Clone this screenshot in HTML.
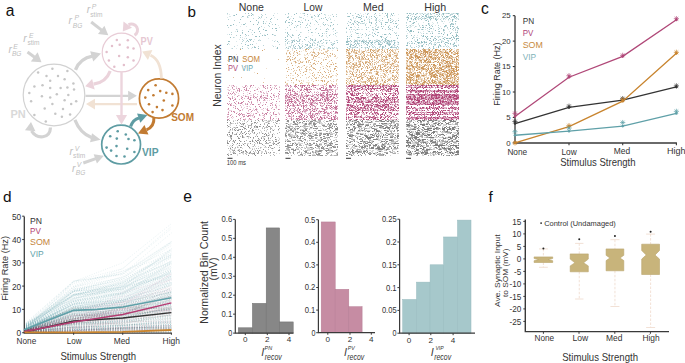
<!DOCTYPE html>
<html><head><meta charset="utf-8"><style>
html,body{margin:0;padding:0;background:#fff;}
svg{display:block;font-family:"Liberation Sans", sans-serif;}
</style></head><body>
<svg width="685" height="363" viewBox="0 0 685 363">
<rect width="685" height="363" fill="#fff"/>
<text x="5.8" y="15.9" font-size="15.6" fill="#111">a</text>
<text x="23.2" y="42.3" font-size="10.4" fill="#c0c0c0" font-style="italic">r</text>
<text x="28.9" y="37.8" font-size="6.8" fill="#c0c0c0" font-style="italic">E</text>
<text x="27.4" y="45.4" font-size="6.6" fill="#c0c0c0">stim</text>
<text x="8.4" y="52.9" font-size="10.4" fill="#c0c0c0" font-style="italic">r</text>
<text x="13.2" y="48.5" font-size="6.8" fill="#c0c0c0" font-style="italic">E</text>
<text x="11.9" y="56" font-size="6.6" fill="#c0c0c0" font-style="italic">BG</text>
<text x="86.7" y="13.4" font-size="10.4" fill="#c0c0c0" font-style="italic">r</text>
<text x="91.8" y="8.9" font-size="6.8" fill="#c0c0c0" font-style="italic">P</text>
<text x="90.3" y="16.7" font-size="6.6" fill="#c0c0c0">stim</text>
<text x="68.4" y="24.2" font-size="10.4" fill="#c0c0c0" font-style="italic">r</text>
<text x="74.4" y="19.8" font-size="6.8" fill="#c0c0c0" font-style="italic">P</text>
<text x="72.8" y="27.9" font-size="6.6" fill="#c0c0c0" font-style="italic">BG</text>
<text x="69.4" y="154.9" font-size="10.4" fill="#c0c0c0" font-style="italic">r</text>
<text x="74.7" y="150.5" font-size="6.8" fill="#c0c0c0" font-style="italic">V</text>
<text x="73.1" y="158.2" font-size="6.6" fill="#c0c0c0">stim</text>
<text x="72" y="172" font-size="10.4" fill="#c0c0c0" font-style="italic">r</text>
<text x="76.8" y="167" font-size="6.8" fill="#c0c0c0" font-style="italic">V</text>
<text x="75.8" y="174.7" font-size="6.6" fill="#c0c0c0" font-style="italic">BG</text>
<path d="M27.5 52L34.63 57.19" stroke="#d3d3d3" stroke-width="3" fill="none"/>
<path d="M41.5 62.2L30.84 61.55L37.61 52.25Z" fill="#d3d3d3"/>
<path d="M91.2 22L101.59 30.08" stroke="#d3d3d3" stroke-width="3" fill="none"/>
<path d="M108.3 35.3L97.97 33.92L104.42 25.63Z" fill="#d3d3d3"/>
<path d="M83.3 163L95.78 158.62" stroke="#d3d3d3" stroke-width="3" fill="none"/>
<path d="M103.8 155.8L96.93 163.41L93.68 154.16Z" fill="#d3d3d3"/>
<circle cx="54" cy="95" r="30.8" fill="none" stroke="#d2d2d2" stroke-width="1.2"/>
<g fill="#c6c6c6"><circle cx="52.4" cy="68.7" r="1.25"/><circle cx="38.1" cy="72.6" r="1.25"/><circle cx="67.4" cy="70.9" r="1.25"/><circle cx="46.5" cy="75.9" r="1.25"/><circle cx="58" cy="75.9" r="1.25"/><circle cx="50.2" cy="80.8" r="1.25"/><circle cx="64.6" cy="79.2" r="1.25"/><circle cx="73.4" cy="83.6" r="1.25"/><circle cx="34.4" cy="86.5" r="1.25"/><circle cx="42.5" cy="85.2" r="1.25"/><circle cx="50.2" cy="88" r="1.25"/><circle cx="60.6" cy="88" r="1.25"/><circle cx="67.4" cy="87.4" r="1.25"/><circle cx="74" cy="89.6" r="1.25"/><circle cx="29.3" cy="92.9" r="1.25"/><circle cx="41.9" cy="96.2" r="1.25"/><circle cx="50.2" cy="97.5" r="1.25"/><circle cx="56.8" cy="94.2" r="1.25"/><circle cx="68.3" cy="95.1" r="1.25"/><circle cx="31.1" cy="101.3" r="1.25"/><circle cx="64.6" cy="100.2" r="1.25"/><circle cx="76.2" cy="101.3" r="1.25"/><circle cx="52.4" cy="103.9" r="1.25"/><circle cx="71.2" cy="103.9" r="1.25"/><circle cx="44.7" cy="108.5" r="1.25"/><circle cx="63" cy="109" r="1.25"/><circle cx="55.3" cy="113.8" r="1.25"/><circle cx="34.4" cy="114.9" r="1.25"/><circle cx="61.9" cy="116.7" r="1.25"/><circle cx="70.1" cy="114.5" r="1.25"/><circle cx="45.8" cy="121.5" r="1.25"/></g>
<text x="10.5" y="117.9" font-size="11" fill="#d9d9d9" font-weight="bold">PN</text>
<path d="M50.5 127.5C50 139 37 139.5 31.5 131" stroke="#d3d3d3" stroke-width="3.2" fill="none"/>
<path d="M31 122L35.43 131.28L24.97 130.32Z" fill="#d3d3d3"/>
<circle cx="121.6" cy="52.5" r="19.4" fill="none" stroke="#e8ccd6" stroke-width="1.2"/>
<g fill="#e3bfcc"><circle cx="116.8" cy="39.9" r="1.25"/><circle cx="127.8" cy="40.3" r="1.25"/><circle cx="112" cy="46" r="1.25"/><circle cx="119.7" cy="44.7" r="1.25"/><circle cx="127.8" cy="47.6" r="1.25"/><circle cx="133.5" cy="48.5" r="1.25"/><circle cx="106.6" cy="52" r="1.25"/><circle cx="119.1" cy="55.9" r="1.25"/><circle cx="127.8" cy="57.2" r="1.25"/><circle cx="108.9" cy="60.5" r="1.25"/><circle cx="133.5" cy="60.5" r="1.25"/><circle cx="114.3" cy="66.8" r="1.25"/><circle cx="123.9" cy="64.9" r="1.25"/></g>
<text x="140.6" y="45" font-size="10.2" fill="#e6c7d2" font-weight="bold" textLength="12.2" lengthAdjust="spacingAndGlyphs">PV</text>
<path d="M134.5 35.3A5.6 5.6 0 1 0 128.5 24.8" stroke="#ead3db" stroke-width="3" fill="none"/>
<path d="M122.8 31.5L123.48 21.54L132.02 27.66Z" fill="#ead3db"/>
<circle cx="159" cy="98.5" r="19.6" fill="none" stroke="#c27b32" stroke-width="1.7"/>
<g fill="#c27b32"><circle cx="155.6" cy="85.2" r="1.3"/><circle cx="148.2" cy="90.1" r="1.3"/><circle cx="160.2" cy="91.1" r="1.3"/><circle cx="166.3" cy="92.8" r="1.3"/><circle cx="172.4" cy="93.9" r="1.3"/><circle cx="153.4" cy="95.2" r="1.3"/><circle cx="145.3" cy="97.6" r="1.3"/><circle cx="163.8" cy="100.5" r="1.3"/><circle cx="149" cy="104.3" r="1.3"/><circle cx="156.9" cy="107.1" r="1.3"/><circle cx="172.4" cy="105.5" r="1.3"/><circle cx="162.5" cy="110.1" r="1.3"/><circle cx="152.6" cy="112.1" r="1.3"/></g>
<text x="171.2" y="121.3" font-size="10.3" fill="#c27b32" font-weight="bold" textLength="22.8" lengthAdjust="spacingAndGlyphs">SOM</text>
<circle cx="121.1" cy="144.6" r="19.4" fill="none" stroke="#5e9ca3" stroke-width="1.7"/>
<g fill="#5e9ca3"><circle cx="117.7" cy="131.3" r="1.3"/><circle cx="110.2" cy="136.3" r="1.3"/><circle cx="125.8" cy="134.5" r="1.3"/><circle cx="116.8" cy="138.6" r="1.3"/><circle cx="128.5" cy="139" r="1.3"/><circle cx="134.4" cy="140.2" r="1.3"/><circle cx="106.6" cy="147.6" r="1.3"/><circle cx="116.5" cy="146.1" r="1.3"/><circle cx="127.2" cy="148.8" r="1.3"/><circle cx="111.1" cy="150.6" r="1.3"/><circle cx="134.4" cy="152" r="1.3"/><circle cx="116.5" cy="156" r="1.3"/><circle cx="124.5" cy="156.5" r="1.3"/></g>
<text x="142" y="156.1" font-size="10.3" fill="#5e9ca3" font-weight="bold" textLength="16.6" lengthAdjust="spacingAndGlyphs">VIP</text>
<path d="M75.5 69.8Q80 58.5 92.5 56.2" stroke="#d3d3d3" stroke-width="3.4" fill="none"/>
<path d="M101 53.5L93.28 61.51L90.12 51.19Z" fill="#d3d3d3"/>
<path d="M110.2 71Q106 82.5 93.5 84.2" stroke="#ebd3db" stroke-width="3.2" fill="none"/>
<path d="M85.2 86.3L92.11 79.11L94.69 89.39Z" fill="#ebd3db"/>
<path d="M85.5 95.8L128.6 95.8" stroke="#d3d3d3" stroke-width="2.2" fill="none"/>
<path d="M136.9 95.8L128.1 100.9L128.1 90.7Z" fill="#d3d3d3"/>
<path d="M137 104.1L94.5 104.1" stroke="#f1e2d4" stroke-width="2.3" fill="none"/>
<path d="M86 104.1L95 98.8L95 109.4Z" fill="#f1e2d4"/>
<path d="M121.5 72L121.5 115.6" stroke="#ecd5dd" stroke-width="2.4" fill="none"/>
<path d="M121.5 124.4L115.9 115.1L127.1 115.1Z" fill="#ecd5dd"/>
<path d="M161.4 78.6Q161.2 60 150.5 55.2" stroke="#f1e2d4" stroke-width="2.8" fill="none"/>
<path d="M142.2 51.4L152.39 49.93L147.91 59.97Z" fill="#f1e2d4"/>
<path d="M74.9 119.9Q80 133 91.5 137.6" stroke="#d3d3d3" stroke-width="3.2" fill="none"/>
<path d="M100.6 139.8L90.06 142.35L92.04 133.15Z" fill="#d3d3d3"/>
<path d="M130.6 126.6Q133 119.5 139 118" stroke="#5e9ca3" stroke-width="3" fill="none"/>
<path d="M147.4 115.1L140.34 122.82L137.06 113.48Z" fill="#5e9ca3"/>
<path d="M153.9 117.2Q154.5 127 146.5 129.8" stroke="#c27b32" stroke-width="3" fill="none"/>
<path d="M138 133.4L144.45 125.11L148.45 134.49Z" fill="#c27b32"/>
<text x="187.4" y="16.5" font-size="15.2" fill="#111">b</text>
<text x="238.7" y="11.2" font-size="10.3" fill="#333" textLength="25.2" lengthAdjust="spacingAndGlyphs">None</text>
<text x="303.5" y="11.2" font-size="10.3" fill="#333" textLength="18.8" lengthAdjust="spacingAndGlyphs">Low</text>
<text x="363" y="11.2" font-size="10.3" fill="#333" textLength="20.5" lengthAdjust="spacingAndGlyphs">Med</text>
<text x="424.3" y="11.2" font-size="10.3" fill="#333" textLength="21.9" lengthAdjust="spacingAndGlyphs">High</text>
<text x="221.2" y="75.5" font-size="10.6" fill="#333" text-anchor="middle" textLength="62.5" lengthAdjust="spacingAndGlyphs" transform="rotate(-90 221.2 75.5)">Neuron Index</text>
<path fill="#4a8f98" fill-opacity="0.19" d="M274 13h1v1h-1zM277 13h1v1h-1zM227 14h1v1h-1zM229 14h1v1h-1zM253 14h1v1h-1zM253 15h1v1h-1zM229 16h1v1h-1zM230 16h1v1h-1zM258 16h1v1h-1zM227 17h1v1h-1zM241 17h1v1h-1zM248 17h1v1h-1zM274 17h1v1h-1zM260 18h1v1h-1zM264 19h1v1h-1zM258 21h1v1h-1zM266 21h1v1h-1zM263 22h1v1h-1zM271 22h1v1h-1zM258 23h1v1h-1zM241 24h1v1h-1zM236 25h1v1h-1zM278 25h1v1h-1zM240 26h1v1h-1zM246 26h1v1h-1zM264 27h1v1h-1zM279 27h1v1h-1zM237 29h1v1h-1zM249 29h1v1h-1zM237 30h1v1h-1zM235 31h1v1h-1zM251 32h1v1h-1zM227 34h1v1h-1zM264 34h1v1h-1zM273 34h1v1h-1zM245 36h1v1h-1zM234 37h1v1h-1zM242 37h1v1h-1zM244 38h1v1h-1zM268 38h1v1h-1zM239 39h1v1h-1zM254 39h1v1h-1zM259 39h1v1h-1zM259 40h1v1h-1zM272 40h1v1h-1zM275 40h1v1h-1zM236 41h1v1h-1zM245 42h1v1h-1zM278 42h1v1h-1zM256 43h1v1h-1zM229 44h1v1h-1zM237 45h1v1h-1zM272 45h1v1h-1zM275 46h1v1h-1zM247 47h1v1h-1zM231 48h1v1h-1zM236 48h1v1h-1zM251 48h1v1h-1zM276 48h1v1h-1z"/>
<path fill="#4a8f98" fill-opacity="0.38" d="M227 13h1v1h-1zM245 13h1v1h-1zM261 14h1v1h-1zM265 14h1v1h-1zM233 15h1v1h-1zM248 15h1v1h-1zM249 15h1v1h-1zM262 15h1v1h-1zM273 15h1v1h-1zM243 16h1v1h-1zM247 16h1v1h-1zM261 16h1v1h-1zM247 17h1v1h-1zM261 17h1v1h-1zM266 17h1v1h-1zM253 18h1v1h-1zM258 18h1v1h-1zM228 19h1v1h-1zM277 19h1v1h-1zM234 20h1v1h-1zM270 21h1v1h-1zM239 22h1v1h-1zM245 23h1v1h-1zM265 23h1v1h-1zM272 24h1v1h-1zM231 25h1v1h-1zM268 25h1v1h-1zM261 26h1v1h-1zM269 26h1v1h-1zM228 27h1v1h-1zM236 29h1v1h-1zM250 29h1v1h-1zM258 29h1v1h-1zM242 30h1v1h-1zM252 30h1v1h-1zM231 32h1v1h-1zM242 33h1v1h-1zM260 33h1v1h-1zM229 34h1v1h-1zM231 34h1v1h-1zM252 34h1v1h-1zM236 35h1v1h-1zM246 35h1v1h-1zM248 35h1v1h-1zM264 35h1v1h-1zM274 35h1v1h-1zM275 35h1v1h-1zM233 37h1v1h-1zM240 37h1v1h-1zM246 38h1v1h-1zM242 39h1v1h-1zM250 39h1v1h-1zM243 40h1v1h-1zM258 40h1v1h-1zM260 40h1v1h-1zM242 41h1v1h-1zM246 41h1v1h-1zM253 41h1v1h-1zM274 41h1v1h-1zM228 43h1v1h-1zM241 43h1v1h-1zM279 44h1v1h-1zM247 45h1v1h-1zM263 45h1v1h-1zM234 46h1v1h-1zM242 46h1v1h-1zM254 46h1v1h-1zM258 46h1v1h-1zM273 46h1v1h-1zM252 47h1v1h-1zM232 48h1v1h-1zM240 48h1v1h-1zM248 48h1v1h-1z"/>
<path fill="#4a8f98" fill-opacity="0.57" d="M248 13h1v1h-1zM251 13h1v1h-1zM236 14h1v1h-1zM252 14h1v1h-1zM234 15h1v1h-1zM251 15h1v1h-1zM242 16h1v1h-1zM259 17h1v1h-1zM271 18h1v1h-1zM240 19h1v1h-1zM270 19h1v1h-1zM256 20h1v1h-1zM250 21h1v1h-1zM263 21h1v1h-1zM258 22h1v1h-1zM263 23h1v1h-1zM269 23h1v1h-1zM233 24h1v1h-1zM243 24h1v1h-1zM244 24h1v1h-1zM253 24h1v1h-1zM257 24h1v1h-1zM275 24h1v1h-1zM227 25h1v1h-1zM230 25h1v1h-1zM259 27h1v1h-1zM258 28h1v1h-1zM272 28h1v1h-1zM275 28h1v1h-1zM276 28h1v1h-1zM263 29h1v1h-1zM265 30h1v1h-1zM266 30h1v1h-1zM276 30h1v1h-1zM237 31h1v1h-1zM248 31h1v1h-1zM259 31h1v1h-1zM242 32h1v1h-1zM254 32h1v1h-1zM245 34h1v1h-1zM267 34h1v1h-1zM272 34h1v1h-1zM240 35h1v1h-1zM262 35h1v1h-1zM265 35h1v1h-1zM255 36h1v1h-1zM256 36h1v1h-1zM259 36h1v1h-1zM230 37h1v1h-1zM249 39h1v1h-1zM251 39h1v1h-1zM247 40h1v1h-1zM250 40h1v1h-1zM228 41h1v1h-1zM229 41h1v1h-1zM248 41h1v1h-1zM277 41h1v1h-1zM227 44h1v1h-1zM245 44h1v1h-1zM250 44h1v1h-1zM252 44h1v1h-1zM248 45h1v1h-1zM254 47h1v1h-1zM255 47h1v1h-1zM277 47h1v1h-1zM242 48h1v1h-1zM258 48h1v1h-1zM277 48h1v1h-1z"/>
<path fill="#c4843c" fill-opacity="0.25" d="M236 54h1v1h-1zM231 58h1v1h-1zM227 60h1v1h-1zM251 60h1v1h-1zM266 68h1v1h-1zM234 70h1v1h-1zM254 72h1v1h-1zM264 78h1v1h-1z"/>
<path fill="#c4843c" fill-opacity="0.5" d="M264 49h1v1h-1zM245 58h1v1h-1zM278 59h1v1h-1zM227 64h1v1h-1zM244 66h1v1h-1zM233 77h1v1h-1zM241 77h1v1h-1zM263 82h1v1h-1z"/>
<path fill="#c4843c" fill-opacity="0.75" d="M240 49h1v1h-1zM262 50h1v1h-1zM257 73h1v1h-1z"/>
<path fill="#b04476" fill-opacity="0.22" d="M231 85h1v1h-1zM232 85h1v1h-1zM260 85h1v1h-1zM271 85h1v1h-1zM275 85h1v1h-1zM231 86h1v1h-1zM233 86h1v1h-1zM236 86h1v1h-1zM242 86h1v1h-1zM247 86h1v1h-1zM279 86h1v1h-1zM227 87h1v1h-1zM236 87h1v1h-1zM246 87h1v1h-1zM250 87h1v1h-1zM252 87h1v1h-1zM255 87h1v1h-1zM258 87h1v1h-1zM272 87h1v1h-1zM274 87h1v1h-1zM257 88h1v1h-1zM259 88h1v1h-1zM271 88h1v1h-1zM227 89h1v1h-1zM228 89h1v1h-1zM230 89h1v1h-1zM237 89h1v1h-1zM256 89h1v1h-1zM277 89h1v1h-1zM279 89h1v1h-1zM228 90h1v1h-1zM238 90h1v1h-1zM247 90h1v1h-1zM255 90h1v1h-1zM262 90h1v1h-1zM231 91h1v1h-1zM233 91h1v1h-1zM235 91h1v1h-1zM237 91h1v1h-1zM243 91h1v1h-1zM258 91h1v1h-1zM261 91h1v1h-1zM266 91h1v1h-1zM247 92h1v1h-1zM260 92h1v1h-1zM266 92h1v1h-1zM238 93h1v1h-1zM250 93h1v1h-1zM254 93h1v1h-1zM263 93h1v1h-1zM266 93h1v1h-1zM274 93h1v1h-1zM229 94h1v1h-1zM234 94h1v1h-1zM247 94h1v1h-1zM261 94h1v1h-1zM267 94h1v1h-1zM234 95h1v1h-1zM239 95h1v1h-1zM245 95h1v1h-1zM250 95h1v1h-1zM251 95h1v1h-1zM265 95h1v1h-1zM266 95h1v1h-1zM247 96h1v1h-1zM274 96h1v1h-1zM229 97h1v1h-1zM234 97h1v1h-1zM241 97h1v1h-1zM251 97h1v1h-1zM261 97h1v1h-1zM262 97h1v1h-1zM263 97h1v1h-1zM266 97h1v1h-1zM278 97h1v1h-1zM254 98h1v1h-1zM256 98h1v1h-1zM269 98h1v1h-1zM278 98h1v1h-1zM279 98h1v1h-1zM251 99h1v1h-1zM259 99h1v1h-1zM277 99h1v1h-1zM265 100h1v1h-1zM267 100h1v1h-1zM269 100h1v1h-1zM257 101h1v1h-1zM257 102h1v1h-1zM263 102h1v1h-1zM239 103h1v1h-1zM260 103h1v1h-1zM276 103h1v1h-1zM231 104h1v1h-1zM236 104h1v1h-1zM242 104h1v1h-1zM246 104h1v1h-1zM263 104h1v1h-1zM234 105h1v1h-1zM243 105h1v1h-1zM276 105h1v1h-1zM279 105h1v1h-1zM241 106h1v1h-1zM246 106h1v1h-1zM249 106h1v1h-1zM267 106h1v1h-1zM235 107h1v1h-1zM244 107h1v1h-1zM250 107h1v1h-1zM255 107h1v1h-1zM275 107h1v1h-1zM243 108h1v1h-1zM246 108h1v1h-1zM253 108h1v1h-1zM265 108h1v1h-1zM276 108h1v1h-1zM227 109h1v1h-1zM253 109h1v1h-1zM257 109h1v1h-1zM261 109h1v1h-1zM262 109h1v1h-1zM266 109h1v1h-1zM273 109h1v1h-1zM229 110h1v1h-1zM230 110h1v1h-1zM231 110h1v1h-1zM242 110h1v1h-1zM263 110h1v1h-1zM269 110h1v1h-1zM228 111h1v1h-1zM239 111h1v1h-1zM248 111h1v1h-1zM274 111h1v1h-1zM237 112h1v1h-1zM246 112h1v1h-1zM250 112h1v1h-1zM257 112h1v1h-1zM258 112h1v1h-1zM262 112h1v1h-1zM278 112h1v1h-1zM228 113h1v1h-1zM251 113h1v1h-1zM253 113h1v1h-1zM263 113h1v1h-1zM269 113h1v1h-1zM278 113h1v1h-1zM279 113h1v1h-1zM239 114h1v1h-1zM250 114h1v1h-1zM270 114h1v1h-1zM274 114h1v1h-1zM244 115h1v1h-1zM251 115h1v1h-1zM253 115h1v1h-1zM260 115h1v1h-1zM262 115h1v1h-1zM264 115h1v1h-1zM250 116h1v1h-1zM252 116h1v1h-1zM275 116h1v1h-1zM276 116h1v1h-1zM233 117h1v1h-1zM241 117h1v1h-1zM243 117h1v1h-1zM253 117h1v1h-1zM229 118h1v1h-1zM232 118h1v1h-1zM245 118h1v1h-1zM276 118h1v1h-1zM240 119h1v1h-1zM248 119h1v1h-1zM249 119h1v1h-1zM260 119h1v1h-1zM261 119h1v1h-1zM263 119h1v1h-1z"/>
<path fill="#b04476" fill-opacity="0.44" d="M229 85h1v1h-1zM245 85h1v1h-1zM246 85h1v1h-1zM250 85h1v1h-1zM262 85h1v1h-1zM274 85h1v1h-1zM276 85h1v1h-1zM234 86h1v1h-1zM265 86h1v1h-1zM275 86h1v1h-1zM228 87h1v1h-1zM243 87h1v1h-1zM263 87h1v1h-1zM264 87h1v1h-1zM267 87h1v1h-1zM279 87h1v1h-1zM232 88h1v1h-1zM236 88h1v1h-1zM239 88h1v1h-1zM249 88h1v1h-1zM267 88h1v1h-1zM274 88h1v1h-1zM233 89h1v1h-1zM234 89h1v1h-1zM229 90h1v1h-1zM241 90h1v1h-1zM245 90h1v1h-1zM270 90h1v1h-1zM250 91h1v1h-1zM228 92h1v1h-1zM236 92h1v1h-1zM261 92h1v1h-1zM263 92h1v1h-1zM234 93h1v1h-1zM243 93h1v1h-1zM255 93h1v1h-1zM264 93h1v1h-1zM267 93h1v1h-1zM231 94h1v1h-1zM235 94h1v1h-1zM253 94h1v1h-1zM257 94h1v1h-1zM273 94h1v1h-1zM227 95h1v1h-1zM238 95h1v1h-1zM243 95h1v1h-1zM253 95h1v1h-1zM261 95h1v1h-1zM274 95h1v1h-1zM278 95h1v1h-1zM232 96h1v1h-1zM241 96h1v1h-1zM246 96h1v1h-1zM248 96h1v1h-1zM253 96h1v1h-1zM254 96h1v1h-1zM257 96h1v1h-1zM267 96h1v1h-1zM278 96h1v1h-1zM232 97h1v1h-1zM256 97h1v1h-1zM265 97h1v1h-1zM274 97h1v1h-1zM229 98h1v1h-1zM235 98h1v1h-1zM244 98h1v1h-1zM247 98h1v1h-1zM250 98h1v1h-1zM259 98h1v1h-1zM261 98h1v1h-1zM263 98h1v1h-1zM265 98h1v1h-1zM234 99h1v1h-1zM239 99h1v1h-1zM242 99h1v1h-1zM263 100h1v1h-1zM264 100h1v1h-1zM229 101h1v1h-1zM236 101h1v1h-1zM251 101h1v1h-1zM279 101h1v1h-1zM249 102h1v1h-1zM260 102h1v1h-1zM272 102h1v1h-1zM229 103h1v1h-1zM231 103h1v1h-1zM245 103h1v1h-1zM247 103h1v1h-1zM251 103h1v1h-1zM270 103h1v1h-1zM245 104h1v1h-1zM250 104h1v1h-1zM259 104h1v1h-1zM272 104h1v1h-1zM275 104h1v1h-1zM231 105h1v1h-1zM233 105h1v1h-1zM240 105h1v1h-1zM272 105h1v1h-1zM247 106h1v1h-1zM276 106h1v1h-1zM233 107h1v1h-1zM241 107h1v1h-1zM272 107h1v1h-1zM276 107h1v1h-1zM247 108h1v1h-1zM256 108h1v1h-1zM263 108h1v1h-1zM267 108h1v1h-1zM271 108h1v1h-1zM228 109h1v1h-1zM242 109h1v1h-1zM249 109h1v1h-1zM279 109h1v1h-1zM239 110h1v1h-1zM248 110h1v1h-1zM252 110h1v1h-1zM254 110h1v1h-1zM256 110h1v1h-1zM234 111h1v1h-1zM257 111h1v1h-1zM270 112h1v1h-1zM249 113h1v1h-1zM255 113h1v1h-1zM227 114h1v1h-1zM231 114h1v1h-1zM243 114h1v1h-1zM244 114h1v1h-1zM253 114h1v1h-1zM273 114h1v1h-1zM279 114h1v1h-1zM242 115h1v1h-1zM246 115h1v1h-1zM250 115h1v1h-1zM252 115h1v1h-1zM259 115h1v1h-1zM263 115h1v1h-1zM227 116h1v1h-1zM228 116h1v1h-1zM232 116h1v1h-1zM264 116h1v1h-1zM270 116h1v1h-1zM227 117h1v1h-1zM231 117h1v1h-1zM254 117h1v1h-1zM263 117h1v1h-1zM244 119h1v1h-1zM245 119h1v1h-1zM251 119h1v1h-1zM257 119h1v1h-1zM270 119h1v1h-1zM272 119h1v1h-1z"/>
<path fill="#b04476" fill-opacity="0.66" d="M233 85h1v1h-1zM251 85h1v1h-1zM253 85h1v1h-1zM263 85h1v1h-1zM267 85h1v1h-1zM270 85h1v1h-1zM245 86h1v1h-1zM250 86h1v1h-1zM263 86h1v1h-1zM232 87h1v1h-1zM244 87h1v1h-1zM270 87h1v1h-1zM238 88h1v1h-1zM246 88h1v1h-1zM265 88h1v1h-1zM276 88h1v1h-1zM239 89h1v1h-1zM244 89h1v1h-1zM246 89h1v1h-1zM257 89h1v1h-1zM271 89h1v1h-1zM237 90h1v1h-1zM239 90h1v1h-1zM246 90h1v1h-1zM248 90h1v1h-1zM254 90h1v1h-1zM239 91h1v1h-1zM260 91h1v1h-1zM268 91h1v1h-1zM279 91h1v1h-1zM233 92h1v1h-1zM228 93h1v1h-1zM230 93h1v1h-1zM232 93h1v1h-1zM249 93h1v1h-1zM271 93h1v1h-1zM278 93h1v1h-1zM279 94h1v1h-1zM263 95h1v1h-1zM267 95h1v1h-1zM273 95h1v1h-1zM237 96h1v1h-1zM245 96h1v1h-1zM260 96h1v1h-1zM261 96h1v1h-1zM270 96h1v1h-1zM276 96h1v1h-1zM228 97h1v1h-1zM242 97h1v1h-1zM248 97h1v1h-1zM250 97h1v1h-1zM253 97h1v1h-1zM255 97h1v1h-1zM260 97h1v1h-1zM264 97h1v1h-1zM271 97h1v1h-1zM230 98h1v1h-1zM232 98h1v1h-1zM241 98h1v1h-1zM248 98h1v1h-1zM266 98h1v1h-1zM267 98h1v1h-1zM230 99h1v1h-1zM235 99h1v1h-1zM249 99h1v1h-1zM250 99h1v1h-1zM257 99h1v1h-1zM264 99h1v1h-1zM271 99h1v1h-1zM273 99h1v1h-1zM233 100h1v1h-1zM257 100h1v1h-1zM259 100h1v1h-1zM243 101h1v1h-1zM248 101h1v1h-1zM276 101h1v1h-1zM234 102h1v1h-1zM238 102h1v1h-1zM241 102h1v1h-1zM242 102h1v1h-1zM251 102h1v1h-1zM266 102h1v1h-1zM227 103h1v1h-1zM235 103h1v1h-1zM238 103h1v1h-1zM240 103h1v1h-1zM241 103h1v1h-1zM271 103h1v1h-1zM228 104h1v1h-1zM230 104h1v1h-1zM247 104h1v1h-1zM252 104h1v1h-1zM253 104h1v1h-1zM258 104h1v1h-1zM265 104h1v1h-1zM230 105h1v1h-1zM262 105h1v1h-1zM270 105h1v1h-1zM275 105h1v1h-1zM235 106h1v1h-1zM255 106h1v1h-1zM259 106h1v1h-1zM260 107h1v1h-1zM228 108h1v1h-1zM235 108h1v1h-1zM237 108h1v1h-1zM238 109h1v1h-1zM250 109h1v1h-1zM255 109h1v1h-1zM256 109h1v1h-1zM267 109h1v1h-1zM274 109h1v1h-1zM278 109h1v1h-1zM240 110h1v1h-1zM267 110h1v1h-1zM268 110h1v1h-1zM231 111h1v1h-1zM233 111h1v1h-1zM251 111h1v1h-1zM228 112h1v1h-1zM234 112h1v1h-1zM267 112h1v1h-1zM273 112h1v1h-1zM236 113h1v1h-1zM239 113h1v1h-1zM241 113h1v1h-1zM247 113h1v1h-1zM248 113h1v1h-1zM256 113h1v1h-1zM262 113h1v1h-1zM265 113h1v1h-1zM266 113h1v1h-1zM273 113h1v1h-1zM228 114h1v1h-1zM238 114h1v1h-1zM240 114h1v1h-1zM242 114h1v1h-1zM259 114h1v1h-1zM264 114h1v1h-1zM266 114h1v1h-1zM275 114h1v1h-1zM276 114h1v1h-1zM230 115h1v1h-1zM239 115h1v1h-1zM248 115h1v1h-1zM249 115h1v1h-1zM271 115h1v1h-1zM236 116h1v1h-1zM243 116h1v1h-1zM244 116h1v1h-1zM247 116h1v1h-1zM248 116h1v1h-1zM254 116h1v1h-1zM270 117h1v1h-1zM240 118h1v1h-1zM249 118h1v1h-1zM258 118h1v1h-1zM264 118h1v1h-1zM270 118h1v1h-1zM273 118h1v1h-1zM278 118h1v1h-1zM227 119h1v1h-1zM228 119h1v1h-1zM238 119h1v1h-1zM243 119h1v1h-1zM250 119h1v1h-1zM262 119h1v1h-1zM278 119h1v1h-1z"/>
<path fill="#1a1a1a" fill-opacity="0.17" d="M233 120h1v1h-1zM235 120h1v1h-1zM248 120h1v1h-1zM251 120h1v1h-1zM264 120h1v1h-1zM265 120h1v1h-1zM268 120h1v1h-1zM269 120h1v1h-1zM272 120h1v1h-1zM273 120h1v1h-1zM242 121h1v1h-1zM244 121h1v1h-1zM259 121h1v1h-1zM262 121h1v1h-1zM267 121h1v1h-1zM271 121h1v1h-1zM237 122h1v1h-1zM246 122h1v1h-1zM265 122h1v1h-1zM267 122h1v1h-1zM268 122h1v1h-1zM232 123h1v1h-1zM233 123h1v1h-1zM254 123h1v1h-1zM277 123h1v1h-1zM279 123h1v1h-1zM229 124h1v1h-1zM230 124h1v1h-1zM242 124h1v1h-1zM247 124h1v1h-1zM274 124h1v1h-1zM230 125h1v1h-1zM239 125h1v1h-1zM243 125h1v1h-1zM245 125h1v1h-1zM229 126h1v1h-1zM251 126h1v1h-1zM255 126h1v1h-1zM271 126h1v1h-1zM227 127h1v1h-1zM233 127h1v1h-1zM235 127h1v1h-1zM244 127h1v1h-1zM255 127h1v1h-1zM262 127h1v1h-1zM264 127h1v1h-1zM265 127h1v1h-1zM253 128h1v1h-1zM236 129h1v1h-1zM244 129h1v1h-1zM255 129h1v1h-1zM256 129h1v1h-1zM272 129h1v1h-1zM274 129h1v1h-1zM229 130h1v1h-1zM230 130h1v1h-1zM232 130h1v1h-1zM234 130h1v1h-1zM260 130h1v1h-1zM266 130h1v1h-1zM272 130h1v1h-1zM278 130h1v1h-1zM229 131h1v1h-1zM249 131h1v1h-1zM251 131h1v1h-1zM261 131h1v1h-1zM266 131h1v1h-1zM237 132h1v1h-1zM240 132h1v1h-1zM261 132h1v1h-1zM268 132h1v1h-1zM243 133h1v1h-1zM253 133h1v1h-1zM259 133h1v1h-1zM263 133h1v1h-1zM273 133h1v1h-1zM232 134h1v1h-1zM241 134h1v1h-1zM269 134h1v1h-1zM274 134h1v1h-1zM256 135h1v1h-1zM267 135h1v1h-1zM269 135h1v1h-1zM228 136h1v1h-1zM229 136h1v1h-1zM243 136h1v1h-1zM246 136h1v1h-1zM249 136h1v1h-1zM263 136h1v1h-1zM265 136h1v1h-1zM267 136h1v1h-1zM231 137h1v1h-1zM244 137h1v1h-1zM248 137h1v1h-1zM263 137h1v1h-1zM271 137h1v1h-1zM278 137h1v1h-1zM230 138h1v1h-1zM248 138h1v1h-1zM263 138h1v1h-1zM279 138h1v1h-1zM252 139h1v1h-1zM258 139h1v1h-1zM268 139h1v1h-1zM279 139h1v1h-1zM270 140h1v1h-1zM276 140h1v1h-1zM232 141h1v1h-1zM241 141h1v1h-1zM253 141h1v1h-1zM278 142h1v1h-1zM242 143h1v1h-1zM247 143h1v1h-1zM248 143h1v1h-1zM255 143h1v1h-1zM272 143h1v1h-1zM236 144h1v1h-1zM252 144h1v1h-1zM275 144h1v1h-1zM227 145h1v1h-1zM230 145h1v1h-1zM238 145h1v1h-1zM244 145h1v1h-1zM263 145h1v1h-1zM264 145h1v1h-1zM277 145h1v1h-1zM279 145h1v1h-1zM229 146h1v1h-1zM231 146h1v1h-1zM237 146h1v1h-1zM252 146h1v1h-1zM255 146h1v1h-1zM258 146h1v1h-1zM269 146h1v1h-1zM230 147h1v1h-1zM238 147h1v1h-1zM261 147h1v1h-1zM264 147h1v1h-1zM265 147h1v1h-1zM266 147h1v1h-1zM234 148h1v1h-1zM235 148h1v1h-1zM242 148h1v1h-1zM249 148h1v1h-1zM250 148h1v1h-1zM252 148h1v1h-1zM254 148h1v1h-1zM260 148h1v1h-1zM273 148h1v1h-1zM230 149h1v1h-1zM231 149h1v1h-1zM232 149h1v1h-1zM234 149h1v1h-1zM238 149h1v1h-1zM254 149h1v1h-1zM229 150h1v1h-1zM237 150h1v1h-1zM239 150h1v1h-1zM240 150h1v1h-1zM251 150h1v1h-1zM260 150h1v1h-1zM272 150h1v1h-1zM230 151h1v1h-1zM235 151h1v1h-1zM242 151h1v1h-1zM255 151h1v1h-1zM261 151h1v1h-1zM262 151h1v1h-1zM266 151h1v1h-1zM230 152h1v1h-1zM232 152h1v1h-1zM256 152h1v1h-1zM261 152h1v1h-1zM262 152h1v1h-1zM228 153h1v1h-1zM240 153h1v1h-1zM242 153h1v1h-1zM243 153h1v1h-1zM246 153h1v1h-1zM248 153h1v1h-1zM250 153h1v1h-1zM269 153h1v1h-1zM270 153h1v1h-1zM276 153h1v1h-1zM279 153h1v1h-1zM228 154h1v1h-1zM237 154h1v1h-1zM243 154h1v1h-1zM252 154h1v1h-1zM237 155h1v1h-1z"/>
<path fill="#1a1a1a" fill-opacity="0.33" d="M229 120h1v1h-1zM240 120h1v1h-1zM244 120h1v1h-1zM255 120h1v1h-1zM266 120h1v1h-1zM270 120h1v1h-1zM275 120h1v1h-1zM277 120h1v1h-1zM233 121h1v1h-1zM247 121h1v1h-1zM263 121h1v1h-1zM268 121h1v1h-1zM269 121h1v1h-1zM276 121h1v1h-1zM239 122h1v1h-1zM257 122h1v1h-1zM266 122h1v1h-1zM273 122h1v1h-1zM275 122h1v1h-1zM230 123h1v1h-1zM231 123h1v1h-1zM235 123h1v1h-1zM237 123h1v1h-1zM242 123h1v1h-1zM243 123h1v1h-1zM251 123h1v1h-1zM252 123h1v1h-1zM256 123h1v1h-1zM264 123h1v1h-1zM269 123h1v1h-1zM241 124h1v1h-1zM264 124h1v1h-1zM267 124h1v1h-1zM236 125h1v1h-1zM248 125h1v1h-1zM249 125h1v1h-1zM250 125h1v1h-1zM251 125h1v1h-1zM255 125h1v1h-1zM275 125h1v1h-1zM240 126h1v1h-1zM245 126h1v1h-1zM248 126h1v1h-1zM260 126h1v1h-1zM266 126h1v1h-1zM272 126h1v1h-1zM275 126h1v1h-1zM230 127h1v1h-1zM234 127h1v1h-1zM236 127h1v1h-1zM251 127h1v1h-1zM254 127h1v1h-1zM256 127h1v1h-1zM266 127h1v1h-1zM267 127h1v1h-1zM270 127h1v1h-1zM232 128h1v1h-1zM235 128h1v1h-1zM262 128h1v1h-1zM264 128h1v1h-1zM270 128h1v1h-1zM271 128h1v1h-1zM279 128h1v1h-1zM232 129h1v1h-1zM238 129h1v1h-1zM239 129h1v1h-1zM246 129h1v1h-1zM258 129h1v1h-1zM267 129h1v1h-1zM270 129h1v1h-1zM249 130h1v1h-1zM264 130h1v1h-1zM245 131h1v1h-1zM252 131h1v1h-1zM270 131h1v1h-1zM228 132h1v1h-1zM241 132h1v1h-1zM252 132h1v1h-1zM259 132h1v1h-1zM270 132h1v1h-1zM279 132h1v1h-1zM236 133h1v1h-1zM240 133h1v1h-1zM248 133h1v1h-1zM250 133h1v1h-1zM254 133h1v1h-1zM257 133h1v1h-1zM268 133h1v1h-1zM277 133h1v1h-1zM234 134h1v1h-1zM235 134h1v1h-1zM249 134h1v1h-1zM256 134h1v1h-1zM227 135h1v1h-1zM272 135h1v1h-1zM240 136h1v1h-1zM248 136h1v1h-1zM255 136h1v1h-1zM262 136h1v1h-1zM230 137h1v1h-1zM238 137h1v1h-1zM243 137h1v1h-1zM261 137h1v1h-1zM268 137h1v1h-1zM253 138h1v1h-1zM264 138h1v1h-1zM270 138h1v1h-1zM231 139h1v1h-1zM259 139h1v1h-1zM276 139h1v1h-1zM227 140h1v1h-1zM230 140h1v1h-1zM246 140h1v1h-1zM263 140h1v1h-1zM268 140h1v1h-1zM269 140h1v1h-1zM272 140h1v1h-1zM278 140h1v1h-1zM227 141h1v1h-1zM233 141h1v1h-1zM234 141h1v1h-1zM249 141h1v1h-1zM259 141h1v1h-1zM273 141h1v1h-1zM254 142h1v1h-1zM269 142h1v1h-1zM270 142h1v1h-1zM273 142h1v1h-1zM232 143h1v1h-1zM244 143h1v1h-1zM245 143h1v1h-1zM257 143h1v1h-1zM260 143h1v1h-1zM261 143h1v1h-1zM265 143h1v1h-1zM266 143h1v1h-1zM267 143h1v1h-1zM268 143h1v1h-1zM273 143h1v1h-1zM277 143h1v1h-1zM233 144h1v1h-1zM247 144h1v1h-1zM254 144h1v1h-1zM254 145h1v1h-1zM270 145h1v1h-1zM253 146h1v1h-1zM265 146h1v1h-1zM235 147h1v1h-1zM237 147h1v1h-1zM241 147h1v1h-1zM260 147h1v1h-1zM270 147h1v1h-1zM274 147h1v1h-1zM279 147h1v1h-1zM228 148h1v1h-1zM256 148h1v1h-1zM258 148h1v1h-1zM271 148h1v1h-1zM239 149h1v1h-1zM252 149h1v1h-1zM268 149h1v1h-1zM279 149h1v1h-1zM232 150h1v1h-1zM233 150h1v1h-1zM255 150h1v1h-1zM265 150h1v1h-1zM233 151h1v1h-1zM245 151h1v1h-1zM250 151h1v1h-1zM253 151h1v1h-1zM265 151h1v1h-1zM233 152h1v1h-1zM234 152h1v1h-1zM242 152h1v1h-1zM243 152h1v1h-1zM246 152h1v1h-1zM247 152h1v1h-1zM249 152h1v1h-1zM254 152h1v1h-1zM266 152h1v1h-1zM268 152h1v1h-1zM273 152h1v1h-1zM274 152h1v1h-1zM234 153h1v1h-1zM239 153h1v1h-1zM245 153h1v1h-1zM251 153h1v1h-1zM252 153h1v1h-1zM258 153h1v1h-1zM261 153h1v1h-1zM230 154h1v1h-1zM246 154h1v1h-1zM273 154h1v1h-1zM261 155h1v1h-1zM270 155h1v1h-1zM274 155h1v1h-1z"/>
<path fill="#1a1a1a" fill-opacity="0.49" d="M227 120h1v1h-1zM237 120h1v1h-1zM258 120h1v1h-1zM262 120h1v1h-1zM278 120h1v1h-1zM279 120h1v1h-1zM251 121h1v1h-1zM277 121h1v1h-1zM227 122h1v1h-1zM230 122h1v1h-1zM254 122h1v1h-1zM255 122h1v1h-1zM240 123h1v1h-1zM244 123h1v1h-1zM268 123h1v1h-1zM276 123h1v1h-1zM243 124h1v1h-1zM251 124h1v1h-1zM260 124h1v1h-1zM227 125h1v1h-1zM267 125h1v1h-1zM228 126h1v1h-1zM241 126h1v1h-1zM242 126h1v1h-1zM254 126h1v1h-1zM256 126h1v1h-1zM257 126h1v1h-1zM259 126h1v1h-1zM263 126h1v1h-1zM268 126h1v1h-1zM269 126h1v1h-1zM278 126h1v1h-1zM237 127h1v1h-1zM243 127h1v1h-1zM248 127h1v1h-1zM257 127h1v1h-1zM244 128h1v1h-1zM245 128h1v1h-1zM250 128h1v1h-1zM230 129h1v1h-1zM234 129h1v1h-1zM240 129h1v1h-1zM242 129h1v1h-1zM252 129h1v1h-1zM278 129h1v1h-1zM235 130h1v1h-1zM237 130h1v1h-1zM238 130h1v1h-1zM252 130h1v1h-1zM253 130h1v1h-1zM273 130h1v1h-1zM241 131h1v1h-1zM248 131h1v1h-1zM229 132h1v1h-1zM232 132h1v1h-1zM244 132h1v1h-1zM254 132h1v1h-1zM232 133h1v1h-1zM242 133h1v1h-1zM246 133h1v1h-1zM262 133h1v1h-1zM265 133h1v1h-1zM227 134h1v1h-1zM229 134h1v1h-1zM236 134h1v1h-1zM239 134h1v1h-1zM245 134h1v1h-1zM264 134h1v1h-1zM266 134h1v1h-1zM272 134h1v1h-1zM230 135h1v1h-1zM231 135h1v1h-1zM242 135h1v1h-1zM266 135h1v1h-1zM268 135h1v1h-1zM230 136h1v1h-1zM231 136h1v1h-1zM237 136h1v1h-1zM242 136h1v1h-1zM247 136h1v1h-1zM257 136h1v1h-1zM264 136h1v1h-1zM272 136h1v1h-1zM242 137h1v1h-1zM250 137h1v1h-1zM253 137h1v1h-1zM275 137h1v1h-1zM231 138h1v1h-1zM238 138h1v1h-1zM239 138h1v1h-1zM258 138h1v1h-1zM261 138h1v1h-1zM268 138h1v1h-1zM264 139h1v1h-1zM275 139h1v1h-1zM233 140h1v1h-1zM235 140h1v1h-1zM239 140h1v1h-1zM252 140h1v1h-1zM255 140h1v1h-1zM257 140h1v1h-1zM258 140h1v1h-1zM260 140h1v1h-1zM266 140h1v1h-1zM229 141h1v1h-1zM240 141h1v1h-1zM244 141h1v1h-1zM250 141h1v1h-1zM252 141h1v1h-1zM256 141h1v1h-1zM265 141h1v1h-1zM275 141h1v1h-1zM276 141h1v1h-1zM227 142h1v1h-1zM234 142h1v1h-1zM257 142h1v1h-1zM259 142h1v1h-1zM266 142h1v1h-1zM279 142h1v1h-1zM227 143h1v1h-1zM228 143h1v1h-1zM237 143h1v1h-1zM239 143h1v1h-1zM250 143h1v1h-1zM259 143h1v1h-1zM274 143h1v1h-1zM278 143h1v1h-1zM243 144h1v1h-1zM262 144h1v1h-1zM273 144h1v1h-1zM276 144h1v1h-1zM232 145h1v1h-1zM239 145h1v1h-1zM241 145h1v1h-1zM247 145h1v1h-1zM269 145h1v1h-1zM271 145h1v1h-1zM248 146h1v1h-1zM232 147h1v1h-1zM240 147h1v1h-1zM249 147h1v1h-1zM268 147h1v1h-1zM230 148h1v1h-1zM272 148h1v1h-1zM263 149h1v1h-1zM234 150h1v1h-1zM238 150h1v1h-1zM241 150h1v1h-1zM245 150h1v1h-1zM257 150h1v1h-1zM259 150h1v1h-1zM278 150h1v1h-1zM279 150h1v1h-1zM239 151h1v1h-1zM243 151h1v1h-1zM246 151h1v1h-1zM258 151h1v1h-1zM241 152h1v1h-1zM250 152h1v1h-1zM258 152h1v1h-1zM270 152h1v1h-1zM233 153h1v1h-1zM235 153h1v1h-1zM249 153h1v1h-1zM253 153h1v1h-1zM254 153h1v1h-1zM257 153h1v1h-1zM264 153h1v1h-1zM266 153h1v1h-1zM227 154h1v1h-1zM231 154h1v1h-1zM254 154h1v1h-1zM228 155h1v1h-1zM248 155h1v1h-1zM255 155h1v1h-1z"/>
<path fill="#4a8f98" fill-opacity="0.18" d="M300 13h1v1h-1zM302 13h1v1h-1zM288 14h1v1h-1zM310 14h1v1h-1zM317 14h1v1h-1zM325 14h1v1h-1zM325 15h1v1h-1zM328 15h1v1h-1zM330 15h1v1h-1zM291 16h1v1h-1zM299 16h1v1h-1zM307 16h1v1h-1zM312 16h1v1h-1zM317 16h1v1h-1zM299 17h1v1h-1zM329 17h1v1h-1zM290 18h1v1h-1zM314 18h1v1h-1zM328 18h1v1h-1zM330 18h1v1h-1zM312 19h1v1h-1zM301 20h1v1h-1zM334 20h1v1h-1zM310 22h1v1h-1zM330 22h1v1h-1zM307 23h1v1h-1zM322 23h1v1h-1zM314 24h1v1h-1zM327 24h1v1h-1zM295 25h1v1h-1zM298 25h1v1h-1zM332 25h1v1h-1zM300 26h1v1h-1zM310 26h1v1h-1zM320 26h1v1h-1zM296 27h1v1h-1zM300 27h1v1h-1zM285 29h1v1h-1zM332 29h1v1h-1zM333 29h1v1h-1zM296 30h1v1h-1zM325 31h1v1h-1zM327 31h1v1h-1zM333 31h1v1h-1zM301 32h1v1h-1zM308 32h1v1h-1zM315 32h1v1h-1zM336 32h1v1h-1zM337 32h1v1h-1zM324 33h1v1h-1zM330 34h1v1h-1zM289 35h1v1h-1zM312 35h1v1h-1zM326 35h1v1h-1zM335 35h1v1h-1zM308 36h1v1h-1zM322 36h1v1h-1zM326 36h1v1h-1zM336 36h1v1h-1zM327 37h1v1h-1zM298 38h1v1h-1zM315 38h1v1h-1zM294 39h1v1h-1zM310 39h1v1h-1zM305 40h1v1h-1zM320 40h1v1h-1zM327 40h1v1h-1zM289 41h1v1h-1zM313 41h1v1h-1zM313 42h1v1h-1zM327 42h1v1h-1zM330 42h1v1h-1zM285 43h1v1h-1zM289 43h1v1h-1zM291 43h1v1h-1zM302 43h1v1h-1zM314 43h1v1h-1zM319 43h1v1h-1zM321 43h1v1h-1zM332 43h1v1h-1zM285 44h1v1h-1zM291 44h1v1h-1zM301 44h1v1h-1zM306 44h1v1h-1zM332 44h1v1h-1zM285 45h1v1h-1zM309 45h1v1h-1zM319 45h1v1h-1zM321 45h1v1h-1zM322 45h1v1h-1zM323 45h1v1h-1zM288 46h1v1h-1zM324 46h1v1h-1zM288 47h1v1h-1zM293 47h1v1h-1zM304 47h1v1h-1zM309 47h1v1h-1zM316 47h1v1h-1zM317 47h1v1h-1zM336 47h1v1h-1zM285 48h1v1h-1zM287 48h1v1h-1zM302 48h1v1h-1zM314 48h1v1h-1zM315 48h1v1h-1zM324 48h1v1h-1zM327 48h1v1h-1zM329 48h1v1h-1zM336 48h1v1h-1z"/>
<path fill="#4a8f98" fill-opacity="0.36" d="M303 13h1v1h-1zM285 14h1v1h-1zM324 14h1v1h-1zM332 14h1v1h-1zM336 14h1v1h-1zM304 15h1v1h-1zM288 16h1v1h-1zM311 16h1v1h-1zM315 16h1v1h-1zM336 16h1v1h-1zM288 17h1v1h-1zM300 17h1v1h-1zM301 17h1v1h-1zM312 17h1v1h-1zM303 18h1v1h-1zM323 18h1v1h-1zM305 19h1v1h-1zM319 19h1v1h-1zM330 19h1v1h-1zM292 20h1v1h-1zM305 20h1v1h-1zM315 20h1v1h-1zM299 21h1v1h-1zM291 22h1v1h-1zM300 22h1v1h-1zM317 22h1v1h-1zM323 22h1v1h-1zM291 24h1v1h-1zM307 24h1v1h-1zM318 24h1v1h-1zM337 24h1v1h-1zM289 25h1v1h-1zM309 25h1v1h-1zM324 25h1v1h-1zM328 25h1v1h-1zM296 26h1v1h-1zM330 26h1v1h-1zM287 27h1v1h-1zM305 27h1v1h-1zM307 27h1v1h-1zM327 28h1v1h-1zM290 29h1v1h-1zM310 29h1v1h-1zM315 29h1v1h-1zM320 29h1v1h-1zM328 29h1v1h-1zM335 30h1v1h-1zM285 32h1v1h-1zM300 32h1v1h-1zM312 32h1v1h-1zM326 33h1v1h-1zM292 34h1v1h-1zM333 34h1v1h-1zM287 35h1v1h-1zM293 35h1v1h-1zM290 36h1v1h-1zM300 36h1v1h-1zM321 36h1v1h-1zM298 37h1v1h-1zM305 37h1v1h-1zM299 39h1v1h-1zM300 39h1v1h-1zM311 39h1v1h-1zM315 39h1v1h-1zM286 40h1v1h-1zM291 40h1v1h-1zM292 40h1v1h-1zM294 40h1v1h-1zM310 40h1v1h-1zM314 40h1v1h-1zM325 40h1v1h-1zM326 40h1v1h-1zM336 40h1v1h-1zM337 40h1v1h-1zM288 41h1v1h-1zM298 41h1v1h-1zM299 41h1v1h-1zM302 41h1v1h-1zM308 41h1v1h-1zM318 41h1v1h-1zM334 41h1v1h-1zM287 42h1v1h-1zM291 42h1v1h-1zM309 42h1v1h-1zM314 42h1v1h-1zM317 42h1v1h-1zM318 42h1v1h-1zM323 42h1v1h-1zM326 42h1v1h-1zM331 42h1v1h-1zM296 43h1v1h-1zM312 43h1v1h-1zM315 43h1v1h-1zM322 43h1v1h-1zM333 43h1v1h-1zM294 44h1v1h-1zM333 44h1v1h-1zM291 45h1v1h-1zM302 45h1v1h-1zM306 45h1v1h-1zM314 45h1v1h-1zM317 45h1v1h-1zM289 46h1v1h-1zM290 46h1v1h-1zM293 46h1v1h-1zM305 46h1v1h-1zM309 46h1v1h-1zM310 46h1v1h-1zM290 47h1v1h-1zM294 47h1v1h-1zM299 47h1v1h-1zM300 47h1v1h-1zM301 47h1v1h-1zM310 47h1v1h-1zM320 47h1v1h-1zM329 47h1v1h-1zM332 47h1v1h-1zM334 47h1v1h-1zM292 48h1v1h-1zM294 48h1v1h-1zM297 48h1v1h-1zM299 48h1v1h-1zM309 48h1v1h-1zM319 48h1v1h-1zM323 48h1v1h-1zM328 48h1v1h-1zM332 48h1v1h-1zM333 48h1v1h-1zM337 48h1v1h-1z"/>
<path fill="#4a8f98" fill-opacity="0.54" d="M288 13h1v1h-1zM296 13h1v1h-1zM304 13h1v1h-1zM321 13h1v1h-1zM294 14h1v1h-1zM307 14h1v1h-1zM319 14h1v1h-1zM314 15h1v1h-1zM318 15h1v1h-1zM318 16h1v1h-1zM333 16h1v1h-1zM287 17h1v1h-1zM311 17h1v1h-1zM325 17h1v1h-1zM293 18h1v1h-1zM321 18h1v1h-1zM289 19h1v1h-1zM326 19h1v1h-1zM286 20h1v1h-1zM308 20h1v1h-1zM327 20h1v1h-1zM285 21h1v1h-1zM295 21h1v1h-1zM298 21h1v1h-1zM316 21h1v1h-1zM285 22h1v1h-1zM288 22h1v1h-1zM289 22h1v1h-1zM302 22h1v1h-1zM331 22h1v1h-1zM292 23h1v1h-1zM310 23h1v1h-1zM300 24h1v1h-1zM323 24h1v1h-1zM325 24h1v1h-1zM333 24h1v1h-1zM297 25h1v1h-1zM306 25h1v1h-1zM330 25h1v1h-1zM294 27h1v1h-1zM316 28h1v1h-1zM333 28h1v1h-1zM326 29h1v1h-1zM308 30h1v1h-1zM326 31h1v1h-1zM287 32h1v1h-1zM311 32h1v1h-1zM287 33h1v1h-1zM318 33h1v1h-1zM322 33h1v1h-1zM335 33h1v1h-1zM288 34h1v1h-1zM299 34h1v1h-1zM292 35h1v1h-1zM298 35h1v1h-1zM319 35h1v1h-1zM322 35h1v1h-1zM329 35h1v1h-1zM287 36h1v1h-1zM285 37h1v1h-1zM291 37h1v1h-1zM306 37h1v1h-1zM310 38h1v1h-1zM285 39h1v1h-1zM287 39h1v1h-1zM304 39h1v1h-1zM312 39h1v1h-1zM323 39h1v1h-1zM293 40h1v1h-1zM296 40h1v1h-1zM299 40h1v1h-1zM312 40h1v1h-1zM315 40h1v1h-1zM321 40h1v1h-1zM329 40h1v1h-1zM285 41h1v1h-1zM292 41h1v1h-1zM294 41h1v1h-1zM297 41h1v1h-1zM320 41h1v1h-1zM292 42h1v1h-1zM337 42h1v1h-1zM287 43h1v1h-1zM299 43h1v1h-1zM310 43h1v1h-1zM326 43h1v1h-1zM334 43h1v1h-1zM305 44h1v1h-1zM307 44h1v1h-1zM312 44h1v1h-1zM317 44h1v1h-1zM331 44h1v1h-1zM293 45h1v1h-1zM298 45h1v1h-1zM307 45h1v1h-1zM310 45h1v1h-1zM312 45h1v1h-1zM332 45h1v1h-1zM295 46h1v1h-1zM299 46h1v1h-1zM302 46h1v1h-1zM319 46h1v1h-1zM320 46h1v1h-1zM286 47h1v1h-1zM308 47h1v1h-1zM311 47h1v1h-1zM328 47h1v1h-1zM288 48h1v1h-1zM295 48h1v1h-1zM300 48h1v1h-1zM306 48h1v1h-1zM307 48h1v1h-1zM330 48h1v1h-1z"/>
<path fill="#c4843c" fill-opacity="0.22" d="M292 49h1v1h-1zM316 49h1v1h-1zM327 49h1v1h-1zM337 49h1v1h-1zM292 50h1v1h-1zM303 50h1v1h-1zM313 50h1v1h-1zM319 50h1v1h-1zM332 50h1v1h-1zM287 51h1v1h-1zM290 51h1v1h-1zM301 51h1v1h-1zM305 51h1v1h-1zM311 51h1v1h-1zM286 52h1v1h-1zM293 52h1v1h-1zM294 52h1v1h-1zM317 52h1v1h-1zM320 52h1v1h-1zM325 52h1v1h-1zM290 53h1v1h-1zM299 53h1v1h-1zM309 53h1v1h-1zM315 53h1v1h-1zM286 54h1v1h-1zM294 54h1v1h-1zM298 54h1v1h-1zM300 54h1v1h-1zM304 54h1v1h-1zM306 54h1v1h-1zM307 54h1v1h-1zM315 54h1v1h-1zM316 54h1v1h-1zM325 54h1v1h-1zM304 55h1v1h-1zM305 55h1v1h-1zM308 55h1v1h-1zM313 56h1v1h-1zM327 56h1v1h-1zM328 56h1v1h-1zM287 57h1v1h-1zM289 57h1v1h-1zM305 57h1v1h-1zM318 57h1v1h-1zM319 57h1v1h-1zM324 57h1v1h-1zM337 57h1v1h-1zM295 58h1v1h-1zM300 58h1v1h-1zM315 58h1v1h-1zM321 58h1v1h-1zM336 58h1v1h-1zM293 59h1v1h-1zM294 59h1v1h-1zM307 59h1v1h-1zM311 59h1v1h-1zM298 60h1v1h-1zM299 60h1v1h-1zM315 60h1v1h-1zM293 61h1v1h-1zM298 61h1v1h-1zM302 61h1v1h-1zM303 61h1v1h-1zM291 62h1v1h-1zM314 62h1v1h-1zM328 62h1v1h-1zM295 63h1v1h-1zM333 63h1v1h-1zM336 63h1v1h-1zM287 64h1v1h-1zM309 64h1v1h-1zM310 64h1v1h-1zM312 64h1v1h-1zM313 64h1v1h-1zM295 65h1v1h-1zM303 65h1v1h-1zM299 66h1v1h-1zM302 66h1v1h-1zM306 66h1v1h-1zM307 66h1v1h-1zM310 66h1v1h-1zM322 66h1v1h-1zM323 66h1v1h-1zM330 66h1v1h-1zM299 67h1v1h-1zM313 67h1v1h-1zM325 67h1v1h-1zM329 67h1v1h-1zM337 67h1v1h-1zM326 68h1v1h-1zM330 68h1v1h-1zM289 69h1v1h-1zM301 69h1v1h-1zM307 69h1v1h-1zM320 69h1v1h-1zM309 70h1v1h-1zM304 71h1v1h-1zM309 72h1v1h-1zM317 72h1v1h-1zM291 73h1v1h-1zM310 73h1v1h-1zM321 73h1v1h-1zM331 73h1v1h-1zM317 74h1v1h-1zM286 75h1v1h-1zM290 75h1v1h-1zM292 75h1v1h-1zM293 75h1v1h-1zM333 75h1v1h-1zM335 75h1v1h-1zM336 75h1v1h-1zM321 76h1v1h-1zM336 76h1v1h-1zM290 77h1v1h-1zM295 77h1v1h-1zM306 77h1v1h-1zM324 77h1v1h-1zM331 77h1v1h-1zM290 78h1v1h-1zM306 78h1v1h-1zM312 79h1v1h-1zM333 79h1v1h-1zM336 79h1v1h-1zM287 80h1v1h-1zM288 80h1v1h-1zM298 80h1v1h-1zM299 80h1v1h-1zM303 80h1v1h-1zM308 80h1v1h-1zM311 80h1v1h-1zM315 80h1v1h-1zM320 80h1v1h-1zM285 81h1v1h-1zM303 81h1v1h-1zM327 81h1v1h-1zM331 81h1v1h-1zM336 81h1v1h-1zM291 82h1v1h-1zM306 82h1v1h-1zM307 82h1v1h-1zM308 82h1v1h-1zM309 82h1v1h-1zM286 83h1v1h-1zM293 83h1v1h-1zM301 83h1v1h-1zM311 84h1v1h-1zM325 84h1v1h-1z"/>
<path fill="#c4843c" fill-opacity="0.44" d="M313 49h1v1h-1zM319 49h1v1h-1zM323 49h1v1h-1zM324 49h1v1h-1zM287 50h1v1h-1zM288 50h1v1h-1zM305 50h1v1h-1zM321 50h1v1h-1zM327 50h1v1h-1zM328 50h1v1h-1zM306 51h1v1h-1zM313 51h1v1h-1zM325 51h1v1h-1zM326 51h1v1h-1zM327 51h1v1h-1zM296 52h1v1h-1zM297 52h1v1h-1zM310 52h1v1h-1zM312 52h1v1h-1zM323 52h1v1h-1zM326 52h1v1h-1zM293 53h1v1h-1zM314 53h1v1h-1zM318 53h1v1h-1zM319 53h1v1h-1zM322 53h1v1h-1zM323 53h1v1h-1zM327 53h1v1h-1zM332 53h1v1h-1zM290 54h1v1h-1zM299 54h1v1h-1zM311 54h1v1h-1zM312 54h1v1h-1zM334 54h1v1h-1zM311 55h1v1h-1zM329 55h1v1h-1zM330 55h1v1h-1zM335 55h1v1h-1zM287 56h1v1h-1zM314 56h1v1h-1zM330 56h1v1h-1zM334 56h1v1h-1zM335 56h1v1h-1zM292 57h1v1h-1zM304 57h1v1h-1zM326 57h1v1h-1zM328 57h1v1h-1zM306 58h1v1h-1zM313 58h1v1h-1zM286 59h1v1h-1zM299 59h1v1h-1zM312 59h1v1h-1zM323 59h1v1h-1zM326 59h1v1h-1zM287 60h1v1h-1zM297 60h1v1h-1zM308 60h1v1h-1zM323 60h1v1h-1zM294 61h1v1h-1zM308 61h1v1h-1zM316 61h1v1h-1zM329 61h1v1h-1zM296 62h1v1h-1zM300 62h1v1h-1zM301 62h1v1h-1zM308 62h1v1h-1zM332 62h1v1h-1zM298 63h1v1h-1zM317 63h1v1h-1zM321 64h1v1h-1zM330 64h1v1h-1zM301 67h1v1h-1zM306 67h1v1h-1zM309 67h1v1h-1zM312 67h1v1h-1zM320 67h1v1h-1zM288 69h1v1h-1zM291 69h1v1h-1zM309 69h1v1h-1zM310 69h1v1h-1zM327 69h1v1h-1zM294 70h1v1h-1zM296 70h1v1h-1zM299 70h1v1h-1zM306 70h1v1h-1zM311 70h1v1h-1zM319 70h1v1h-1zM328 70h1v1h-1zM330 70h1v1h-1zM293 71h1v1h-1zM300 71h1v1h-1zM305 71h1v1h-1zM333 71h1v1h-1zM295 72h1v1h-1zM313 72h1v1h-1zM290 73h1v1h-1zM300 73h1v1h-1zM336 73h1v1h-1zM314 74h1v1h-1zM302 75h1v1h-1zM314 75h1v1h-1zM332 75h1v1h-1zM297 76h1v1h-1zM309 76h1v1h-1zM313 76h1v1h-1zM330 76h1v1h-1zM286 77h1v1h-1zM300 77h1v1h-1zM308 77h1v1h-1zM314 77h1v1h-1zM316 77h1v1h-1zM318 77h1v1h-1zM322 77h1v1h-1zM325 77h1v1h-1zM328 77h1v1h-1zM330 77h1v1h-1zM292 78h1v1h-1zM311 78h1v1h-1zM316 78h1v1h-1zM321 78h1v1h-1zM326 78h1v1h-1zM337 79h1v1h-1zM296 80h1v1h-1zM301 80h1v1h-1zM318 80h1v1h-1zM330 80h1v1h-1zM336 80h1v1h-1zM313 81h1v1h-1zM333 81h1v1h-1zM293 82h1v1h-1zM301 82h1v1h-1zM287 83h1v1h-1zM302 83h1v1h-1zM308 83h1v1h-1zM331 83h1v1h-1zM336 83h1v1h-1zM286 84h1v1h-1zM287 84h1v1h-1zM308 84h1v1h-1zM312 84h1v1h-1zM313 84h1v1h-1zM318 84h1v1h-1zM326 84h1v1h-1zM336 84h1v1h-1z"/>
<path fill="#c4843c" fill-opacity="0.66" d="M305 49h1v1h-1zM306 49h1v1h-1zM308 49h1v1h-1zM296 50h1v1h-1zM337 50h1v1h-1zM294 51h1v1h-1zM299 51h1v1h-1zM289 52h1v1h-1zM313 52h1v1h-1zM314 52h1v1h-1zM318 52h1v1h-1zM286 53h1v1h-1zM289 53h1v1h-1zM297 53h1v1h-1zM307 53h1v1h-1zM321 53h1v1h-1zM330 53h1v1h-1zM318 54h1v1h-1zM324 54h1v1h-1zM332 54h1v1h-1zM293 55h1v1h-1zM297 55h1v1h-1zM312 55h1v1h-1zM314 55h1v1h-1zM317 55h1v1h-1zM327 55h1v1h-1zM288 56h1v1h-1zM290 56h1v1h-1zM315 56h1v1h-1zM316 56h1v1h-1zM295 57h1v1h-1zM307 57h1v1h-1zM313 57h1v1h-1zM289 58h1v1h-1zM294 58h1v1h-1zM305 58h1v1h-1zM287 59h1v1h-1zM288 59h1v1h-1zM290 59h1v1h-1zM292 59h1v1h-1zM305 59h1v1h-1zM325 59h1v1h-1zM290 60h1v1h-1zM309 60h1v1h-1zM314 60h1v1h-1zM331 60h1v1h-1zM286 61h1v1h-1zM295 61h1v1h-1zM300 61h1v1h-1zM306 61h1v1h-1zM318 61h1v1h-1zM295 62h1v1h-1zM302 62h1v1h-1zM306 62h1v1h-1zM310 62h1v1h-1zM321 62h1v1h-1zM291 63h1v1h-1zM299 63h1v1h-1zM313 63h1v1h-1zM314 63h1v1h-1zM320 63h1v1h-1zM327 63h1v1h-1zM335 63h1v1h-1zM315 64h1v1h-1zM331 64h1v1h-1zM333 64h1v1h-1zM292 65h1v1h-1zM304 65h1v1h-1zM311 65h1v1h-1zM326 65h1v1h-1zM298 66h1v1h-1zM311 66h1v1h-1zM327 66h1v1h-1zM329 66h1v1h-1zM335 66h1v1h-1zM336 66h1v1h-1zM288 67h1v1h-1zM297 67h1v1h-1zM286 68h1v1h-1zM293 68h1v1h-1zM305 68h1v1h-1zM313 68h1v1h-1zM314 68h1v1h-1zM323 68h1v1h-1zM334 68h1v1h-1zM335 68h1v1h-1zM299 69h1v1h-1zM306 69h1v1h-1zM315 69h1v1h-1zM334 69h1v1h-1zM336 70h1v1h-1zM287 71h1v1h-1zM306 71h1v1h-1zM324 71h1v1h-1zM330 71h1v1h-1zM303 72h1v1h-1zM318 72h1v1h-1zM320 72h1v1h-1zM325 72h1v1h-1zM328 72h1v1h-1zM295 73h1v1h-1zM312 73h1v1h-1zM297 74h1v1h-1zM305 74h1v1h-1zM322 74h1v1h-1zM329 74h1v1h-1zM337 74h1v1h-1zM288 75h1v1h-1zM298 75h1v1h-1zM312 75h1v1h-1zM319 75h1v1h-1zM326 75h1v1h-1zM323 76h1v1h-1zM328 76h1v1h-1zM331 76h1v1h-1zM293 78h1v1h-1zM315 78h1v1h-1zM296 79h1v1h-1zM291 80h1v1h-1zM316 80h1v1h-1zM321 80h1v1h-1zM322 80h1v1h-1zM324 80h1v1h-1zM299 81h1v1h-1zM322 81h1v1h-1zM324 81h1v1h-1zM328 81h1v1h-1zM285 82h1v1h-1zM327 82h1v1h-1zM300 83h1v1h-1zM312 83h1v1h-1zM326 83h1v1h-1zM295 84h1v1h-1zM296 84h1v1h-1zM324 84h1v1h-1zM332 84h1v1h-1z"/>
<path fill="#b04476" fill-opacity="0.26" d="M286 85h1v1h-1zM288 85h1v1h-1zM294 85h1v1h-1zM308 85h1v1h-1zM316 85h1v1h-1zM317 85h1v1h-1zM318 85h1v1h-1zM320 85h1v1h-1zM321 85h1v1h-1zM323 85h1v1h-1zM334 85h1v1h-1zM337 85h1v1h-1zM285 86h1v1h-1zM286 86h1v1h-1zM290 86h1v1h-1zM301 86h1v1h-1zM307 86h1v1h-1zM309 86h1v1h-1zM325 86h1v1h-1zM333 86h1v1h-1zM305 87h1v1h-1zM313 87h1v1h-1zM314 87h1v1h-1zM335 87h1v1h-1zM292 88h1v1h-1zM301 88h1v1h-1zM310 88h1v1h-1zM316 88h1v1h-1zM317 88h1v1h-1zM330 88h1v1h-1zM337 88h1v1h-1zM288 89h1v1h-1zM289 89h1v1h-1zM292 89h1v1h-1zM299 89h1v1h-1zM300 89h1v1h-1zM313 89h1v1h-1zM314 89h1v1h-1zM318 89h1v1h-1zM319 89h1v1h-1zM328 89h1v1h-1zM333 89h1v1h-1zM335 89h1v1h-1zM336 89h1v1h-1zM337 89h1v1h-1zM286 90h1v1h-1zM309 90h1v1h-1zM328 90h1v1h-1zM329 90h1v1h-1zM330 90h1v1h-1zM290 91h1v1h-1zM299 91h1v1h-1zM308 91h1v1h-1zM314 91h1v1h-1zM317 91h1v1h-1zM294 92h1v1h-1zM299 92h1v1h-1zM301 92h1v1h-1zM306 92h1v1h-1zM307 92h1v1h-1zM311 92h1v1h-1zM320 92h1v1h-1zM322 92h1v1h-1zM328 92h1v1h-1zM329 92h1v1h-1zM333 92h1v1h-1zM335 92h1v1h-1zM288 93h1v1h-1zM312 93h1v1h-1zM317 93h1v1h-1zM287 94h1v1h-1zM294 94h1v1h-1zM295 94h1v1h-1zM299 94h1v1h-1zM302 94h1v1h-1zM303 94h1v1h-1zM308 94h1v1h-1zM312 94h1v1h-1zM315 94h1v1h-1zM319 94h1v1h-1zM323 94h1v1h-1zM328 94h1v1h-1zM331 94h1v1h-1zM333 94h1v1h-1zM287 95h1v1h-1zM291 95h1v1h-1zM299 95h1v1h-1zM300 95h1v1h-1zM304 95h1v1h-1zM309 95h1v1h-1zM316 95h1v1h-1zM318 95h1v1h-1zM324 95h1v1h-1zM328 95h1v1h-1zM329 95h1v1h-1zM286 96h1v1h-1zM288 96h1v1h-1zM291 96h1v1h-1zM297 96h1v1h-1zM301 96h1v1h-1zM303 96h1v1h-1zM305 96h1v1h-1zM313 96h1v1h-1zM314 96h1v1h-1zM315 96h1v1h-1zM317 96h1v1h-1zM318 96h1v1h-1zM320 96h1v1h-1zM323 96h1v1h-1zM325 96h1v1h-1zM326 96h1v1h-1zM329 96h1v1h-1zM333 96h1v1h-1zM287 97h1v1h-1zM292 97h1v1h-1zM295 97h1v1h-1zM296 97h1v1h-1zM298 97h1v1h-1zM301 97h1v1h-1zM302 97h1v1h-1zM306 97h1v1h-1zM309 97h1v1h-1zM316 97h1v1h-1zM325 97h1v1h-1zM329 97h1v1h-1zM288 98h1v1h-1zM290 98h1v1h-1zM293 98h1v1h-1zM299 98h1v1h-1zM310 98h1v1h-1zM313 98h1v1h-1zM314 98h1v1h-1zM318 98h1v1h-1zM320 98h1v1h-1zM322 98h1v1h-1zM325 98h1v1h-1zM336 98h1v1h-1zM285 99h1v1h-1zM295 99h1v1h-1zM298 99h1v1h-1zM300 99h1v1h-1zM301 99h1v1h-1zM305 99h1v1h-1zM315 99h1v1h-1zM317 99h1v1h-1zM326 99h1v1h-1zM286 100h1v1h-1zM288 100h1v1h-1zM296 100h1v1h-1zM301 100h1v1h-1zM306 100h1v1h-1zM308 100h1v1h-1zM322 100h1v1h-1zM324 100h1v1h-1zM326 100h1v1h-1zM333 100h1v1h-1zM285 101h1v1h-1zM288 101h1v1h-1zM293 101h1v1h-1zM294 101h1v1h-1zM301 101h1v1h-1zM308 101h1v1h-1zM312 101h1v1h-1zM314 101h1v1h-1zM316 101h1v1h-1zM323 101h1v1h-1zM327 101h1v1h-1zM330 101h1v1h-1zM335 101h1v1h-1zM289 102h1v1h-1zM299 102h1v1h-1zM302 102h1v1h-1zM306 102h1v1h-1zM309 102h1v1h-1zM313 102h1v1h-1zM314 102h1v1h-1zM317 102h1v1h-1zM323 102h1v1h-1zM326 102h1v1h-1zM331 102h1v1h-1zM335 102h1v1h-1zM293 103h1v1h-1zM296 103h1v1h-1zM308 103h1v1h-1zM309 103h1v1h-1zM312 103h1v1h-1zM313 103h1v1h-1zM315 103h1v1h-1zM321 103h1v1h-1zM326 103h1v1h-1zM328 103h1v1h-1zM292 104h1v1h-1zM299 104h1v1h-1zM303 104h1v1h-1zM320 104h1v1h-1zM327 104h1v1h-1zM285 105h1v1h-1zM291 105h1v1h-1zM295 105h1v1h-1zM296 105h1v1h-1zM299 105h1v1h-1zM300 105h1v1h-1zM302 105h1v1h-1zM304 105h1v1h-1zM307 105h1v1h-1zM314 105h1v1h-1zM316 105h1v1h-1zM321 105h1v1h-1zM322 105h1v1h-1zM327 105h1v1h-1zM330 105h1v1h-1zM337 105h1v1h-1zM285 106h1v1h-1zM286 106h1v1h-1zM287 106h1v1h-1zM292 106h1v1h-1zM312 106h1v1h-1zM331 106h1v1h-1zM305 107h1v1h-1zM306 107h1v1h-1zM312 107h1v1h-1zM287 108h1v1h-1zM290 108h1v1h-1zM291 108h1v1h-1zM292 108h1v1h-1zM294 108h1v1h-1zM295 108h1v1h-1zM297 108h1v1h-1zM311 108h1v1h-1zM314 108h1v1h-1zM316 108h1v1h-1zM318 108h1v1h-1zM323 108h1v1h-1zM329 108h1v1h-1zM332 108h1v1h-1zM334 108h1v1h-1zM303 109h1v1h-1zM305 109h1v1h-1zM307 109h1v1h-1zM312 109h1v1h-1zM315 109h1v1h-1zM316 109h1v1h-1zM317 109h1v1h-1zM327 109h1v1h-1zM332 109h1v1h-1zM334 109h1v1h-1zM287 110h1v1h-1zM290 110h1v1h-1zM294 110h1v1h-1zM295 110h1v1h-1zM304 110h1v1h-1zM309 110h1v1h-1zM310 110h1v1h-1zM314 110h1v1h-1zM325 110h1v1h-1zM291 111h1v1h-1zM303 111h1v1h-1zM306 111h1v1h-1zM315 111h1v1h-1zM322 111h1v1h-1zM331 111h1v1h-1zM297 112h1v1h-1zM300 112h1v1h-1zM302 112h1v1h-1zM304 112h1v1h-1zM305 112h1v1h-1zM327 112h1v1h-1zM328 112h1v1h-1zM331 112h1v1h-1zM299 113h1v1h-1zM305 113h1v1h-1zM306 113h1v1h-1zM308 113h1v1h-1zM313 113h1v1h-1zM318 113h1v1h-1zM321 113h1v1h-1zM325 113h1v1h-1zM334 113h1v1h-1zM336 113h1v1h-1zM313 114h1v1h-1zM314 114h1v1h-1zM319 114h1v1h-1zM327 114h1v1h-1zM328 114h1v1h-1zM329 114h1v1h-1zM333 114h1v1h-1zM288 115h1v1h-1zM291 115h1v1h-1zM299 115h1v1h-1zM313 115h1v1h-1zM318 115h1v1h-1zM322 115h1v1h-1zM327 115h1v1h-1zM291 116h1v1h-1zM292 116h1v1h-1zM300 116h1v1h-1zM324 116h1v1h-1zM326 116h1v1h-1zM327 116h1v1h-1zM330 116h1v1h-1zM336 116h1v1h-1zM307 117h1v1h-1zM316 117h1v1h-1zM322 117h1v1h-1zM323 117h1v1h-1zM333 117h1v1h-1zM287 118h1v1h-1zM289 118h1v1h-1zM290 118h1v1h-1zM299 118h1v1h-1zM305 118h1v1h-1zM308 118h1v1h-1zM314 118h1v1h-1zM317 118h1v1h-1zM330 118h1v1h-1zM335 118h1v1h-1zM285 119h1v1h-1zM292 119h1v1h-1zM293 119h1v1h-1zM295 119h1v1h-1zM296 119h1v1h-1zM309 119h1v1h-1zM311 119h1v1h-1zM322 119h1v1h-1z"/>
<path fill="#b04476" fill-opacity="0.52" d="M285 85h1v1h-1zM287 85h1v1h-1zM301 85h1v1h-1zM305 85h1v1h-1zM322 85h1v1h-1zM326 85h1v1h-1zM330 85h1v1h-1zM335 85h1v1h-1zM291 86h1v1h-1zM295 86h1v1h-1zM300 86h1v1h-1zM313 86h1v1h-1zM323 86h1v1h-1zM331 86h1v1h-1zM335 86h1v1h-1zM290 87h1v1h-1zM295 87h1v1h-1zM297 87h1v1h-1zM301 87h1v1h-1zM308 87h1v1h-1zM322 87h1v1h-1zM323 87h1v1h-1zM326 87h1v1h-1zM329 87h1v1h-1zM330 87h1v1h-1zM334 87h1v1h-1zM337 87h1v1h-1zM286 88h1v1h-1zM289 88h1v1h-1zM304 88h1v1h-1zM307 88h1v1h-1zM325 88h1v1h-1zM290 89h1v1h-1zM293 89h1v1h-1zM308 89h1v1h-1zM310 89h1v1h-1zM317 89h1v1h-1zM326 89h1v1h-1zM327 89h1v1h-1zM330 89h1v1h-1zM331 89h1v1h-1zM332 89h1v1h-1zM301 90h1v1h-1zM303 90h1v1h-1zM306 90h1v1h-1zM325 90h1v1h-1zM326 90h1v1h-1zM331 90h1v1h-1zM335 90h1v1h-1zM286 91h1v1h-1zM292 91h1v1h-1zM293 91h1v1h-1zM297 91h1v1h-1zM304 91h1v1h-1zM307 91h1v1h-1zM327 91h1v1h-1zM328 91h1v1h-1zM335 91h1v1h-1zM295 92h1v1h-1zM314 92h1v1h-1zM316 92h1v1h-1zM318 92h1v1h-1zM324 92h1v1h-1zM327 92h1v1h-1zM285 93h1v1h-1zM287 93h1v1h-1zM290 93h1v1h-1zM294 93h1v1h-1zM296 93h1v1h-1zM297 93h1v1h-1zM301 93h1v1h-1zM320 93h1v1h-1zM322 93h1v1h-1zM323 93h1v1h-1zM324 93h1v1h-1zM335 93h1v1h-1zM337 93h1v1h-1zM286 94h1v1h-1zM288 94h1v1h-1zM291 94h1v1h-1zM292 94h1v1h-1zM296 94h1v1h-1zM306 94h1v1h-1zM314 94h1v1h-1zM320 94h1v1h-1zM322 94h1v1h-1zM337 94h1v1h-1zM285 95h1v1h-1zM289 95h1v1h-1zM290 95h1v1h-1zM298 95h1v1h-1zM301 95h1v1h-1zM302 95h1v1h-1zM305 95h1v1h-1zM306 95h1v1h-1zM310 95h1v1h-1zM312 95h1v1h-1zM313 95h1v1h-1zM322 95h1v1h-1zM326 95h1v1h-1zM331 95h1v1h-1zM334 95h1v1h-1zM336 95h1v1h-1zM289 96h1v1h-1zM292 96h1v1h-1zM296 96h1v1h-1zM298 96h1v1h-1zM300 96h1v1h-1zM302 96h1v1h-1zM304 96h1v1h-1zM321 96h1v1h-1zM322 96h1v1h-1zM336 96h1v1h-1zM285 97h1v1h-1zM286 97h1v1h-1zM290 97h1v1h-1zM314 97h1v1h-1zM318 97h1v1h-1zM327 97h1v1h-1zM328 97h1v1h-1zM330 97h1v1h-1zM337 97h1v1h-1zM285 98h1v1h-1zM286 98h1v1h-1zM303 98h1v1h-1zM306 98h1v1h-1zM308 98h1v1h-1zM309 98h1v1h-1zM316 98h1v1h-1zM321 98h1v1h-1zM324 98h1v1h-1zM328 98h1v1h-1zM332 98h1v1h-1zM333 98h1v1h-1zM335 98h1v1h-1zM287 99h1v1h-1zM288 99h1v1h-1zM290 99h1v1h-1zM292 99h1v1h-1zM296 99h1v1h-1zM325 99h1v1h-1zM328 99h1v1h-1zM329 99h1v1h-1zM289 100h1v1h-1zM291 100h1v1h-1zM294 100h1v1h-1zM298 100h1v1h-1zM314 100h1v1h-1zM315 100h1v1h-1zM316 100h1v1h-1zM317 100h1v1h-1zM334 100h1v1h-1zM336 100h1v1h-1zM286 101h1v1h-1zM298 101h1v1h-1zM299 101h1v1h-1zM302 101h1v1h-1zM303 101h1v1h-1zM304 101h1v1h-1zM306 101h1v1h-1zM310 101h1v1h-1zM324 101h1v1h-1zM329 101h1v1h-1zM332 101h1v1h-1zM287 102h1v1h-1zM288 102h1v1h-1zM295 102h1v1h-1zM296 102h1v1h-1zM303 102h1v1h-1zM310 102h1v1h-1zM311 102h1v1h-1zM315 102h1v1h-1zM320 102h1v1h-1zM321 102h1v1h-1zM334 102h1v1h-1zM336 102h1v1h-1zM288 103h1v1h-1zM290 103h1v1h-1zM292 103h1v1h-1zM295 103h1v1h-1zM310 103h1v1h-1zM314 103h1v1h-1zM317 103h1v1h-1zM320 103h1v1h-1zM327 103h1v1h-1zM334 103h1v1h-1zM300 104h1v1h-1zM306 104h1v1h-1zM312 104h1v1h-1zM317 104h1v1h-1zM324 104h1v1h-1zM292 105h1v1h-1zM294 105h1v1h-1zM301 105h1v1h-1zM306 105h1v1h-1zM309 105h1v1h-1zM311 105h1v1h-1zM312 105h1v1h-1zM323 105h1v1h-1zM329 105h1v1h-1zM335 105h1v1h-1zM293 106h1v1h-1zM294 106h1v1h-1zM304 106h1v1h-1zM306 106h1v1h-1zM314 106h1v1h-1zM315 106h1v1h-1zM321 106h1v1h-1zM322 106h1v1h-1zM326 106h1v1h-1zM335 106h1v1h-1zM337 106h1v1h-1zM298 107h1v1h-1zM310 107h1v1h-1zM315 107h1v1h-1zM327 107h1v1h-1zM329 107h1v1h-1zM332 107h1v1h-1zM285 108h1v1h-1zM289 108h1v1h-1zM293 108h1v1h-1zM307 108h1v1h-1zM315 108h1v1h-1zM321 108h1v1h-1zM326 108h1v1h-1zM327 108h1v1h-1zM333 108h1v1h-1zM336 108h1v1h-1zM337 108h1v1h-1zM286 109h1v1h-1zM297 109h1v1h-1zM304 109h1v1h-1zM313 109h1v1h-1zM322 109h1v1h-1zM323 109h1v1h-1zM325 109h1v1h-1zM326 109h1v1h-1zM331 109h1v1h-1zM335 109h1v1h-1zM293 110h1v1h-1zM296 110h1v1h-1zM297 110h1v1h-1zM303 110h1v1h-1zM305 110h1v1h-1zM306 110h1v1h-1zM307 110h1v1h-1zM319 110h1v1h-1zM288 111h1v1h-1zM289 111h1v1h-1zM297 111h1v1h-1zM298 111h1v1h-1zM300 111h1v1h-1zM304 111h1v1h-1zM305 111h1v1h-1zM310 111h1v1h-1zM311 111h1v1h-1zM318 111h1v1h-1zM319 111h1v1h-1zM324 111h1v1h-1zM326 111h1v1h-1zM335 111h1v1h-1zM336 111h1v1h-1zM291 112h1v1h-1zM298 112h1v1h-1zM318 112h1v1h-1zM320 112h1v1h-1zM326 112h1v1h-1zM286 113h1v1h-1zM288 113h1v1h-1zM289 113h1v1h-1zM292 113h1v1h-1zM297 113h1v1h-1zM300 113h1v1h-1zM309 113h1v1h-1zM312 113h1v1h-1zM315 113h1v1h-1zM319 113h1v1h-1zM323 113h1v1h-1zM329 113h1v1h-1zM331 113h1v1h-1zM335 113h1v1h-1zM337 113h1v1h-1zM288 114h1v1h-1zM291 114h1v1h-1zM308 114h1v1h-1zM310 114h1v1h-1zM315 114h1v1h-1zM317 114h1v1h-1zM285 115h1v1h-1zM289 115h1v1h-1zM302 115h1v1h-1zM304 115h1v1h-1zM306 115h1v1h-1zM309 115h1v1h-1zM310 115h1v1h-1zM312 115h1v1h-1zM314 115h1v1h-1zM316 115h1v1h-1zM323 115h1v1h-1zM324 115h1v1h-1zM325 115h1v1h-1zM288 116h1v1h-1zM290 116h1v1h-1zM293 116h1v1h-1zM298 116h1v1h-1zM311 116h1v1h-1zM312 116h1v1h-1zM329 116h1v1h-1zM334 116h1v1h-1zM335 116h1v1h-1zM286 117h1v1h-1zM291 117h1v1h-1zM299 117h1v1h-1zM300 117h1v1h-1zM301 117h1v1h-1zM311 117h1v1h-1zM313 117h1v1h-1zM326 117h1v1h-1zM327 117h1v1h-1zM335 117h1v1h-1zM337 117h1v1h-1zM291 118h1v1h-1zM293 118h1v1h-1zM297 118h1v1h-1zM301 118h1v1h-1zM302 118h1v1h-1zM304 118h1v1h-1zM315 118h1v1h-1zM322 118h1v1h-1zM325 118h1v1h-1zM336 118h1v1h-1zM337 118h1v1h-1zM301 119h1v1h-1zM302 119h1v1h-1zM305 119h1v1h-1zM314 119h1v1h-1zM315 119h1v1h-1zM319 119h1v1h-1zM320 119h1v1h-1zM321 119h1v1h-1zM333 119h1v1h-1zM337 119h1v1h-1z"/>
<path fill="#b04476" fill-opacity="0.78" d="M290 85h1v1h-1zM295 85h1v1h-1zM298 85h1v1h-1zM300 85h1v1h-1zM302 85h1v1h-1zM303 85h1v1h-1zM304 85h1v1h-1zM307 85h1v1h-1zM309 85h1v1h-1zM312 85h1v1h-1zM313 85h1v1h-1zM314 85h1v1h-1zM315 85h1v1h-1zM329 85h1v1h-1zM332 85h1v1h-1zM333 85h1v1h-1zM288 86h1v1h-1zM294 86h1v1h-1zM296 86h1v1h-1zM302 86h1v1h-1zM304 86h1v1h-1zM311 86h1v1h-1zM329 86h1v1h-1zM330 86h1v1h-1zM302 87h1v1h-1zM306 87h1v1h-1zM309 87h1v1h-1zM315 87h1v1h-1zM321 87h1v1h-1zM331 87h1v1h-1zM298 88h1v1h-1zM306 88h1v1h-1zM319 88h1v1h-1zM320 88h1v1h-1zM323 88h1v1h-1zM326 88h1v1h-1zM285 89h1v1h-1zM286 89h1v1h-1zM301 89h1v1h-1zM304 89h1v1h-1zM305 89h1v1h-1zM306 89h1v1h-1zM307 89h1v1h-1zM309 89h1v1h-1zM311 89h1v1h-1zM320 89h1v1h-1zM325 89h1v1h-1zM329 89h1v1h-1zM288 90h1v1h-1zM289 90h1v1h-1zM290 90h1v1h-1zM292 90h1v1h-1zM300 90h1v1h-1zM307 90h1v1h-1zM321 90h1v1h-1zM322 90h1v1h-1zM323 90h1v1h-1zM324 90h1v1h-1zM327 90h1v1h-1zM294 91h1v1h-1zM310 91h1v1h-1zM332 91h1v1h-1zM288 92h1v1h-1zM290 92h1v1h-1zM302 92h1v1h-1zM308 92h1v1h-1zM309 92h1v1h-1zM323 92h1v1h-1zM326 92h1v1h-1zM330 92h1v1h-1zM295 93h1v1h-1zM305 93h1v1h-1zM327 93h1v1h-1zM332 93h1v1h-1zM290 94h1v1h-1zM297 94h1v1h-1zM301 94h1v1h-1zM316 94h1v1h-1zM318 94h1v1h-1zM321 94h1v1h-1zM326 94h1v1h-1zM327 94h1v1h-1zM329 94h1v1h-1zM330 94h1v1h-1zM332 94h1v1h-1zM334 94h1v1h-1zM335 94h1v1h-1zM336 94h1v1h-1zM286 95h1v1h-1zM293 95h1v1h-1zM294 95h1v1h-1zM295 95h1v1h-1zM307 95h1v1h-1zM308 95h1v1h-1zM317 95h1v1h-1zM320 95h1v1h-1zM321 95h1v1h-1zM323 95h1v1h-1zM327 95h1v1h-1zM285 96h1v1h-1zM287 96h1v1h-1zM306 96h1v1h-1zM307 96h1v1h-1zM311 96h1v1h-1zM312 96h1v1h-1zM324 96h1v1h-1zM327 96h1v1h-1zM330 96h1v1h-1zM331 96h1v1h-1zM288 97h1v1h-1zM289 97h1v1h-1zM293 97h1v1h-1zM294 97h1v1h-1zM300 97h1v1h-1zM303 97h1v1h-1zM315 97h1v1h-1zM322 97h1v1h-1zM323 97h1v1h-1zM326 97h1v1h-1zM333 97h1v1h-1zM334 97h1v1h-1zM291 98h1v1h-1zM294 98h1v1h-1zM296 98h1v1h-1zM300 98h1v1h-1zM304 98h1v1h-1zM311 98h1v1h-1zM317 98h1v1h-1zM326 98h1v1h-1zM327 98h1v1h-1zM289 99h1v1h-1zM291 99h1v1h-1zM297 99h1v1h-1zM302 99h1v1h-1zM308 99h1v1h-1zM309 99h1v1h-1zM311 99h1v1h-1zM312 99h1v1h-1zM316 99h1v1h-1zM320 99h1v1h-1zM322 99h1v1h-1zM324 99h1v1h-1zM327 99h1v1h-1zM331 99h1v1h-1zM332 99h1v1h-1zM285 100h1v1h-1zM287 100h1v1h-1zM297 100h1v1h-1zM302 100h1v1h-1zM303 100h1v1h-1zM304 100h1v1h-1zM310 100h1v1h-1zM312 100h1v1h-1zM313 100h1v1h-1zM318 100h1v1h-1zM319 100h1v1h-1zM320 100h1v1h-1zM325 100h1v1h-1zM327 100h1v1h-1zM328 100h1v1h-1zM330 100h1v1h-1zM331 100h1v1h-1zM337 100h1v1h-1zM289 101h1v1h-1zM290 101h1v1h-1zM291 101h1v1h-1zM292 101h1v1h-1zM295 101h1v1h-1zM313 101h1v1h-1zM325 101h1v1h-1zM334 101h1v1h-1zM285 102h1v1h-1zM291 102h1v1h-1zM294 102h1v1h-1zM300 102h1v1h-1zM305 102h1v1h-1zM307 102h1v1h-1zM312 102h1v1h-1zM319 102h1v1h-1zM328 102h1v1h-1zM285 103h1v1h-1zM287 103h1v1h-1zM299 103h1v1h-1zM302 103h1v1h-1zM303 103h1v1h-1zM311 103h1v1h-1zM316 103h1v1h-1zM322 103h1v1h-1zM324 103h1v1h-1zM329 103h1v1h-1zM330 103h1v1h-1zM331 103h1v1h-1zM336 103h1v1h-1zM288 104h1v1h-1zM293 104h1v1h-1zM297 104h1v1h-1zM310 104h1v1h-1zM311 104h1v1h-1zM287 105h1v1h-1zM288 105h1v1h-1zM290 105h1v1h-1zM293 105h1v1h-1zM297 105h1v1h-1zM298 105h1v1h-1zM303 105h1v1h-1zM305 105h1v1h-1zM313 105h1v1h-1zM320 105h1v1h-1zM326 105h1v1h-1zM328 105h1v1h-1zM331 105h1v1h-1zM289 106h1v1h-1zM301 106h1v1h-1zM303 106h1v1h-1zM310 106h1v1h-1zM330 106h1v1h-1zM333 106h1v1h-1zM336 106h1v1h-1zM287 107h1v1h-1zM295 107h1v1h-1zM303 107h1v1h-1zM325 107h1v1h-1zM326 107h1v1h-1zM331 107h1v1h-1zM334 107h1v1h-1zM335 107h1v1h-1zM336 107h1v1h-1zM298 108h1v1h-1zM303 108h1v1h-1zM308 108h1v1h-1zM312 108h1v1h-1zM317 108h1v1h-1zM322 108h1v1h-1zM330 108h1v1h-1zM335 108h1v1h-1zM290 109h1v1h-1zM294 109h1v1h-1zM299 109h1v1h-1zM300 109h1v1h-1zM306 109h1v1h-1zM309 109h1v1h-1zM310 109h1v1h-1zM314 109h1v1h-1zM324 109h1v1h-1zM336 109h1v1h-1zM285 110h1v1h-1zM286 110h1v1h-1zM289 110h1v1h-1zM299 110h1v1h-1zM312 110h1v1h-1zM316 110h1v1h-1zM324 110h1v1h-1zM294 111h1v1h-1zM302 111h1v1h-1zM313 111h1v1h-1zM314 111h1v1h-1zM320 111h1v1h-1zM321 111h1v1h-1zM323 111h1v1h-1zM333 111h1v1h-1zM288 112h1v1h-1zM292 112h1v1h-1zM293 112h1v1h-1zM299 112h1v1h-1zM310 112h1v1h-1zM324 112h1v1h-1zM325 112h1v1h-1zM330 112h1v1h-1zM335 112h1v1h-1zM336 112h1v1h-1zM337 112h1v1h-1zM287 113h1v1h-1zM290 113h1v1h-1zM295 113h1v1h-1zM301 113h1v1h-1zM310 113h1v1h-1zM316 113h1v1h-1zM317 113h1v1h-1zM324 113h1v1h-1zM327 113h1v1h-1zM328 113h1v1h-1zM301 114h1v1h-1zM302 114h1v1h-1zM312 114h1v1h-1zM293 115h1v1h-1zM300 115h1v1h-1zM311 115h1v1h-1zM328 115h1v1h-1zM331 115h1v1h-1zM335 115h1v1h-1zM289 116h1v1h-1zM296 116h1v1h-1zM299 116h1v1h-1zM301 116h1v1h-1zM304 116h1v1h-1zM307 116h1v1h-1zM310 116h1v1h-1zM314 116h1v1h-1zM320 116h1v1h-1zM333 116h1v1h-1zM303 117h1v1h-1zM306 117h1v1h-1zM310 117h1v1h-1zM312 117h1v1h-1zM317 117h1v1h-1zM320 117h1v1h-1zM321 117h1v1h-1zM324 117h1v1h-1zM331 117h1v1h-1zM334 117h1v1h-1zM296 118h1v1h-1zM298 118h1v1h-1zM311 118h1v1h-1zM319 118h1v1h-1zM321 118h1v1h-1zM324 118h1v1h-1zM328 118h1v1h-1zM329 118h1v1h-1zM331 118h1v1h-1zM334 118h1v1h-1zM286 119h1v1h-1zM291 119h1v1h-1zM297 119h1v1h-1zM299 119h1v1h-1zM300 119h1v1h-1zM304 119h1v1h-1zM306 119h1v1h-1zM312 119h1v1h-1zM318 119h1v1h-1zM331 119h1v1h-1zM332 119h1v1h-1zM334 119h1v1h-1zM335 119h1v1h-1z"/>
<path fill="#1a1a1a" fill-opacity="0.17" d="M302 120h1v1h-1zM307 120h3v1h-3zM311 120h2v1h-2zM324 120h1v1h-1zM286 121h1v1h-1zM298 121h1v1h-1zM314 121h1v1h-1zM317 121h2v1h-2zM323 121h1v1h-1zM328 121h3v1h-3zM334 121h2v1h-2zM288 122h1v1h-1zM320 122h2v1h-2zM324 122h1v1h-1zM332 122h1v1h-1zM285 123h1v1h-1zM290 123h2v1h-2zM296 123h2v1h-2zM298 123h2v1h-2zM302 123h3v1h-3zM308 123h1v1h-1zM320 123h3v1h-3zM325 123h1v1h-1zM336 123h1v1h-1zM289 124h2v1h-2zM292 124h1v1h-1zM310 124h2v1h-2zM321 124h1v1h-1zM322 124h1v1h-1zM323 124h2v1h-2zM289 125h1v1h-1zM290 125h1v1h-1zM297 125h1v1h-1zM305 125h1v1h-1zM309 125h1v1h-1zM311 125h1v1h-1zM312 125h2v1h-2zM327 125h1v1h-1zM335 125h1v1h-1zM301 126h1v1h-1zM303 126h1v1h-1zM308 126h2v1h-2zM312 126h1v1h-1zM318 126h3v1h-3zM330 126h2v1h-2zM285 127h3v1h-3zM292 127h2v1h-2zM295 127h1v1h-1zM303 127h3v1h-3zM312 127h1v1h-1zM317 127h1v1h-1zM334 127h1v1h-1zM295 128h2v1h-2zM309 128h3v1h-3zM320 128h1v1h-1zM322 128h1v1h-1zM331 128h1v1h-1zM287 129h2v1h-2zM293 129h2v1h-2zM300 129h2v1h-2zM302 129h1v1h-1zM303 129h1v1h-1zM316 129h1v1h-1zM294 130h2v1h-2zM301 130h1v1h-1zM323 130h1v1h-1zM324 130h2v1h-2zM335 130h3v1h-3zM295 131h1v1h-1zM296 131h2v1h-2zM308 131h2v1h-2zM316 131h1v1h-1zM329 131h1v1h-1zM330 131h1v1h-1zM335 131h1v1h-1zM285 132h3v1h-3zM290 132h2v1h-2zM293 132h1v1h-1zM299 132h3v1h-3zM303 132h1v1h-1zM310 132h2v1h-2zM319 132h1v1h-1zM320 132h1v1h-1zM321 132h1v1h-1zM329 132h2v1h-2zM288 133h3v1h-3zM305 133h1v1h-1zM307 133h1v1h-1zM311 133h2v1h-2zM330 133h3v1h-3zM333 133h2v1h-2zM290 134h3v1h-3zM296 134h1v1h-1zM308 134h3v1h-3zM312 134h3v1h-3zM291 135h2v1h-2zM293 135h2v1h-2zM295 135h2v1h-2zM302 135h1v1h-1zM326 135h1v1h-1zM330 135h1v1h-1zM337 135h1v1h-1zM292 136h2v1h-2zM319 136h1v1h-1zM337 136h1v1h-1zM286 137h1v1h-1zM292 137h1v1h-1zM308 137h2v1h-2zM312 137h1v1h-1zM317 137h1v1h-1zM324 137h2v1h-2zM334 137h2v1h-2zM289 138h1v1h-1zM290 138h1v1h-1zM291 138h1v1h-1zM297 138h2v1h-2zM313 138h1v1h-1zM320 138h2v1h-2zM329 138h1v1h-1zM285 139h1v1h-1zM292 139h1v1h-1zM295 139h1v1h-1zM299 139h2v1h-2zM310 139h1v1h-1zM317 139h3v1h-3zM320 139h1v1h-1zM327 139h2v1h-2zM335 139h2v1h-2zM285 140h3v1h-3zM289 140h1v1h-1zM296 140h1v1h-1zM297 140h1v1h-1zM303 140h1v1h-1zM307 140h1v1h-1zM314 140h1v1h-1zM320 140h1v1h-1zM336 140h1v1h-1zM307 141h1v1h-1zM294 142h2v1h-2zM298 142h2v1h-2zM306 142h1v1h-1zM313 142h2v1h-2zM322 142h2v1h-2zM326 142h2v1h-2zM328 142h1v1h-1zM334 142h2v1h-2zM296 143h1v1h-1zM297 143h1v1h-1zM298 143h1v1h-1zM299 143h2v1h-2zM301 143h2v1h-2zM304 143h1v1h-1zM319 143h3v1h-3zM294 144h1v1h-1zM308 144h2v1h-2zM326 144h2v1h-2zM329 144h1v1h-1zM331 144h2v1h-2zM295 145h1v1h-1zM303 145h1v1h-1zM306 145h1v1h-1zM308 145h1v1h-1zM319 145h3v1h-3zM326 145h1v1h-1zM334 145h1v1h-1zM289 146h1v1h-1zM298 147h1v1h-1zM304 147h1v1h-1zM307 147h3v1h-3zM319 147h1v1h-1zM329 147h1v1h-1zM291 148h2v1h-2zM293 148h1v1h-1zM296 148h3v1h-3zM300 148h1v1h-1zM304 148h1v1h-1zM307 148h3v1h-3zM311 148h2v1h-2zM316 148h3v1h-3zM324 148h2v1h-2zM328 148h1v1h-1zM329 148h3v1h-3zM286 149h1v1h-1zM296 149h1v1h-1zM307 149h3v1h-3zM319 149h1v1h-1zM329 149h2v1h-2zM337 149h1v1h-1zM286 150h2v1h-2zM299 150h1v1h-1zM308 150h2v1h-2zM317 150h2v1h-2zM336 150h1v1h-1zM313 151h1v1h-1zM329 151h3v1h-3zM334 151h1v1h-1zM292 152h1v1h-1zM307 152h2v1h-2zM314 152h1v1h-1zM316 152h2v1h-2zM318 152h1v1h-1zM321 152h1v1h-1zM330 152h1v1h-1zM331 152h2v1h-2zM335 152h1v1h-1zM290 153h1v1h-1zM303 153h2v1h-2zM305 153h1v1h-1zM313 153h1v1h-1zM315 153h1v1h-1zM294 154h1v1h-1zM305 154h1v1h-1zM312 154h3v1h-3zM336 154h1v1h-1zM288 155h1v1h-1zM300 155h2v1h-2zM308 155h1v1h-1zM332 155h2v1h-2z"/>
<path fill="#1a1a1a" fill-opacity="0.33" d="M291 120h1v1h-1zM296 120h2v1h-2zM298 120h2v1h-2zM318 120h3v1h-3zM331 120h1v1h-1zM333 120h1v1h-1zM308 121h1v1h-1zM315 121h2v1h-2zM319 121h2v1h-2zM309 122h3v1h-3zM313 122h2v1h-2zM317 122h3v1h-3zM287 123h1v1h-1zM294 123h1v1h-1zM311 123h1v1h-1zM315 123h1v1h-1zM316 123h1v1h-1zM319 123h1v1h-1zM294 124h1v1h-1zM304 124h1v1h-1zM308 124h2v1h-2zM327 124h3v1h-3zM330 124h2v1h-2zM333 124h1v1h-1zM303 125h1v1h-1zM304 125h1v1h-1zM332 125h1v1h-1zM286 126h1v1h-1zM287 126h2v1h-2zM289 126h1v1h-1zM290 126h3v1h-3zM295 126h3v1h-3zM302 126h1v1h-1zM304 126h1v1h-1zM305 126h1v1h-1zM306 126h2v1h-2zM323 126h2v1h-2zM328 126h1v1h-1zM329 126h1v1h-1zM299 127h1v1h-1zM289 128h1v1h-1zM290 128h3v1h-3zM304 128h2v1h-2zM306 128h2v1h-2zM314 128h1v1h-1zM297 129h1v1h-1zM309 129h1v1h-1zM323 129h1v1h-1zM325 129h1v1h-1zM326 129h1v1h-1zM329 129h1v1h-1zM288 130h2v1h-2zM290 130h3v1h-3zM293 130h1v1h-1zM304 130h1v1h-1zM314 130h2v1h-2zM321 130h1v1h-1zM286 131h1v1h-1zM287 131h2v1h-2zM307 131h1v1h-1zM326 131h2v1h-2zM295 132h2v1h-2zM305 132h1v1h-1zM308 132h1v1h-1zM315 132h2v1h-2zM331 132h1v1h-1zM285 133h2v1h-2zM300 133h2v1h-2zM316 133h2v1h-2zM319 133h1v1h-1zM323 133h3v1h-3zM328 133h1v1h-1zM336 133h1v1h-1zM295 134h1v1h-1zM301 134h1v1h-1zM303 134h2v1h-2zM305 134h1v1h-1zM316 134h1v1h-1zM319 134h3v1h-3zM330 134h3v1h-3zM335 134h2v1h-2zM288 135h2v1h-2zM290 135h1v1h-1zM304 135h2v1h-2zM311 135h1v1h-1zM314 135h1v1h-1zM285 136h2v1h-2zM289 136h3v1h-3zM294 136h1v1h-1zM296 136h3v1h-3zM307 136h1v1h-1zM309 136h2v1h-2zM331 136h2v1h-2zM304 137h1v1h-1zM315 137h2v1h-2zM326 137h2v1h-2zM336 137h1v1h-1zM302 138h1v1h-1zM303 138h1v1h-1zM311 138h2v1h-2zM315 138h2v1h-2zM327 138h1v1h-1zM330 139h1v1h-1zM288 140h1v1h-1zM292 140h3v1h-3zM298 140h2v1h-2zM305 140h1v1h-1zM309 140h1v1h-1zM311 140h3v1h-3zM318 140h2v1h-2zM323 140h3v1h-3zM328 140h1v1h-1zM333 140h2v1h-2zM301 141h1v1h-1zM330 142h2v1h-2zM285 143h1v1h-1zM290 143h1v1h-1zM326 143h1v1h-1zM287 144h2v1h-2zM299 144h2v1h-2zM305 144h2v1h-2zM307 144h1v1h-1zM310 144h1v1h-1zM311 144h2v1h-2zM316 144h2v1h-2zM320 144h2v1h-2zM324 144h1v1h-1zM328 144h1v1h-1zM299 145h3v1h-3zM311 145h1v1h-1zM318 145h1v1h-1zM325 145h1v1h-1zM288 146h1v1h-1zM306 146h1v1h-1zM324 146h1v1h-1zM334 146h2v1h-2zM287 147h1v1h-1zM299 147h1v1h-1zM301 147h2v1h-2zM306 147h1v1h-1zM312 147h1v1h-1zM318 147h1v1h-1zM322 147h1v1h-1zM330 147h1v1h-1zM286 148h3v1h-3zM305 148h1v1h-1zM319 148h1v1h-1zM287 149h1v1h-1zM288 149h2v1h-2zM297 149h2v1h-2zM301 149h1v1h-1zM310 149h1v1h-1zM311 149h2v1h-2zM323 149h2v1h-2zM336 149h1v1h-1zM285 150h1v1h-1zM288 150h2v1h-2zM303 150h1v1h-1zM305 150h3v1h-3zM315 150h2v1h-2zM322 150h1v1h-1zM329 150h1v1h-1zM330 150h1v1h-1zM334 150h2v1h-2zM289 151h1v1h-1zM293 151h1v1h-1zM299 151h1v1h-1zM315 151h3v1h-3zM321 151h1v1h-1zM289 152h2v1h-2zM297 152h3v1h-3zM301 152h1v1h-1zM310 152h1v1h-1zM312 152h2v1h-2zM327 152h3v1h-3zM337 152h1v1h-1zM285 153h2v1h-2zM297 153h1v1h-1zM301 153h1v1h-1zM307 153h2v1h-2zM309 153h1v1h-1zM316 153h1v1h-1zM320 153h1v1h-1zM327 153h2v1h-2zM336 153h2v1h-2zM302 154h1v1h-1zM327 154h1v1h-1zM331 154h1v1h-1zM291 155h1v1h-1zM298 155h2v1h-2zM304 155h1v1h-1zM312 155h2v1h-2zM314 155h2v1h-2zM317 155h3v1h-3zM325 155h2v1h-2zM330 155h1v1h-1zM331 155h1v1h-1zM334 155h1v1h-1zM335 155h1v1h-1zM336 155h2v1h-2z"/>
<path fill="#1a1a1a" fill-opacity="0.49" d="M287 120h1v1h-1zM288 120h1v1h-1zM313 120h3v1h-3zM329 120h2v1h-2zM287 121h2v1h-2zM293 121h2v1h-2zM296 121h1v1h-1zM303 121h2v1h-2zM306 121h1v1h-1zM310 121h3v1h-3zM326 121h1v1h-1zM327 121h1v1h-1zM333 121h1v1h-1zM293 122h2v1h-2zM297 122h1v1h-1zM299 122h2v1h-2zM302 122h1v1h-1zM286 123h1v1h-1zM295 123h1v1h-1zM305 123h2v1h-2zM309 123h1v1h-1zM310 123h1v1h-1zM313 123h2v1h-2zM328 123h1v1h-1zM330 123h2v1h-2zM333 123h1v1h-1zM288 124h1v1h-1zM293 124h1v1h-1zM295 124h3v1h-3zM305 124h2v1h-2zM313 124h2v1h-2zM315 124h1v1h-1zM334 124h3v1h-3zM286 125h1v1h-1zM314 125h1v1h-1zM322 125h1v1h-1zM323 125h2v1h-2zM329 125h2v1h-2zM298 126h1v1h-1zM300 126h1v1h-1zM314 126h3v1h-3zM325 126h2v1h-2zM332 126h1v1h-1zM334 126h1v1h-1zM336 126h1v1h-1zM288 127h2v1h-2zM310 127h2v1h-2zM329 127h3v1h-3zM337 127h1v1h-1zM285 128h2v1h-2zM294 128h1v1h-1zM297 128h2v1h-2zM313 128h1v1h-1zM315 128h3v1h-3zM327 128h3v1h-3zM332 128h1v1h-1zM335 128h3v1h-3zM290 129h2v1h-2zM295 129h1v1h-1zM305 129h2v1h-2zM335 129h3v1h-3zM286 130h1v1h-1zM300 130h1v1h-1zM302 130h2v1h-2zM305 130h2v1h-2zM318 130h3v1h-3zM330 130h1v1h-1zM334 130h1v1h-1zM292 131h1v1h-1zM293 131h1v1h-1zM303 131h2v1h-2zM333 131h1v1h-1zM297 132h1v1h-1zM298 132h1v1h-1zM302 132h1v1h-1zM313 132h1v1h-1zM335 132h2v1h-2zM337 132h1v1h-1zM295 133h1v1h-1zM302 133h3v1h-3zM306 133h1v1h-1zM309 133h2v1h-2zM320 133h2v1h-2zM326 133h2v1h-2zM329 133h1v1h-1zM285 134h1v1h-1zM288 134h2v1h-2zM315 134h1v1h-1zM323 134h2v1h-2zM325 134h1v1h-1zM327 134h2v1h-2zM285 135h2v1h-2zM297 135h1v1h-1zM308 135h3v1h-3zM315 135h3v1h-3zM319 135h2v1h-2zM327 135h1v1h-1zM328 135h1v1h-1zM335 135h1v1h-1zM300 136h3v1h-3zM311 136h2v1h-2zM313 136h1v1h-1zM323 136h2v1h-2zM330 136h1v1h-1zM291 137h1v1h-1zM293 137h3v1h-3zM297 137h1v1h-1zM300 137h1v1h-1zM311 137h1v1h-1zM320 137h2v1h-2zM328 137h1v1h-1zM329 137h1v1h-1zM299 138h2v1h-2zM309 138h2v1h-2zM323 138h2v1h-2zM325 138h1v1h-1zM287 139h1v1h-1zM304 139h2v1h-2zM321 139h2v1h-2zM300 140h2v1h-2zM321 140h1v1h-1zM326 140h1v1h-1zM285 141h1v1h-1zM287 141h3v1h-3zM290 141h1v1h-1zM302 141h1v1h-1zM316 141h2v1h-2zM320 141h1v1h-1zM324 141h3v1h-3zM331 141h1v1h-1zM336 141h2v1h-2zM304 142h1v1h-1zM292 143h2v1h-2zM295 143h1v1h-1zM307 143h1v1h-1zM309 143h2v1h-2zM313 143h2v1h-2zM316 143h1v1h-1zM324 143h2v1h-2zM329 143h1v1h-1zM330 143h1v1h-1zM331 143h2v1h-2zM292 144h1v1h-1zM296 144h2v1h-2zM319 144h1v1h-1zM330 144h1v1h-1zM335 144h3v1h-3zM287 145h2v1h-2zM289 145h1v1h-1zM290 145h2v1h-2zM292 145h1v1h-1zM296 145h1v1h-1zM309 145h2v1h-2zM315 145h3v1h-3zM327 145h1v1h-1zM328 145h3v1h-3zM331 145h1v1h-1zM285 146h3v1h-3zM297 146h1v1h-1zM317 146h3v1h-3zM322 146h1v1h-1zM327 146h1v1h-1zM332 146h2v1h-2zM337 146h1v1h-1zM288 147h3v1h-3zM296 147h1v1h-1zM310 147h2v1h-2zM315 147h1v1h-1zM321 147h1v1h-1zM323 147h1v1h-1zM331 147h1v1h-1zM333 147h3v1h-3zM337 147h1v1h-1zM313 148h1v1h-1zM321 148h3v1h-3zM326 148h1v1h-1zM327 148h1v1h-1zM291 149h2v1h-2zM293 149h1v1h-1zM295 149h1v1h-1zM328 149h1v1h-1zM293 150h3v1h-3zM319 150h3v1h-3zM325 150h2v1h-2zM327 150h2v1h-2zM331 150h2v1h-2zM304 151h3v1h-3zM312 151h1v1h-1zM318 151h3v1h-3zM326 151h1v1h-1zM332 151h2v1h-2zM285 152h3v1h-3zM293 152h1v1h-1zM305 152h2v1h-2zM315 152h1v1h-1zM287 153h2v1h-2zM293 153h1v1h-1zM310 153h1v1h-1zM318 153h2v1h-2zM326 153h1v1h-1zM300 154h2v1h-2zM316 154h2v1h-2zM318 154h2v1h-2zM337 154h1v1h-1zM302 155h1v1h-1zM309 155h2v1h-2zM320 155h3v1h-3z"/>
<path fill="#4a8f98" fill-opacity="0.19" d="M360 13h1v1h-1zM365 13h1v1h-1zM367 13h1v1h-1zM379 13h1v1h-1zM357 14h1v1h-1zM363 14h1v1h-1zM398 14h1v1h-1zM353 15h1v1h-1zM376 15h1v1h-1zM380 15h1v1h-1zM390 15h1v1h-1zM394 15h1v1h-1zM369 16h1v1h-1zM384 16h1v1h-1zM390 16h1v1h-1zM356 17h1v1h-1zM369 17h1v1h-1zM377 17h1v1h-1zM353 18h1v1h-1zM355 18h1v1h-1zM368 18h1v1h-1zM398 18h1v1h-1zM351 19h1v1h-1zM364 19h1v1h-1zM367 19h1v1h-1zM375 19h1v1h-1zM379 19h1v1h-1zM391 19h1v1h-1zM392 19h1v1h-1zM354 20h1v1h-1zM355 20h1v1h-1zM369 20h1v1h-1zM378 20h1v1h-1zM380 20h1v1h-1zM396 20h1v1h-1zM356 21h1v1h-1zM376 21h1v1h-1zM388 21h1v1h-1zM349 22h1v1h-1zM354 22h1v1h-1zM364 22h1v1h-1zM370 22h1v1h-1zM380 22h1v1h-1zM356 23h1v1h-1zM358 23h1v1h-1zM361 23h1v1h-1zM364 23h1v1h-1zM366 23h1v1h-1zM375 24h1v1h-1zM376 24h1v1h-1zM398 24h1v1h-1zM354 26h1v1h-1zM378 26h1v1h-1zM346 27h1v1h-1zM355 27h1v1h-1zM373 27h1v1h-1zM390 27h1v1h-1zM353 29h1v1h-1zM354 29h1v1h-1zM356 29h1v1h-1zM358 29h1v1h-1zM359 29h1v1h-1zM361 29h1v1h-1zM362 29h1v1h-1zM375 29h1v1h-1zM389 29h1v1h-1zM346 31h1v1h-1zM350 31h1v1h-1zM352 31h1v1h-1zM369 31h1v1h-1zM375 31h1v1h-1zM350 32h1v1h-1zM396 32h1v1h-1zM360 33h1v1h-1zM372 33h1v1h-1zM396 33h1v1h-1zM370 34h1v1h-1zM382 34h1v1h-1zM386 34h1v1h-1zM388 34h1v1h-1zM350 35h1v1h-1zM358 35h1v1h-1zM361 35h1v1h-1zM349 36h1v1h-1zM365 36h1v1h-1zM382 36h1v1h-1zM387 36h1v1h-1zM368 37h1v1h-1zM383 37h1v1h-1zM390 37h1v1h-1zM397 37h1v1h-1zM384 38h1v1h-1zM354 39h1v1h-1zM357 39h1v1h-1zM363 39h1v1h-1zM376 39h1v1h-1zM377 39h1v1h-1zM354 40h1v1h-1zM357 40h1v1h-1zM358 40h1v1h-1zM360 40h1v1h-1zM363 40h1v1h-1zM368 40h1v1h-1zM372 40h1v1h-1zM375 40h1v1h-1zM376 40h1v1h-1zM377 40h1v1h-1zM382 40h1v1h-1zM384 40h1v1h-1zM389 40h1v1h-1zM395 40h1v1h-1zM364 41h1v1h-1zM375 41h1v1h-1zM384 41h1v1h-1zM387 41h1v1h-1zM392 41h1v1h-1zM394 41h1v1h-1zM397 41h1v1h-1zM350 42h1v1h-1zM353 42h1v1h-1zM361 42h1v1h-1zM381 42h1v1h-1zM382 42h1v1h-1zM386 42h1v1h-1zM388 42h1v1h-1zM391 42h1v1h-1zM395 42h1v1h-1zM397 42h1v1h-1zM350 43h1v1h-1zM361 43h1v1h-1zM363 43h1v1h-1zM374 43h1v1h-1zM398 43h1v1h-1zM364 44h1v1h-1zM370 44h1v1h-1zM375 44h1v1h-1zM387 44h1v1h-1zM394 44h1v1h-1zM397 44h1v1h-1zM373 45h1v1h-1zM388 45h1v1h-1zM392 45h1v1h-1zM395 45h1v1h-1zM354 46h1v1h-1zM359 46h1v1h-1zM379 46h1v1h-1zM392 46h1v1h-1zM394 46h1v1h-1zM351 47h1v1h-1zM355 47h1v1h-1zM356 47h1v1h-1zM362 47h1v1h-1zM364 47h1v1h-1zM366 47h1v1h-1zM369 47h1v1h-1zM372 47h1v1h-1zM384 47h1v1h-1zM348 48h1v1h-1zM359 48h1v1h-1zM375 48h1v1h-1zM385 48h1v1h-1zM398 48h1v1h-1z"/>
<path fill="#4a8f98" fill-opacity="0.38" d="M347 13h1v1h-1zM355 13h1v1h-1zM368 13h1v1h-1zM382 13h1v1h-1zM391 13h1v1h-1zM374 14h1v1h-1zM352 15h1v1h-1zM359 15h1v1h-1zM361 15h1v1h-1zM379 15h1v1h-1zM387 15h1v1h-1zM347 16h1v1h-1zM357 16h1v1h-1zM361 16h1v1h-1zM363 16h1v1h-1zM366 16h1v1h-1zM353 17h1v1h-1zM371 18h1v1h-1zM360 19h1v1h-1zM369 19h1v1h-1zM376 19h1v1h-1zM351 20h1v1h-1zM375 20h1v1h-1zM376 20h1v1h-1zM382 20h1v1h-1zM388 20h1v1h-1zM393 20h1v1h-1zM348 21h1v1h-1zM369 21h1v1h-1zM379 21h1v1h-1zM395 21h1v1h-1zM355 22h1v1h-1zM359 22h1v1h-1zM381 22h1v1h-1zM391 22h1v1h-1zM347 23h1v1h-1zM352 23h1v1h-1zM353 23h1v1h-1zM360 23h1v1h-1zM362 23h1v1h-1zM363 23h1v1h-1zM375 23h1v1h-1zM381 23h1v1h-1zM393 23h1v1h-1zM351 24h1v1h-1zM365 24h1v1h-1zM358 25h1v1h-1zM365 25h1v1h-1zM370 25h1v1h-1zM376 25h1v1h-1zM389 25h1v1h-1zM397 25h1v1h-1zM375 26h1v1h-1zM383 26h1v1h-1zM388 26h1v1h-1zM394 26h1v1h-1zM358 27h1v1h-1zM366 27h1v1h-1zM368 27h1v1h-1zM372 27h1v1h-1zM377 27h1v1h-1zM378 27h1v1h-1zM375 28h1v1h-1zM389 28h1v1h-1zM392 28h1v1h-1zM398 28h1v1h-1zM349 29h1v1h-1zM351 29h1v1h-1zM372 29h1v1h-1zM373 29h1v1h-1zM385 29h1v1h-1zM388 29h1v1h-1zM355 30h1v1h-1zM373 30h1v1h-1zM392 30h1v1h-1zM346 32h1v1h-1zM355 32h1v1h-1zM372 32h1v1h-1zM377 32h1v1h-1zM394 32h1v1h-1zM356 33h1v1h-1zM358 33h1v1h-1zM365 33h1v1h-1zM395 33h1v1h-1zM351 34h1v1h-1zM366 34h1v1h-1zM369 34h1v1h-1zM366 35h1v1h-1zM372 35h1v1h-1zM357 37h1v1h-1zM359 37h1v1h-1zM361 37h1v1h-1zM347 39h1v1h-1zM386 39h1v1h-1zM347 40h1v1h-1zM356 40h1v1h-1zM364 40h1v1h-1zM366 40h1v1h-1zM369 40h1v1h-1zM374 40h1v1h-1zM379 40h1v1h-1zM381 40h1v1h-1zM349 41h1v1h-1zM355 41h1v1h-1zM356 41h1v1h-1zM357 41h1v1h-1zM359 41h1v1h-1zM366 41h1v1h-1zM372 41h1v1h-1zM379 41h1v1h-1zM380 41h1v1h-1zM383 41h1v1h-1zM385 41h1v1h-1zM386 41h1v1h-1zM388 41h1v1h-1zM390 41h1v1h-1zM391 41h1v1h-1zM354 42h1v1h-1zM357 42h1v1h-1zM364 42h1v1h-1zM366 42h1v1h-1zM367 42h1v1h-1zM370 42h1v1h-1zM374 42h1v1h-1zM375 42h1v1h-1zM380 42h1v1h-1zM389 42h1v1h-1zM348 43h1v1h-1zM358 43h1v1h-1zM359 43h1v1h-1zM378 43h1v1h-1zM379 43h1v1h-1zM382 43h1v1h-1zM386 43h1v1h-1zM388 43h1v1h-1zM389 43h1v1h-1zM390 43h1v1h-1zM350 44h1v1h-1zM356 44h1v1h-1zM358 44h1v1h-1zM366 44h1v1h-1zM367 44h1v1h-1zM398 44h1v1h-1zM352 45h1v1h-1zM356 45h1v1h-1zM359 45h1v1h-1zM371 45h1v1h-1zM380 45h1v1h-1zM394 45h1v1h-1zM349 46h1v1h-1zM372 46h1v1h-1zM374 46h1v1h-1zM380 46h1v1h-1zM383 46h1v1h-1zM350 47h1v1h-1zM352 47h1v1h-1zM353 47h1v1h-1zM354 47h1v1h-1zM365 47h1v1h-1zM373 47h1v1h-1zM375 47h1v1h-1zM379 47h1v1h-1zM383 47h1v1h-1zM392 47h1v1h-1zM393 47h1v1h-1zM394 47h1v1h-1zM395 47h1v1h-1zM396 47h1v1h-1zM398 47h1v1h-1zM352 48h1v1h-1zM365 48h1v1h-1zM396 48h1v1h-1z"/>
<path fill="#4a8f98" fill-opacity="0.57" d="M350 13h1v1h-1zM375 13h1v1h-1zM385 13h1v1h-1zM387 13h1v1h-1zM393 13h1v1h-1zM358 14h1v1h-1zM367 14h1v1h-1zM387 14h1v1h-1zM391 14h1v1h-1zM386 15h1v1h-1zM392 15h1v1h-1zM348 16h1v1h-1zM349 16h1v1h-1zM356 16h1v1h-1zM371 16h1v1h-1zM374 16h1v1h-1zM387 16h1v1h-1zM358 17h1v1h-1zM359 17h1v1h-1zM360 17h1v1h-1zM366 17h1v1h-1zM375 17h1v1h-1zM387 17h1v1h-1zM361 18h1v1h-1zM376 18h1v1h-1zM382 18h1v1h-1zM390 18h1v1h-1zM350 19h1v1h-1zM388 19h1v1h-1zM364 20h1v1h-1zM390 20h1v1h-1zM398 20h1v1h-1zM354 21h1v1h-1zM357 21h1v1h-1zM361 21h1v1h-1zM362 21h1v1h-1zM392 21h1v1h-1zM350 22h1v1h-1zM358 22h1v1h-1zM369 22h1v1h-1zM371 22h1v1h-1zM376 22h1v1h-1zM385 22h1v1h-1zM386 22h1v1h-1zM387 22h1v1h-1zM390 22h1v1h-1zM371 23h1v1h-1zM395 23h1v1h-1zM396 23h1v1h-1zM353 24h1v1h-1zM357 24h1v1h-1zM381 24h1v1h-1zM385 24h1v1h-1zM348 25h1v1h-1zM381 26h1v1h-1zM396 26h1v1h-1zM350 27h1v1h-1zM351 27h1v1h-1zM388 27h1v1h-1zM396 27h1v1h-1zM346 28h1v1h-1zM382 28h1v1h-1zM357 29h1v1h-1zM366 29h1v1h-1zM376 29h1v1h-1zM377 29h1v1h-1zM390 29h1v1h-1zM378 32h1v1h-1zM357 33h1v1h-1zM374 33h1v1h-1zM389 33h1v1h-1zM362 34h1v1h-1zM375 34h1v1h-1zM384 34h1v1h-1zM385 34h1v1h-1zM390 34h1v1h-1zM368 35h1v1h-1zM377 35h1v1h-1zM396 35h1v1h-1zM398 35h1v1h-1zM347 36h1v1h-1zM351 36h1v1h-1zM373 36h1v1h-1zM380 36h1v1h-1zM381 36h1v1h-1zM358 37h1v1h-1zM381 37h1v1h-1zM386 37h1v1h-1zM347 38h1v1h-1zM349 38h1v1h-1zM368 38h1v1h-1zM385 38h1v1h-1zM397 38h1v1h-1zM382 39h1v1h-1zM385 39h1v1h-1zM350 40h1v1h-1zM355 40h1v1h-1zM359 40h1v1h-1zM362 40h1v1h-1zM370 40h1v1h-1zM378 40h1v1h-1zM385 40h1v1h-1zM387 40h1v1h-1zM388 40h1v1h-1zM391 40h1v1h-1zM393 40h1v1h-1zM394 40h1v1h-1zM346 41h1v1h-1zM347 41h1v1h-1zM348 41h1v1h-1zM351 41h1v1h-1zM354 41h1v1h-1zM361 41h1v1h-1zM362 41h1v1h-1zM363 41h1v1h-1zM365 41h1v1h-1zM369 41h1v1h-1zM376 41h1v1h-1zM377 41h1v1h-1zM389 41h1v1h-1zM346 42h1v1h-1zM347 42h1v1h-1zM363 42h1v1h-1zM368 42h1v1h-1zM371 42h1v1h-1zM372 42h1v1h-1zM378 42h1v1h-1zM384 42h1v1h-1zM387 42h1v1h-1zM394 42h1v1h-1zM398 42h1v1h-1zM355 43h1v1h-1zM357 43h1v1h-1zM365 43h1v1h-1zM368 43h1v1h-1zM371 43h1v1h-1zM387 43h1v1h-1zM394 43h1v1h-1zM346 44h1v1h-1zM347 44h1v1h-1zM348 44h1v1h-1zM351 44h1v1h-1zM354 44h1v1h-1zM372 44h1v1h-1zM378 44h1v1h-1zM379 44h1v1h-1zM380 44h1v1h-1zM381 44h1v1h-1zM388 44h1v1h-1zM389 44h1v1h-1zM390 44h1v1h-1zM393 44h1v1h-1zM350 45h1v1h-1zM353 45h1v1h-1zM361 45h1v1h-1zM367 45h1v1h-1zM385 45h1v1h-1zM389 45h1v1h-1zM350 46h1v1h-1zM355 46h1v1h-1zM369 46h1v1h-1zM382 46h1v1h-1zM385 46h1v1h-1zM391 46h1v1h-1zM397 46h1v1h-1zM347 47h1v1h-1zM357 47h1v1h-1zM361 47h1v1h-1zM367 47h1v1h-1zM382 47h1v1h-1zM390 47h1v1h-1zM391 47h1v1h-1zM349 48h1v1h-1zM368 48h1v1h-1zM377 48h1v1h-1zM382 48h1v1h-1zM388 48h1v1h-1z"/>
<path fill="#c4843c" fill-opacity="0.24" d="M351 49h1v1h-1zM365 49h1v1h-1zM373 49h1v1h-1zM376 49h1v1h-1zM384 49h1v1h-1zM386 49h1v1h-1zM394 49h1v1h-1zM395 49h1v1h-1zM396 49h1v1h-1zM398 49h1v1h-1zM346 50h1v1h-1zM349 50h1v1h-1zM361 50h1v1h-1zM375 50h1v1h-1zM376 50h1v1h-1zM379 50h1v1h-1zM393 50h1v1h-1zM348 51h1v1h-1zM352 51h1v1h-1zM356 51h1v1h-1zM361 51h1v1h-1zM366 51h1v1h-1zM375 51h1v1h-1zM376 51h1v1h-1zM393 51h1v1h-1zM395 51h1v1h-1zM346 52h1v1h-1zM347 52h1v1h-1zM358 52h1v1h-1zM361 52h1v1h-1zM366 52h1v1h-1zM367 52h1v1h-1zM377 52h1v1h-1zM379 52h1v1h-1zM381 52h1v1h-1zM383 52h1v1h-1zM389 52h1v1h-1zM395 52h1v1h-1zM396 52h1v1h-1zM398 52h1v1h-1zM346 53h1v1h-1zM354 53h1v1h-1zM360 53h1v1h-1zM364 53h1v1h-1zM371 53h1v1h-1zM373 53h1v1h-1zM375 53h1v1h-1zM377 53h1v1h-1zM386 53h1v1h-1zM388 53h1v1h-1zM390 53h1v1h-1zM396 53h1v1h-1zM348 54h1v1h-1zM355 54h1v1h-1zM359 54h1v1h-1zM362 54h1v1h-1zM385 54h1v1h-1zM388 54h1v1h-1zM393 54h1v1h-1zM396 54h1v1h-1zM348 55h1v1h-1zM350 55h1v1h-1zM351 55h1v1h-1zM361 55h1v1h-1zM369 55h1v1h-1zM375 55h1v1h-1zM379 55h1v1h-1zM385 55h1v1h-1zM386 55h1v1h-1zM356 56h1v1h-1zM363 56h1v1h-1zM364 56h1v1h-1zM385 56h1v1h-1zM388 56h1v1h-1zM393 56h1v1h-1zM394 56h1v1h-1zM395 56h1v1h-1zM346 57h1v1h-1zM358 57h1v1h-1zM361 57h1v1h-1zM367 57h1v1h-1zM370 57h1v1h-1zM372 57h1v1h-1zM375 57h1v1h-1zM381 57h1v1h-1zM387 57h1v1h-1zM391 57h1v1h-1zM393 57h1v1h-1zM395 57h1v1h-1zM350 58h1v1h-1zM381 58h1v1h-1zM382 58h1v1h-1zM383 58h1v1h-1zM385 58h1v1h-1zM386 58h1v1h-1zM349 59h1v1h-1zM360 59h1v1h-1zM364 59h1v1h-1zM374 59h1v1h-1zM376 59h1v1h-1zM377 59h1v1h-1zM378 59h1v1h-1zM380 59h1v1h-1zM381 59h1v1h-1zM350 60h1v1h-1zM356 60h1v1h-1zM360 60h1v1h-1zM361 60h1v1h-1zM372 60h1v1h-1zM389 60h1v1h-1zM396 60h1v1h-1zM347 61h1v1h-1zM349 61h1v1h-1zM352 61h1v1h-1zM361 61h1v1h-1zM362 61h1v1h-1zM380 61h1v1h-1zM381 61h1v1h-1zM383 61h1v1h-1zM387 61h1v1h-1zM389 61h1v1h-1zM390 61h1v1h-1zM393 61h1v1h-1zM395 61h1v1h-1zM347 62h1v1h-1zM351 62h1v1h-1zM354 62h1v1h-1zM355 62h1v1h-1zM358 62h1v1h-1zM360 62h1v1h-1zM363 62h1v1h-1zM367 62h1v1h-1zM383 62h1v1h-1zM384 62h1v1h-1zM386 62h1v1h-1zM392 62h1v1h-1zM397 62h1v1h-1zM347 63h1v1h-1zM355 63h1v1h-1zM366 63h1v1h-1zM374 63h1v1h-1zM382 63h1v1h-1zM384 63h1v1h-1zM388 63h1v1h-1zM389 63h1v1h-1zM391 63h1v1h-1zM394 63h1v1h-1zM346 64h1v1h-1zM349 64h1v1h-1zM350 64h1v1h-1zM364 64h1v1h-1zM369 64h1v1h-1zM376 64h1v1h-1zM380 64h1v1h-1zM381 64h1v1h-1zM386 64h1v1h-1zM389 64h1v1h-1zM393 64h1v1h-1zM395 64h1v1h-1zM396 64h1v1h-1zM370 65h1v1h-1zM371 65h1v1h-1zM372 65h1v1h-1zM386 65h1v1h-1zM394 65h1v1h-1zM347 66h1v1h-1zM350 66h1v1h-1zM352 66h1v1h-1zM358 66h1v1h-1zM364 66h1v1h-1zM369 66h1v1h-1zM374 66h1v1h-1zM383 66h1v1h-1zM387 66h1v1h-1zM391 66h1v1h-1zM392 66h1v1h-1zM393 66h1v1h-1zM346 67h1v1h-1zM347 67h1v1h-1zM348 67h1v1h-1zM351 67h1v1h-1zM354 67h1v1h-1zM359 67h1v1h-1zM371 67h1v1h-1zM372 67h1v1h-1zM374 67h1v1h-1zM381 67h1v1h-1zM386 67h1v1h-1zM396 67h1v1h-1zM398 67h1v1h-1zM351 68h1v1h-1zM354 68h1v1h-1zM365 68h1v1h-1zM368 68h1v1h-1zM377 68h1v1h-1zM386 68h1v1h-1zM388 68h1v1h-1zM389 68h1v1h-1zM396 68h1v1h-1zM397 68h1v1h-1zM352 69h1v1h-1zM358 69h1v1h-1zM373 69h1v1h-1zM387 69h1v1h-1zM394 69h1v1h-1zM349 70h1v1h-1zM350 70h1v1h-1zM353 70h1v1h-1zM355 70h1v1h-1zM376 70h1v1h-1zM381 70h1v1h-1zM382 70h1v1h-1zM389 70h1v1h-1zM392 70h1v1h-1zM398 70h1v1h-1zM347 71h1v1h-1zM356 71h1v1h-1zM357 71h1v1h-1zM366 71h1v1h-1zM370 71h1v1h-1zM375 71h1v1h-1zM378 71h1v1h-1zM380 71h1v1h-1zM381 71h1v1h-1zM384 71h1v1h-1zM393 71h1v1h-1zM396 71h1v1h-1zM397 71h1v1h-1zM346 72h1v1h-1zM349 72h1v1h-1zM354 72h1v1h-1zM355 72h1v1h-1zM368 72h1v1h-1zM376 72h1v1h-1zM385 72h1v1h-1zM386 72h1v1h-1zM389 72h1v1h-1zM390 72h1v1h-1zM398 72h1v1h-1zM346 73h1v1h-1zM355 73h1v1h-1zM360 73h1v1h-1zM367 73h1v1h-1zM370 73h1v1h-1zM375 73h1v1h-1zM380 73h1v1h-1zM382 73h1v1h-1zM386 73h1v1h-1zM390 73h1v1h-1zM391 73h1v1h-1zM347 74h1v1h-1zM349 74h1v1h-1zM357 74h1v1h-1zM365 74h1v1h-1zM375 74h1v1h-1zM378 74h1v1h-1zM392 74h1v1h-1zM396 74h1v1h-1zM360 75h1v1h-1zM362 75h1v1h-1zM363 75h1v1h-1zM364 75h1v1h-1zM371 75h1v1h-1zM373 75h1v1h-1zM380 75h1v1h-1zM382 75h1v1h-1zM384 75h1v1h-1zM386 75h1v1h-1zM396 75h1v1h-1zM398 75h1v1h-1zM348 76h1v1h-1zM349 76h1v1h-1zM350 76h1v1h-1zM354 76h1v1h-1zM364 76h1v1h-1zM369 76h1v1h-1zM371 76h1v1h-1zM380 76h1v1h-1zM387 76h1v1h-1zM398 76h1v1h-1zM366 77h1v1h-1zM371 77h1v1h-1zM373 77h1v1h-1zM378 77h1v1h-1zM380 77h1v1h-1zM387 77h1v1h-1zM390 77h1v1h-1zM391 77h1v1h-1zM348 78h1v1h-1zM351 78h1v1h-1zM381 78h1v1h-1zM385 78h1v1h-1zM388 78h1v1h-1zM389 78h1v1h-1zM398 78h1v1h-1zM347 79h1v1h-1zM348 79h1v1h-1zM350 79h1v1h-1zM366 79h1v1h-1zM369 79h1v1h-1zM376 79h1v1h-1zM377 79h1v1h-1zM379 79h1v1h-1zM381 79h1v1h-1zM384 79h1v1h-1zM390 79h1v1h-1zM392 79h1v1h-1zM394 79h1v1h-1zM395 79h1v1h-1zM348 80h1v1h-1zM351 80h1v1h-1zM355 80h1v1h-1zM360 80h1v1h-1zM368 80h1v1h-1zM381 80h1v1h-1zM393 80h1v1h-1zM398 80h1v1h-1zM349 81h1v1h-1zM352 81h1v1h-1zM360 81h1v1h-1zM362 81h1v1h-1zM366 81h1v1h-1zM371 81h1v1h-1zM378 81h1v1h-1zM380 81h1v1h-1zM382 81h1v1h-1zM385 81h1v1h-1zM395 81h1v1h-1zM396 81h1v1h-1zM348 82h1v1h-1zM349 82h1v1h-1zM358 82h1v1h-1zM361 82h1v1h-1zM383 82h1v1h-1zM394 82h1v1h-1zM396 82h1v1h-1zM398 82h1v1h-1zM351 83h1v1h-1zM381 83h1v1h-1zM387 83h1v1h-1zM388 83h1v1h-1zM348 84h1v1h-1zM355 84h1v1h-1zM362 84h1v1h-1zM364 84h1v1h-1zM371 84h1v1h-1zM374 84h1v1h-1zM378 84h1v1h-1zM379 84h1v1h-1zM384 84h1v1h-1zM386 84h1v1h-1z"/>
<path fill="#c4843c" fill-opacity="0.48" d="M352 49h1v1h-1zM359 49h1v1h-1zM368 49h1v1h-1zM375 49h1v1h-1zM378 49h1v1h-1zM381 49h1v1h-1zM382 49h1v1h-1zM392 49h1v1h-1zM397 49h1v1h-1zM355 50h1v1h-1zM356 50h1v1h-1zM357 50h1v1h-1zM359 50h1v1h-1zM365 50h1v1h-1zM367 50h1v1h-1zM368 50h1v1h-1zM373 50h1v1h-1zM377 50h1v1h-1zM384 50h1v1h-1zM387 50h1v1h-1zM392 50h1v1h-1zM395 50h1v1h-1zM353 51h1v1h-1zM354 51h1v1h-1zM358 51h1v1h-1zM359 51h1v1h-1zM362 51h1v1h-1zM378 51h1v1h-1zM381 51h1v1h-1zM390 51h1v1h-1zM349 52h1v1h-1zM351 52h1v1h-1zM353 52h1v1h-1zM354 52h1v1h-1zM355 52h1v1h-1zM359 52h1v1h-1zM363 52h1v1h-1zM369 52h1v1h-1zM372 52h1v1h-1zM382 52h1v1h-1zM387 52h1v1h-1zM393 52h1v1h-1zM394 52h1v1h-1zM350 53h1v1h-1zM355 53h1v1h-1zM357 53h1v1h-1zM361 53h1v1h-1zM370 53h1v1h-1zM376 53h1v1h-1zM381 53h1v1h-1zM389 53h1v1h-1zM395 53h1v1h-1zM397 53h1v1h-1zM358 54h1v1h-1zM367 54h1v1h-1zM376 54h1v1h-1zM378 54h1v1h-1zM379 54h1v1h-1zM380 54h1v1h-1zM389 54h1v1h-1zM390 54h1v1h-1zM392 54h1v1h-1zM397 54h1v1h-1zM346 55h1v1h-1zM349 55h1v1h-1zM352 55h1v1h-1zM363 55h1v1h-1zM367 55h1v1h-1zM368 55h1v1h-1zM378 55h1v1h-1zM388 55h1v1h-1zM394 55h1v1h-1zM397 55h1v1h-1zM348 56h1v1h-1zM349 56h1v1h-1zM358 56h1v1h-1zM359 56h1v1h-1zM361 56h1v1h-1zM362 56h1v1h-1zM370 56h1v1h-1zM377 56h1v1h-1zM379 56h1v1h-1zM381 56h1v1h-1zM350 57h1v1h-1zM356 57h1v1h-1zM357 57h1v1h-1zM371 57h1v1h-1zM376 57h1v1h-1zM382 57h1v1h-1zM396 57h1v1h-1zM397 57h1v1h-1zM352 58h1v1h-1zM353 58h1v1h-1zM355 58h1v1h-1zM357 58h1v1h-1zM358 58h1v1h-1zM361 58h1v1h-1zM362 58h1v1h-1zM372 58h1v1h-1zM376 58h1v1h-1zM377 58h1v1h-1zM389 58h1v1h-1zM391 58h1v1h-1zM396 58h1v1h-1zM398 58h1v1h-1zM348 59h1v1h-1zM361 59h1v1h-1zM362 59h1v1h-1zM363 59h1v1h-1zM365 59h1v1h-1zM366 59h1v1h-1zM367 59h1v1h-1zM372 59h1v1h-1zM384 59h1v1h-1zM385 59h1v1h-1zM393 59h1v1h-1zM349 60h1v1h-1zM353 60h1v1h-1zM358 60h1v1h-1zM374 60h1v1h-1zM383 60h1v1h-1zM394 60h1v1h-1zM395 60h1v1h-1zM358 61h1v1h-1zM359 61h1v1h-1zM365 61h1v1h-1zM366 61h1v1h-1zM367 61h1v1h-1zM369 61h1v1h-1zM370 61h1v1h-1zM376 61h1v1h-1zM378 61h1v1h-1zM384 61h1v1h-1zM398 61h1v1h-1zM356 62h1v1h-1zM359 62h1v1h-1zM369 62h1v1h-1zM371 62h1v1h-1zM374 62h1v1h-1zM375 62h1v1h-1zM377 62h1v1h-1zM378 62h1v1h-1zM385 62h1v1h-1zM389 62h1v1h-1zM394 62h1v1h-1zM395 62h1v1h-1zM348 63h1v1h-1zM352 63h1v1h-1zM359 63h1v1h-1zM360 63h1v1h-1zM369 63h1v1h-1zM372 63h1v1h-1zM376 63h1v1h-1zM387 63h1v1h-1zM347 64h1v1h-1zM352 64h1v1h-1zM354 64h1v1h-1zM355 64h1v1h-1zM356 64h1v1h-1zM358 64h1v1h-1zM363 64h1v1h-1zM372 64h1v1h-1zM382 64h1v1h-1zM391 64h1v1h-1zM392 64h1v1h-1zM397 64h1v1h-1zM351 65h1v1h-1zM355 65h1v1h-1zM357 65h1v1h-1zM364 65h1v1h-1zM379 65h1v1h-1zM384 65h1v1h-1zM385 65h1v1h-1zM393 65h1v1h-1zM397 65h1v1h-1zM398 65h1v1h-1zM351 66h1v1h-1zM354 66h1v1h-1zM357 66h1v1h-1zM360 66h1v1h-1zM367 66h1v1h-1zM372 66h1v1h-1zM378 66h1v1h-1zM385 66h1v1h-1zM388 66h1v1h-1zM390 66h1v1h-1zM394 66h1v1h-1zM397 66h1v1h-1zM398 66h1v1h-1zM355 67h1v1h-1zM356 67h1v1h-1zM363 67h1v1h-1zM365 67h1v1h-1zM373 67h1v1h-1zM389 67h1v1h-1zM394 67h1v1h-1zM346 68h1v1h-1zM350 68h1v1h-1zM352 68h1v1h-1zM353 68h1v1h-1zM362 68h1v1h-1zM390 68h1v1h-1zM391 68h1v1h-1zM348 69h1v1h-1zM356 69h1v1h-1zM370 69h1v1h-1zM376 69h1v1h-1zM377 69h1v1h-1zM379 69h1v1h-1zM383 69h1v1h-1zM384 69h1v1h-1zM388 69h1v1h-1zM346 70h1v1h-1zM359 70h1v1h-1zM364 70h1v1h-1zM383 70h1v1h-1zM394 70h1v1h-1zM395 70h1v1h-1zM397 70h1v1h-1zM349 71h1v1h-1zM350 71h1v1h-1zM351 71h1v1h-1zM353 71h1v1h-1zM359 71h1v1h-1zM374 71h1v1h-1zM377 71h1v1h-1zM389 71h1v1h-1zM347 72h1v1h-1zM367 72h1v1h-1zM370 72h1v1h-1zM371 72h1v1h-1zM378 72h1v1h-1zM397 72h1v1h-1zM369 73h1v1h-1zM371 73h1v1h-1zM383 73h1v1h-1zM384 73h1v1h-1zM351 74h1v1h-1zM363 74h1v1h-1zM364 74h1v1h-1zM385 74h1v1h-1zM388 74h1v1h-1zM398 74h1v1h-1zM356 75h1v1h-1zM358 75h1v1h-1zM361 75h1v1h-1zM366 75h1v1h-1zM368 75h1v1h-1zM372 75h1v1h-1zM381 75h1v1h-1zM385 75h1v1h-1zM393 75h1v1h-1zM395 75h1v1h-1zM351 76h1v1h-1zM353 76h1v1h-1zM356 76h1v1h-1zM359 76h1v1h-1zM361 76h1v1h-1zM374 76h1v1h-1zM385 76h1v1h-1zM393 76h1v1h-1zM394 76h1v1h-1zM361 77h1v1h-1zM363 77h1v1h-1zM375 77h1v1h-1zM377 77h1v1h-1zM381 77h1v1h-1zM383 77h1v1h-1zM394 77h1v1h-1zM346 78h1v1h-1zM347 78h1v1h-1zM354 78h1v1h-1zM362 78h1v1h-1zM367 78h1v1h-1zM368 78h1v1h-1zM372 78h1v1h-1zM373 78h1v1h-1zM390 78h1v1h-1zM394 78h1v1h-1zM397 78h1v1h-1zM354 79h1v1h-1zM360 79h1v1h-1zM372 79h1v1h-1zM382 79h1v1h-1zM387 79h1v1h-1zM388 79h1v1h-1zM356 80h1v1h-1zM359 80h1v1h-1zM373 80h1v1h-1zM374 80h1v1h-1zM389 80h1v1h-1zM390 80h1v1h-1zM397 80h1v1h-1zM347 81h1v1h-1zM361 81h1v1h-1zM363 81h1v1h-1zM364 81h1v1h-1zM368 81h1v1h-1zM369 81h1v1h-1zM374 81h1v1h-1zM376 81h1v1h-1zM351 82h1v1h-1zM359 82h1v1h-1zM362 82h1v1h-1zM363 82h1v1h-1zM364 82h1v1h-1zM367 82h1v1h-1zM372 82h1v1h-1zM375 82h1v1h-1zM378 82h1v1h-1zM393 82h1v1h-1zM395 82h1v1h-1zM397 82h1v1h-1zM356 83h1v1h-1zM357 83h1v1h-1zM375 83h1v1h-1zM377 83h1v1h-1zM383 83h1v1h-1zM394 83h1v1h-1zM347 84h1v1h-1zM353 84h1v1h-1zM354 84h1v1h-1zM360 84h1v1h-1zM363 84h1v1h-1zM373 84h1v1h-1zM387 84h1v1h-1z"/>
<path fill="#c4843c" fill-opacity="0.72" d="M346 49h1v1h-1zM347 49h1v1h-1zM349 49h1v1h-1zM354 49h1v1h-1zM370 49h1v1h-1zM371 49h1v1h-1zM379 49h1v1h-1zM387 49h1v1h-1zM390 49h1v1h-1zM347 50h1v1h-1zM348 50h1v1h-1zM352 50h1v1h-1zM354 50h1v1h-1zM370 50h1v1h-1zM372 50h1v1h-1zM374 50h1v1h-1zM378 50h1v1h-1zM382 50h1v1h-1zM389 50h1v1h-1zM391 50h1v1h-1zM346 51h1v1h-1zM351 51h1v1h-1zM363 51h1v1h-1zM364 51h1v1h-1zM370 51h1v1h-1zM373 51h1v1h-1zM377 51h1v1h-1zM384 51h1v1h-1zM387 51h1v1h-1zM392 51h1v1h-1zM398 51h1v1h-1zM348 52h1v1h-1zM356 52h1v1h-1zM362 52h1v1h-1zM368 52h1v1h-1zM371 52h1v1h-1zM374 52h1v1h-1zM375 52h1v1h-1zM385 52h1v1h-1zM390 52h1v1h-1zM348 53h1v1h-1zM349 53h1v1h-1zM356 53h1v1h-1zM363 53h1v1h-1zM394 53h1v1h-1zM349 54h1v1h-1zM360 54h1v1h-1zM364 54h1v1h-1zM370 54h1v1h-1zM372 54h1v1h-1zM382 54h1v1h-1zM387 54h1v1h-1zM347 55h1v1h-1zM355 55h1v1h-1zM356 55h1v1h-1zM364 55h1v1h-1zM370 55h1v1h-1zM372 55h1v1h-1zM373 55h1v1h-1zM376 55h1v1h-1zM377 55h1v1h-1zM381 55h1v1h-1zM389 55h1v1h-1zM390 55h1v1h-1zM395 55h1v1h-1zM396 55h1v1h-1zM350 56h1v1h-1zM351 56h1v1h-1zM355 56h1v1h-1zM366 56h1v1h-1zM371 56h1v1h-1zM374 56h1v1h-1zM383 56h1v1h-1zM384 56h1v1h-1zM386 56h1v1h-1zM389 56h1v1h-1zM390 56h1v1h-1zM396 56h1v1h-1zM347 57h1v1h-1zM349 57h1v1h-1zM352 57h1v1h-1zM359 57h1v1h-1zM362 57h1v1h-1zM364 57h1v1h-1zM374 57h1v1h-1zM377 57h1v1h-1zM385 57h1v1h-1zM386 57h1v1h-1zM348 58h1v1h-1zM349 58h1v1h-1zM359 58h1v1h-1zM363 58h1v1h-1zM365 58h1v1h-1zM368 58h1v1h-1zM392 58h1v1h-1zM397 58h1v1h-1zM353 59h1v1h-1zM359 59h1v1h-1zM368 59h1v1h-1zM371 59h1v1h-1zM382 59h1v1h-1zM386 59h1v1h-1zM387 59h1v1h-1zM395 59h1v1h-1zM348 60h1v1h-1zM369 60h1v1h-1zM379 60h1v1h-1zM381 60h1v1h-1zM384 60h1v1h-1zM392 60h1v1h-1zM346 61h1v1h-1zM348 61h1v1h-1zM360 61h1v1h-1zM372 61h1v1h-1zM382 61h1v1h-1zM394 61h1v1h-1zM396 61h1v1h-1zM346 62h1v1h-1zM350 62h1v1h-1zM362 62h1v1h-1zM365 62h1v1h-1zM366 62h1v1h-1zM368 62h1v1h-1zM387 62h1v1h-1zM388 62h1v1h-1zM398 62h1v1h-1zM346 63h1v1h-1zM349 63h1v1h-1zM353 63h1v1h-1zM356 63h1v1h-1zM363 63h1v1h-1zM365 63h1v1h-1zM370 63h1v1h-1zM392 63h1v1h-1zM393 63h1v1h-1zM353 64h1v1h-1zM359 64h1v1h-1zM360 64h1v1h-1zM367 64h1v1h-1zM370 64h1v1h-1zM374 64h1v1h-1zM383 64h1v1h-1zM385 64h1v1h-1zM387 64h1v1h-1zM390 64h1v1h-1zM354 65h1v1h-1zM356 65h1v1h-1zM360 65h1v1h-1zM368 65h1v1h-1zM378 65h1v1h-1zM380 65h1v1h-1zM391 65h1v1h-1zM346 66h1v1h-1zM349 66h1v1h-1zM353 66h1v1h-1zM359 66h1v1h-1zM362 66h1v1h-1zM366 66h1v1h-1zM375 66h1v1h-1zM380 66h1v1h-1zM384 66h1v1h-1zM395 66h1v1h-1zM396 66h1v1h-1zM350 67h1v1h-1zM353 67h1v1h-1zM358 67h1v1h-1zM367 67h1v1h-1zM369 67h1v1h-1zM375 67h1v1h-1zM377 67h1v1h-1zM380 67h1v1h-1zM382 67h1v1h-1zM387 67h1v1h-1zM390 67h1v1h-1zM361 68h1v1h-1zM367 68h1v1h-1zM373 68h1v1h-1zM375 68h1v1h-1zM380 68h1v1h-1zM385 68h1v1h-1zM393 68h1v1h-1zM353 69h1v1h-1zM357 69h1v1h-1zM361 69h1v1h-1zM371 69h1v1h-1zM372 69h1v1h-1zM374 69h1v1h-1zM380 69h1v1h-1zM381 69h1v1h-1zM396 69h1v1h-1zM398 69h1v1h-1zM357 70h1v1h-1zM366 70h1v1h-1zM367 70h1v1h-1zM370 70h1v1h-1zM371 70h1v1h-1zM385 70h1v1h-1zM386 70h1v1h-1zM387 70h1v1h-1zM390 70h1v1h-1zM393 70h1v1h-1zM346 71h1v1h-1zM376 71h1v1h-1zM383 71h1v1h-1zM386 71h1v1h-1zM390 71h1v1h-1zM352 72h1v1h-1zM356 72h1v1h-1zM359 72h1v1h-1zM362 72h1v1h-1zM363 72h1v1h-1zM365 72h1v1h-1zM369 72h1v1h-1zM377 72h1v1h-1zM387 72h1v1h-1zM392 72h1v1h-1zM393 72h1v1h-1zM396 72h1v1h-1zM350 73h1v1h-1zM352 73h1v1h-1zM361 73h1v1h-1zM364 73h1v1h-1zM376 73h1v1h-1zM377 73h1v1h-1zM397 73h1v1h-1zM346 74h1v1h-1zM352 74h1v1h-1zM353 74h1v1h-1zM356 74h1v1h-1zM359 74h1v1h-1zM361 74h1v1h-1zM376 74h1v1h-1zM377 74h1v1h-1zM384 74h1v1h-1zM353 75h1v1h-1zM378 75h1v1h-1zM392 75h1v1h-1zM355 76h1v1h-1zM360 76h1v1h-1zM365 76h1v1h-1zM370 76h1v1h-1zM372 76h1v1h-1zM383 76h1v1h-1zM392 76h1v1h-1zM396 76h1v1h-1zM350 77h1v1h-1zM357 77h1v1h-1zM358 77h1v1h-1zM359 77h1v1h-1zM362 77h1v1h-1zM367 77h1v1h-1zM370 77h1v1h-1zM384 77h1v1h-1zM395 77h1v1h-1zM397 77h1v1h-1zM349 78h1v1h-1zM357 78h1v1h-1zM361 78h1v1h-1zM369 78h1v1h-1zM370 78h1v1h-1zM371 78h1v1h-1zM375 78h1v1h-1zM377 78h1v1h-1zM392 78h1v1h-1zM352 79h1v1h-1zM362 79h1v1h-1zM368 79h1v1h-1zM371 79h1v1h-1zM389 79h1v1h-1zM393 79h1v1h-1zM396 79h1v1h-1zM346 80h1v1h-1zM350 80h1v1h-1zM358 80h1v1h-1zM367 80h1v1h-1zM369 80h1v1h-1zM371 80h1v1h-1zM376 80h1v1h-1zM377 80h1v1h-1zM382 80h1v1h-1zM385 80h1v1h-1zM388 80h1v1h-1zM394 80h1v1h-1zM350 81h1v1h-1zM353 81h1v1h-1zM357 81h1v1h-1zM358 81h1v1h-1zM365 81h1v1h-1zM373 81h1v1h-1zM375 81h1v1h-1zM377 81h1v1h-1zM384 81h1v1h-1zM387 81h1v1h-1zM346 82h1v1h-1zM353 82h1v1h-1zM365 82h1v1h-1zM370 82h1v1h-1zM371 82h1v1h-1zM377 82h1v1h-1zM384 82h1v1h-1zM385 82h1v1h-1zM346 83h1v1h-1zM349 83h1v1h-1zM360 83h1v1h-1zM365 83h1v1h-1zM370 83h1v1h-1zM376 83h1v1h-1zM380 83h1v1h-1zM351 84h1v1h-1zM352 84h1v1h-1zM366 84h1v1h-1zM367 84h1v1h-1zM370 84h1v1h-1zM375 84h1v1h-1zM376 84h1v1h-1zM380 84h1v1h-1zM382 84h1v1h-1zM383 84h1v1h-1zM389 84h1v1h-1zM392 84h1v1h-1zM394 84h1v1h-1z"/>
<path fill="#b04476" fill-opacity="0.32" d="M348 85h1v1h-1zM353 85h1v1h-1zM356 85h1v1h-1zM358 85h1v1h-1zM361 85h1v1h-1zM362 85h1v1h-1zM363 85h1v1h-1zM370 85h1v1h-1zM372 85h1v1h-1zM375 85h1v1h-1zM376 85h1v1h-1zM378 85h1v1h-1zM380 85h1v1h-1zM387 85h1v1h-1zM392 85h1v1h-1zM394 85h1v1h-1zM398 85h1v1h-1zM347 86h1v1h-1zM350 86h1v1h-1zM353 86h1v1h-1zM360 86h1v1h-1zM361 86h1v1h-1zM367 86h1v1h-1zM369 86h1v1h-1zM371 86h1v1h-1zM376 86h1v1h-1zM377 86h1v1h-1zM378 86h1v1h-1zM379 86h1v1h-1zM381 86h1v1h-1zM384 86h1v1h-1zM385 86h1v1h-1zM386 86h1v1h-1zM387 86h1v1h-1zM390 86h1v1h-1zM392 86h1v1h-1zM396 86h1v1h-1zM360 87h1v1h-1zM366 87h1v1h-1zM381 87h1v1h-1zM382 87h1v1h-1zM389 87h1v1h-1zM394 87h1v1h-1zM346 88h1v1h-1zM347 88h1v1h-1zM352 88h1v1h-1zM353 88h1v1h-1zM354 88h1v1h-1zM355 88h1v1h-1zM360 88h1v1h-1zM363 88h1v1h-1zM364 88h1v1h-1zM365 88h1v1h-1zM369 88h1v1h-1zM392 88h1v1h-1zM394 88h1v1h-1zM395 88h1v1h-1zM347 89h1v1h-1zM350 89h1v1h-1zM363 89h1v1h-1zM364 89h1v1h-1zM369 89h1v1h-1zM370 89h1v1h-1zM373 89h1v1h-1zM376 89h1v1h-1zM385 89h1v1h-1zM389 89h1v1h-1zM395 89h1v1h-1zM352 90h1v1h-1zM360 90h1v1h-1zM364 90h1v1h-1zM371 90h1v1h-1zM374 90h1v1h-1zM384 90h1v1h-1zM393 90h1v1h-1zM350 91h1v1h-1zM351 91h1v1h-1zM355 91h1v1h-1zM356 91h1v1h-1zM373 91h1v1h-1zM378 91h1v1h-1zM382 91h1v1h-1zM383 91h1v1h-1zM387 91h1v1h-1zM398 91h1v1h-1zM348 92h1v1h-1zM365 92h1v1h-1zM394 92h1v1h-1zM397 92h1v1h-1zM355 93h1v1h-1zM362 93h1v1h-1zM365 93h1v1h-1zM366 93h1v1h-1zM371 93h1v1h-1zM378 93h1v1h-1zM379 93h1v1h-1zM388 93h1v1h-1zM392 93h1v1h-1zM393 93h1v1h-1zM396 93h1v1h-1zM353 94h1v1h-1zM354 94h1v1h-1zM368 94h1v1h-1zM370 94h1v1h-1zM371 94h1v1h-1zM373 94h1v1h-1zM378 94h1v1h-1zM380 94h1v1h-1zM398 94h1v1h-1zM355 95h1v1h-1zM366 95h1v1h-1zM371 95h1v1h-1zM372 95h1v1h-1zM375 95h1v1h-1zM383 95h1v1h-1zM346 96h1v1h-1zM353 96h1v1h-1zM361 96h1v1h-1zM368 96h1v1h-1zM369 96h1v1h-1zM370 96h1v1h-1zM371 96h1v1h-1zM376 96h1v1h-1zM393 96h1v1h-1zM346 97h1v1h-1zM347 97h1v1h-1zM349 97h1v1h-1zM351 97h1v1h-1zM360 97h1v1h-1zM368 97h1v1h-1zM379 97h1v1h-1zM381 97h1v1h-1zM383 97h1v1h-1zM390 97h1v1h-1zM391 97h1v1h-1zM346 98h1v1h-1zM362 98h1v1h-1zM366 98h1v1h-1zM368 98h1v1h-1zM374 98h1v1h-1zM379 98h1v1h-1zM380 98h1v1h-1zM384 98h1v1h-1zM393 98h1v1h-1zM397 98h1v1h-1zM353 99h1v1h-1zM355 99h1v1h-1zM356 99h1v1h-1zM357 99h1v1h-1zM361 99h1v1h-1zM366 99h1v1h-1zM369 99h1v1h-1zM370 99h1v1h-1zM373 99h1v1h-1zM379 99h1v1h-1zM380 99h1v1h-1zM382 99h1v1h-1zM390 99h1v1h-1zM397 99h1v1h-1zM347 100h1v1h-1zM350 100h1v1h-1zM352 100h1v1h-1zM359 100h1v1h-1zM360 100h1v1h-1zM362 100h1v1h-1zM363 100h1v1h-1zM365 100h1v1h-1zM366 100h1v1h-1zM370 100h1v1h-1zM375 100h1v1h-1zM382 100h1v1h-1zM384 100h1v1h-1zM388 100h1v1h-1zM389 100h1v1h-1zM398 100h1v1h-1zM346 101h1v1h-1zM347 101h1v1h-1zM349 101h1v1h-1zM351 101h1v1h-1zM352 101h1v1h-1zM353 101h1v1h-1zM358 101h1v1h-1zM360 101h1v1h-1zM363 101h1v1h-1zM364 101h1v1h-1zM365 101h1v1h-1zM366 101h1v1h-1zM367 101h1v1h-1zM371 101h1v1h-1zM373 101h1v1h-1zM378 101h1v1h-1zM379 101h1v1h-1zM383 101h1v1h-1zM384 101h1v1h-1zM387 101h1v1h-1zM388 101h1v1h-1zM390 101h1v1h-1zM392 101h1v1h-1zM393 101h1v1h-1zM398 101h1v1h-1zM350 102h1v1h-1zM353 102h1v1h-1zM355 102h1v1h-1zM356 102h1v1h-1zM363 102h1v1h-1zM371 102h1v1h-1zM372 102h1v1h-1zM375 102h1v1h-1zM380 102h1v1h-1zM381 102h1v1h-1zM382 102h1v1h-1zM386 102h1v1h-1zM387 102h1v1h-1zM388 102h1v1h-1zM389 102h1v1h-1zM393 102h1v1h-1zM395 102h1v1h-1zM396 102h1v1h-1zM397 102h1v1h-1zM356 103h1v1h-1zM377 103h1v1h-1zM380 103h1v1h-1zM386 103h1v1h-1zM391 103h1v1h-1zM346 104h1v1h-1zM349 104h1v1h-1zM351 104h1v1h-1zM353 104h1v1h-1zM364 104h1v1h-1zM365 104h1v1h-1zM368 104h1v1h-1zM369 104h1v1h-1zM371 104h1v1h-1zM374 104h1v1h-1zM378 104h1v1h-1zM380 104h1v1h-1zM381 104h1v1h-1zM391 104h1v1h-1zM393 104h1v1h-1zM394 104h1v1h-1zM396 104h1v1h-1zM398 104h1v1h-1zM346 105h1v1h-1zM354 105h1v1h-1zM356 105h1v1h-1zM360 105h1v1h-1zM363 105h1v1h-1zM365 105h1v1h-1zM369 105h1v1h-1zM374 105h1v1h-1zM375 105h1v1h-1zM385 105h1v1h-1zM386 105h1v1h-1zM392 105h1v1h-1zM395 105h1v1h-1zM397 105h1v1h-1zM347 106h1v1h-1zM348 106h1v1h-1zM366 106h1v1h-1zM367 106h1v1h-1zM372 106h1v1h-1zM379 106h1v1h-1zM384 106h1v1h-1zM387 106h1v1h-1zM389 106h1v1h-1zM390 106h1v1h-1zM394 106h1v1h-1zM346 107h1v1h-1zM350 107h1v1h-1zM355 107h1v1h-1zM357 107h1v1h-1zM359 107h1v1h-1zM362 107h1v1h-1zM365 107h1v1h-1zM368 107h1v1h-1zM370 107h1v1h-1zM374 107h1v1h-1zM375 107h1v1h-1zM376 107h1v1h-1zM379 107h1v1h-1zM380 107h1v1h-1zM381 107h1v1h-1zM387 107h1v1h-1zM389 107h1v1h-1zM395 107h1v1h-1zM396 107h1v1h-1zM348 108h1v1h-1zM349 108h1v1h-1zM353 108h1v1h-1zM359 108h1v1h-1zM366 108h1v1h-1zM368 108h1v1h-1zM371 108h1v1h-1zM374 108h1v1h-1zM387 108h1v1h-1zM391 108h1v1h-1zM348 109h1v1h-1zM352 109h1v1h-1zM353 109h1v1h-1zM363 109h1v1h-1zM366 109h1v1h-1zM367 109h1v1h-1zM374 109h1v1h-1zM376 109h1v1h-1zM385 109h1v1h-1zM390 109h1v1h-1zM346 110h1v1h-1zM355 110h1v1h-1zM356 110h1v1h-1zM359 110h1v1h-1zM360 110h1v1h-1zM361 110h1v1h-1zM369 110h1v1h-1zM371 110h1v1h-1zM372 110h1v1h-1zM376 110h1v1h-1zM378 110h1v1h-1zM379 110h1v1h-1zM380 110h1v1h-1zM381 110h1v1h-1zM387 110h1v1h-1zM389 110h1v1h-1zM391 110h1v1h-1zM395 110h1v1h-1zM397 110h1v1h-1zM352 111h1v1h-1zM368 111h1v1h-1zM377 111h1v1h-1zM388 111h1v1h-1zM392 111h1v1h-1zM397 111h1v1h-1zM354 112h1v1h-1zM355 112h1v1h-1zM361 112h1v1h-1zM362 112h1v1h-1zM365 112h1v1h-1zM386 112h1v1h-1zM388 112h1v1h-1zM362 113h1v1h-1zM363 113h1v1h-1zM364 113h1v1h-1zM373 113h1v1h-1zM374 113h1v1h-1zM376 113h1v1h-1zM390 113h1v1h-1zM396 113h1v1h-1zM398 113h1v1h-1zM347 114h1v1h-1zM361 114h1v1h-1zM363 114h1v1h-1zM369 114h1v1h-1zM371 114h1v1h-1zM375 114h1v1h-1zM376 114h1v1h-1zM377 114h1v1h-1zM383 114h1v1h-1zM386 114h1v1h-1zM389 114h1v1h-1zM391 114h1v1h-1zM398 114h1v1h-1zM346 115h1v1h-1zM355 115h1v1h-1zM356 115h1v1h-1zM367 115h1v1h-1zM388 115h1v1h-1zM346 116h1v1h-1zM357 116h1v1h-1zM359 116h1v1h-1zM365 116h1v1h-1zM372 116h1v1h-1zM377 116h1v1h-1zM380 116h1v1h-1zM382 116h1v1h-1zM388 116h1v1h-1zM351 117h1v1h-1zM355 117h1v1h-1zM358 117h1v1h-1zM359 117h1v1h-1zM362 117h1v1h-1zM363 117h1v1h-1zM365 117h1v1h-1zM367 117h1v1h-1zM368 117h1v1h-1zM378 117h1v1h-1zM384 117h1v1h-1zM390 117h1v1h-1zM393 117h1v1h-1zM394 117h1v1h-1zM395 117h1v1h-1zM352 118h1v1h-1zM362 118h1v1h-1zM372 118h1v1h-1zM377 118h1v1h-1zM397 118h1v1h-1zM348 119h1v1h-1zM349 119h1v1h-1zM353 119h1v1h-1zM355 119h1v1h-1zM359 119h1v1h-1zM360 119h1v1h-1zM370 119h1v1h-1zM374 119h1v1h-1zM376 119h1v1h-1zM381 119h1v1h-1zM385 119h1v1h-1zM390 119h1v1h-1zM391 119h1v1h-1zM392 119h1v1h-1zM393 119h1v1h-1zM394 119h1v1h-1zM395 119h1v1h-1zM398 119h1v1h-1z"/>
<path fill="#b04476" fill-opacity="0.64" d="M346 85h1v1h-1zM351 85h1v1h-1zM354 85h1v1h-1zM355 85h1v1h-1zM359 85h1v1h-1zM365 85h1v1h-1zM366 85h1v1h-1zM374 85h1v1h-1zM377 85h1v1h-1zM382 85h1v1h-1zM384 85h1v1h-1zM385 85h1v1h-1zM388 85h1v1h-1zM390 85h1v1h-1zM346 86h1v1h-1zM354 86h1v1h-1zM355 86h1v1h-1zM356 86h1v1h-1zM357 86h1v1h-1zM362 86h1v1h-1zM364 86h1v1h-1zM375 86h1v1h-1zM383 86h1v1h-1zM388 86h1v1h-1zM397 86h1v1h-1zM347 87h1v1h-1zM351 87h1v1h-1zM353 87h1v1h-1zM355 87h1v1h-1zM362 87h1v1h-1zM377 87h1v1h-1zM390 87h1v1h-1zM391 87h1v1h-1zM348 88h1v1h-1zM368 88h1v1h-1zM371 88h1v1h-1zM374 88h1v1h-1zM376 88h1v1h-1zM378 88h1v1h-1zM380 88h1v1h-1zM383 88h1v1h-1zM384 88h1v1h-1zM386 88h1v1h-1zM388 88h1v1h-1zM391 88h1v1h-1zM393 88h1v1h-1zM349 89h1v1h-1zM355 89h1v1h-1zM357 89h1v1h-1zM358 89h1v1h-1zM362 89h1v1h-1zM365 89h1v1h-1zM382 89h1v1h-1zM384 89h1v1h-1zM392 89h1v1h-1zM394 89h1v1h-1zM346 90h1v1h-1zM359 90h1v1h-1zM370 90h1v1h-1zM376 90h1v1h-1zM377 90h1v1h-1zM382 90h1v1h-1zM385 90h1v1h-1zM386 90h1v1h-1zM387 90h1v1h-1zM388 90h1v1h-1zM390 90h1v1h-1zM395 90h1v1h-1zM347 91h1v1h-1zM349 91h1v1h-1zM352 91h1v1h-1zM353 91h1v1h-1zM357 91h1v1h-1zM363 91h1v1h-1zM367 91h1v1h-1zM372 91h1v1h-1zM389 91h1v1h-1zM346 92h1v1h-1zM352 92h1v1h-1zM354 92h1v1h-1zM358 92h1v1h-1zM362 92h1v1h-1zM381 92h1v1h-1zM393 92h1v1h-1zM398 92h1v1h-1zM351 93h1v1h-1zM354 93h1v1h-1zM356 93h1v1h-1zM357 93h1v1h-1zM359 93h1v1h-1zM363 93h1v1h-1zM367 93h1v1h-1zM374 93h1v1h-1zM376 93h1v1h-1zM384 93h1v1h-1zM389 93h1v1h-1zM391 93h1v1h-1zM394 93h1v1h-1zM346 94h1v1h-1zM347 94h1v1h-1zM350 94h1v1h-1zM366 94h1v1h-1zM375 94h1v1h-1zM376 94h1v1h-1zM390 94h1v1h-1zM393 94h1v1h-1zM397 94h1v1h-1zM356 95h1v1h-1zM361 95h1v1h-1zM367 95h1v1h-1zM370 95h1v1h-1zM394 95h1v1h-1zM396 95h1v1h-1zM348 96h1v1h-1zM360 96h1v1h-1zM380 96h1v1h-1zM386 96h1v1h-1zM364 97h1v1h-1zM367 97h1v1h-1zM372 97h1v1h-1zM376 97h1v1h-1zM377 97h1v1h-1zM380 97h1v1h-1zM385 97h1v1h-1zM393 97h1v1h-1zM394 97h1v1h-1zM396 97h1v1h-1zM352 98h1v1h-1zM357 98h1v1h-1zM359 98h1v1h-1zM360 98h1v1h-1zM365 98h1v1h-1zM372 98h1v1h-1zM373 98h1v1h-1zM377 98h1v1h-1zM381 98h1v1h-1zM390 98h1v1h-1zM394 98h1v1h-1zM396 98h1v1h-1zM347 99h1v1h-1zM348 99h1v1h-1zM349 99h1v1h-1zM351 99h1v1h-1zM354 99h1v1h-1zM358 99h1v1h-1zM363 99h1v1h-1zM365 99h1v1h-1zM368 99h1v1h-1zM375 99h1v1h-1zM376 99h1v1h-1zM384 99h1v1h-1zM386 99h1v1h-1zM387 99h1v1h-1zM388 99h1v1h-1zM389 99h1v1h-1zM391 99h1v1h-1zM392 99h1v1h-1zM393 99h1v1h-1zM395 99h1v1h-1zM357 100h1v1h-1zM358 100h1v1h-1zM361 100h1v1h-1zM367 100h1v1h-1zM368 100h1v1h-1zM369 100h1v1h-1zM371 100h1v1h-1zM374 100h1v1h-1zM376 100h1v1h-1zM377 100h1v1h-1zM378 100h1v1h-1zM380 100h1v1h-1zM392 100h1v1h-1zM397 100h1v1h-1zM356 101h1v1h-1zM357 101h1v1h-1zM372 101h1v1h-1zM375 101h1v1h-1zM377 101h1v1h-1zM386 101h1v1h-1zM391 101h1v1h-1zM395 101h1v1h-1zM396 101h1v1h-1zM397 101h1v1h-1zM351 102h1v1h-1zM357 102h1v1h-1zM359 102h1v1h-1zM360 102h1v1h-1zM362 102h1v1h-1zM365 102h1v1h-1zM369 102h1v1h-1zM370 102h1v1h-1zM373 102h1v1h-1zM376 102h1v1h-1zM379 102h1v1h-1zM390 102h1v1h-1zM392 102h1v1h-1zM398 102h1v1h-1zM371 103h1v1h-1zM395 103h1v1h-1zM350 104h1v1h-1zM356 104h1v1h-1zM359 104h1v1h-1zM362 104h1v1h-1zM366 104h1v1h-1zM370 104h1v1h-1zM382 104h1v1h-1zM383 104h1v1h-1zM384 104h1v1h-1zM392 104h1v1h-1zM395 104h1v1h-1zM349 105h1v1h-1zM351 105h1v1h-1zM353 105h1v1h-1zM357 105h1v1h-1zM358 105h1v1h-1zM364 105h1v1h-1zM367 105h1v1h-1zM370 105h1v1h-1zM376 105h1v1h-1zM380 105h1v1h-1zM387 105h1v1h-1zM398 105h1v1h-1zM350 106h1v1h-1zM354 106h1v1h-1zM371 106h1v1h-1zM375 106h1v1h-1zM377 106h1v1h-1zM378 106h1v1h-1zM382 106h1v1h-1zM383 106h1v1h-1zM391 106h1v1h-1zM396 106h1v1h-1zM347 107h1v1h-1zM351 107h1v1h-1zM352 107h1v1h-1zM354 107h1v1h-1zM356 107h1v1h-1zM358 107h1v1h-1zM363 107h1v1h-1zM367 107h1v1h-1zM369 107h1v1h-1zM377 107h1v1h-1zM378 107h1v1h-1zM384 107h1v1h-1zM388 107h1v1h-1zM390 107h1v1h-1zM392 107h1v1h-1zM393 107h1v1h-1zM346 108h1v1h-1zM347 108h1v1h-1zM350 108h1v1h-1zM354 108h1v1h-1zM358 108h1v1h-1zM360 108h1v1h-1zM361 108h1v1h-1zM362 108h1v1h-1zM363 108h1v1h-1zM364 108h1v1h-1zM372 108h1v1h-1zM373 108h1v1h-1zM378 108h1v1h-1zM380 108h1v1h-1zM385 108h1v1h-1zM388 108h1v1h-1zM389 108h1v1h-1zM390 108h1v1h-1zM393 108h1v1h-1zM346 109h1v1h-1zM351 109h1v1h-1zM355 109h1v1h-1zM356 109h1v1h-1zM360 109h1v1h-1zM362 109h1v1h-1zM365 109h1v1h-1zM368 109h1v1h-1zM375 109h1v1h-1zM377 109h1v1h-1zM382 109h1v1h-1zM387 109h1v1h-1zM392 109h1v1h-1zM395 109h1v1h-1zM353 110h1v1h-1zM354 110h1v1h-1zM363 110h1v1h-1zM365 110h1v1h-1zM366 110h1v1h-1zM367 110h1v1h-1zM368 110h1v1h-1zM370 110h1v1h-1zM374 110h1v1h-1zM375 110h1v1h-1zM382 110h1v1h-1zM388 110h1v1h-1zM392 110h1v1h-1zM394 110h1v1h-1zM398 110h1v1h-1zM346 111h1v1h-1zM371 111h1v1h-1zM374 111h1v1h-1zM350 112h1v1h-1zM367 112h1v1h-1zM370 112h1v1h-1zM371 112h1v1h-1zM375 112h1v1h-1zM377 112h1v1h-1zM391 112h1v1h-1zM346 113h1v1h-1zM350 113h1v1h-1zM354 113h1v1h-1zM356 113h1v1h-1zM357 113h1v1h-1zM378 113h1v1h-1zM394 113h1v1h-1zM350 114h1v1h-1zM351 114h1v1h-1zM352 114h1v1h-1zM356 114h1v1h-1zM357 114h1v1h-1zM364 114h1v1h-1zM372 114h1v1h-1zM373 114h1v1h-1zM380 114h1v1h-1zM384 114h1v1h-1zM393 114h1v1h-1zM397 114h1v1h-1zM354 115h1v1h-1zM361 115h1v1h-1zM366 115h1v1h-1zM374 115h1v1h-1zM390 115h1v1h-1zM348 116h1v1h-1zM352 116h1v1h-1zM356 116h1v1h-1zM358 116h1v1h-1zM361 116h1v1h-1zM367 116h1v1h-1zM368 116h1v1h-1zM369 116h1v1h-1zM370 116h1v1h-1zM374 116h1v1h-1zM385 116h1v1h-1zM386 116h1v1h-1zM387 116h1v1h-1zM392 116h1v1h-1zM393 116h1v1h-1zM349 117h1v1h-1zM350 117h1v1h-1zM356 117h1v1h-1zM357 117h1v1h-1zM360 117h1v1h-1zM364 117h1v1h-1zM370 117h1v1h-1zM373 117h1v1h-1zM374 117h1v1h-1zM376 117h1v1h-1zM377 117h1v1h-1zM383 117h1v1h-1zM396 117h1v1h-1zM346 118h1v1h-1zM348 118h1v1h-1zM373 118h1v1h-1zM387 118h1v1h-1zM390 118h1v1h-1zM350 119h1v1h-1zM361 119h1v1h-1zM364 119h1v1h-1zM367 119h1v1h-1zM375 119h1v1h-1zM388 119h1v1h-1z"/>
<path fill="#b04476" fill-opacity="0.96" d="M349 85h1v1h-1zM350 85h1v1h-1zM352 85h1v1h-1zM357 85h1v1h-1zM360 85h1v1h-1zM364 85h1v1h-1zM367 85h1v1h-1zM368 85h1v1h-1zM369 85h1v1h-1zM371 85h1v1h-1zM373 85h1v1h-1zM379 85h1v1h-1zM383 85h1v1h-1zM386 85h1v1h-1zM391 85h1v1h-1zM393 85h1v1h-1zM395 85h1v1h-1zM396 85h1v1h-1zM348 86h1v1h-1zM349 86h1v1h-1zM351 86h1v1h-1zM352 86h1v1h-1zM358 86h1v1h-1zM359 86h1v1h-1zM363 86h1v1h-1zM365 86h1v1h-1zM368 86h1v1h-1zM370 86h1v1h-1zM372 86h1v1h-1zM373 86h1v1h-1zM380 86h1v1h-1zM382 86h1v1h-1zM389 86h1v1h-1zM391 86h1v1h-1zM393 86h1v1h-1zM394 86h1v1h-1zM395 86h1v1h-1zM398 86h1v1h-1zM354 87h1v1h-1zM361 87h1v1h-1zM365 87h1v1h-1zM368 87h1v1h-1zM372 87h1v1h-1zM380 87h1v1h-1zM383 87h1v1h-1zM385 87h1v1h-1zM386 87h1v1h-1zM350 88h1v1h-1zM351 88h1v1h-1zM357 88h1v1h-1zM358 88h1v1h-1zM359 88h1v1h-1zM362 88h1v1h-1zM367 88h1v1h-1zM370 88h1v1h-1zM372 88h1v1h-1zM373 88h1v1h-1zM375 88h1v1h-1zM377 88h1v1h-1zM379 88h1v1h-1zM389 88h1v1h-1zM390 88h1v1h-1zM396 88h1v1h-1zM397 88h1v1h-1zM351 89h1v1h-1zM354 89h1v1h-1zM356 89h1v1h-1zM361 89h1v1h-1zM366 89h1v1h-1zM368 89h1v1h-1zM371 89h1v1h-1zM374 89h1v1h-1zM381 89h1v1h-1zM383 89h1v1h-1zM387 89h1v1h-1zM388 89h1v1h-1zM390 89h1v1h-1zM391 89h1v1h-1zM397 89h1v1h-1zM351 90h1v1h-1zM354 90h1v1h-1zM355 90h1v1h-1zM366 90h1v1h-1zM380 90h1v1h-1zM396 90h1v1h-1zM397 90h1v1h-1zM348 91h1v1h-1zM370 91h1v1h-1zM371 91h1v1h-1zM386 91h1v1h-1zM388 91h1v1h-1zM390 91h1v1h-1zM395 91h1v1h-1zM397 91h1v1h-1zM349 92h1v1h-1zM368 92h1v1h-1zM346 93h1v1h-1zM347 93h1v1h-1zM350 93h1v1h-1zM352 93h1v1h-1zM358 93h1v1h-1zM360 93h1v1h-1zM369 93h1v1h-1zM382 93h1v1h-1zM385 93h1v1h-1zM390 93h1v1h-1zM395 93h1v1h-1zM398 93h1v1h-1zM351 94h1v1h-1zM352 94h1v1h-1zM356 94h1v1h-1zM358 94h1v1h-1zM372 94h1v1h-1zM382 94h1v1h-1zM385 94h1v1h-1zM386 94h1v1h-1zM395 94h1v1h-1zM351 95h1v1h-1zM352 95h1v1h-1zM353 95h1v1h-1zM354 95h1v1h-1zM357 95h1v1h-1zM362 95h1v1h-1zM376 95h1v1h-1zM377 95h1v1h-1zM389 95h1v1h-1zM392 95h1v1h-1zM393 95h1v1h-1zM347 96h1v1h-1zM374 96h1v1h-1zM377 96h1v1h-1zM384 96h1v1h-1zM388 96h1v1h-1zM397 96h1v1h-1zM348 97h1v1h-1zM350 97h1v1h-1zM355 97h1v1h-1zM356 97h1v1h-1zM357 97h1v1h-1zM358 97h1v1h-1zM361 97h1v1h-1zM362 97h1v1h-1zM363 97h1v1h-1zM365 97h1v1h-1zM373 97h1v1h-1zM374 97h1v1h-1zM375 97h1v1h-1zM378 97h1v1h-1zM387 97h1v1h-1zM388 97h1v1h-1zM392 97h1v1h-1zM395 97h1v1h-1zM397 97h1v1h-1zM348 98h1v1h-1zM351 98h1v1h-1zM353 98h1v1h-1zM356 98h1v1h-1zM358 98h1v1h-1zM361 98h1v1h-1zM363 98h1v1h-1zM364 98h1v1h-1zM375 98h1v1h-1zM376 98h1v1h-1zM386 98h1v1h-1zM388 98h1v1h-1zM389 98h1v1h-1zM392 98h1v1h-1zM346 99h1v1h-1zM352 99h1v1h-1zM359 99h1v1h-1zM360 99h1v1h-1zM371 99h1v1h-1zM372 99h1v1h-1zM378 99h1v1h-1zM381 99h1v1h-1zM383 99h1v1h-1zM394 99h1v1h-1zM398 99h1v1h-1zM348 100h1v1h-1zM349 100h1v1h-1zM355 100h1v1h-1zM383 100h1v1h-1zM385 100h1v1h-1zM386 100h1v1h-1zM387 100h1v1h-1zM390 100h1v1h-1zM394 100h1v1h-1zM348 101h1v1h-1zM354 101h1v1h-1zM355 101h1v1h-1zM359 101h1v1h-1zM361 101h1v1h-1zM362 101h1v1h-1zM368 101h1v1h-1zM369 101h1v1h-1zM370 101h1v1h-1zM374 101h1v1h-1zM376 101h1v1h-1zM380 101h1v1h-1zM381 101h1v1h-1zM382 101h1v1h-1zM385 101h1v1h-1zM394 101h1v1h-1zM347 102h1v1h-1zM348 102h1v1h-1zM349 102h1v1h-1zM354 102h1v1h-1zM358 102h1v1h-1zM361 102h1v1h-1zM366 102h1v1h-1zM367 102h1v1h-1zM368 102h1v1h-1zM378 102h1v1h-1zM383 102h1v1h-1zM385 102h1v1h-1zM391 102h1v1h-1zM394 102h1v1h-1zM353 103h1v1h-1zM362 103h1v1h-1zM363 103h1v1h-1zM372 103h1v1h-1zM379 103h1v1h-1zM384 103h1v1h-1zM389 103h1v1h-1zM347 104h1v1h-1zM348 104h1v1h-1zM360 104h1v1h-1zM363 104h1v1h-1zM367 104h1v1h-1zM373 104h1v1h-1zM375 104h1v1h-1zM376 104h1v1h-1zM377 104h1v1h-1zM385 104h1v1h-1zM386 104h1v1h-1zM387 104h1v1h-1zM388 104h1v1h-1zM390 104h1v1h-1zM397 104h1v1h-1zM347 105h1v1h-1zM348 105h1v1h-1zM350 105h1v1h-1zM352 105h1v1h-1zM362 105h1v1h-1zM366 105h1v1h-1zM368 105h1v1h-1zM371 105h1v1h-1zM372 105h1v1h-1zM377 105h1v1h-1zM378 105h1v1h-1zM379 105h1v1h-1zM382 105h1v1h-1zM383 105h1v1h-1zM384 105h1v1h-1zM388 105h1v1h-1zM394 105h1v1h-1zM351 106h1v1h-1zM352 106h1v1h-1zM355 106h1v1h-1zM357 106h1v1h-1zM364 106h1v1h-1zM365 106h1v1h-1zM368 106h1v1h-1zM374 106h1v1h-1zM376 106h1v1h-1zM380 106h1v1h-1zM381 106h1v1h-1zM385 106h1v1h-1zM386 106h1v1h-1zM388 106h1v1h-1zM395 106h1v1h-1zM349 107h1v1h-1zM353 107h1v1h-1zM360 107h1v1h-1zM361 107h1v1h-1zM364 107h1v1h-1zM371 107h1v1h-1zM382 107h1v1h-1zM385 107h1v1h-1zM386 107h1v1h-1zM391 107h1v1h-1zM398 107h1v1h-1zM355 108h1v1h-1zM357 108h1v1h-1zM365 108h1v1h-1zM367 108h1v1h-1zM370 108h1v1h-1zM379 108h1v1h-1zM384 108h1v1h-1zM394 108h1v1h-1zM397 108h1v1h-1zM398 108h1v1h-1zM349 109h1v1h-1zM358 109h1v1h-1zM359 109h1v1h-1zM370 109h1v1h-1zM371 109h1v1h-1zM373 109h1v1h-1zM380 109h1v1h-1zM381 109h1v1h-1zM383 109h1v1h-1zM388 109h1v1h-1zM391 109h1v1h-1zM393 109h1v1h-1zM347 110h1v1h-1zM349 110h1v1h-1zM350 110h1v1h-1zM351 110h1v1h-1zM352 110h1v1h-1zM357 110h1v1h-1zM358 110h1v1h-1zM362 110h1v1h-1zM364 110h1v1h-1zM373 110h1v1h-1zM377 110h1v1h-1zM383 110h1v1h-1zM384 110h1v1h-1zM386 110h1v1h-1zM390 110h1v1h-1zM393 110h1v1h-1zM396 110h1v1h-1zM355 111h1v1h-1zM356 111h1v1h-1zM362 111h1v1h-1zM351 112h1v1h-1zM353 112h1v1h-1zM357 112h1v1h-1zM358 112h1v1h-1zM359 112h1v1h-1zM363 112h1v1h-1zM366 112h1v1h-1zM374 112h1v1h-1zM376 112h1v1h-1zM383 112h1v1h-1zM385 112h1v1h-1zM389 112h1v1h-1zM390 112h1v1h-1zM349 113h1v1h-1zM351 113h1v1h-1zM358 113h1v1h-1zM366 113h1v1h-1zM369 113h1v1h-1zM372 113h1v1h-1zM375 113h1v1h-1zM377 113h1v1h-1zM382 113h1v1h-1zM385 113h1v1h-1zM391 113h1v1h-1zM397 113h1v1h-1zM346 114h1v1h-1zM348 114h1v1h-1zM354 114h1v1h-1zM355 114h1v1h-1zM378 114h1v1h-1zM381 114h1v1h-1zM382 114h1v1h-1zM394 114h1v1h-1zM396 114h1v1h-1zM376 115h1v1h-1zM380 115h1v1h-1zM384 115h1v1h-1zM387 115h1v1h-1zM395 115h1v1h-1zM354 116h1v1h-1zM355 116h1v1h-1zM360 116h1v1h-1zM373 116h1v1h-1zM381 116h1v1h-1zM389 116h1v1h-1zM346 117h1v1h-1zM348 117h1v1h-1zM354 117h1v1h-1zM361 117h1v1h-1zM366 117h1v1h-1zM369 117h1v1h-1zM371 117h1v1h-1zM372 117h1v1h-1zM375 117h1v1h-1zM380 117h1v1h-1zM381 117h1v1h-1zM385 117h1v1h-1zM388 117h1v1h-1zM391 117h1v1h-1zM363 118h1v1h-1zM369 118h1v1h-1zM374 118h1v1h-1zM375 118h1v1h-1zM380 118h1v1h-1zM384 118h1v1h-1zM346 119h1v1h-1zM351 119h1v1h-1zM356 119h1v1h-1zM357 119h1v1h-1zM363 119h1v1h-1zM366 119h1v1h-1zM368 119h1v1h-1zM371 119h1v1h-1zM373 119h1v1h-1zM377 119h1v1h-1zM378 119h1v1h-1zM382 119h1v1h-1zM383 119h1v1h-1zM387 119h1v1h-1zM396 119h1v1h-1z"/>
<path fill="#1a1a1a" fill-opacity="0.18" d="M352 120h2v1h-2zM367 120h3v1h-3zM370 120h1v1h-1zM373 120h1v1h-1zM376 120h1v1h-1zM390 120h1v1h-1zM391 120h1v1h-1zM395 120h2v1h-2zM397 120h1v1h-1zM349 121h3v1h-3zM353 121h3v1h-3zM356 121h1v1h-1zM366 121h2v1h-2zM372 121h1v1h-1zM379 121h1v1h-1zM386 121h1v1h-1zM396 121h2v1h-2zM347 122h1v1h-1zM364 122h2v1h-2zM372 122h1v1h-1zM392 122h1v1h-1zM349 123h1v1h-1zM356 123h1v1h-1zM362 123h2v1h-2zM368 123h1v1h-1zM373 123h1v1h-1zM387 123h2v1h-2zM393 123h2v1h-2zM398 123h1v1h-1zM365 124h1v1h-1zM384 124h1v1h-1zM385 124h2v1h-2zM387 124h1v1h-1zM388 124h1v1h-1zM394 124h1v1h-1zM347 125h1v1h-1zM350 125h3v1h-3zM360 125h3v1h-3zM374 125h1v1h-1zM392 125h2v1h-2zM367 126h1v1h-1zM369 126h3v1h-3zM375 126h3v1h-3zM379 126h1v1h-1zM392 126h3v1h-3zM356 127h2v1h-2zM359 127h3v1h-3zM363 127h2v1h-2zM369 127h2v1h-2zM383 127h1v1h-1zM390 127h1v1h-1zM395 127h1v1h-1zM349 128h1v1h-1zM362 128h1v1h-1zM367 128h3v1h-3zM371 128h1v1h-1zM375 128h3v1h-3zM380 128h3v1h-3zM391 128h1v1h-1zM348 129h1v1h-1zM359 129h3v1h-3zM396 129h2v1h-2zM360 130h1v1h-1zM364 130h2v1h-2zM367 130h3v1h-3zM370 130h1v1h-1zM381 130h1v1h-1zM388 130h3v1h-3zM391 130h1v1h-1zM392 130h1v1h-1zM350 131h2v1h-2zM352 131h3v1h-3zM357 131h2v1h-2zM359 131h2v1h-2zM362 131h1v1h-1zM364 131h1v1h-1zM373 131h2v1h-2zM356 132h2v1h-2zM368 132h1v1h-1zM375 132h2v1h-2zM378 132h1v1h-1zM380 132h2v1h-2zM350 133h1v1h-1zM359 133h1v1h-1zM361 133h3v1h-3zM376 133h1v1h-1zM380 133h3v1h-3zM388 133h2v1h-2zM393 133h2v1h-2zM395 133h1v1h-1zM347 134h1v1h-1zM357 134h2v1h-2zM363 134h3v1h-3zM368 134h1v1h-1zM375 134h2v1h-2zM378 134h2v1h-2zM381 134h1v1h-1zM390 134h3v1h-3zM397 134h2v1h-2zM354 135h3v1h-3zM367 135h2v1h-2zM370 135h1v1h-1zM379 135h3v1h-3zM384 135h2v1h-2zM390 135h2v1h-2zM357 136h2v1h-2zM369 136h2v1h-2zM396 136h1v1h-1zM351 137h2v1h-2zM378 137h1v1h-1zM380 137h1v1h-1zM351 138h2v1h-2zM377 138h2v1h-2zM394 138h2v1h-2zM357 139h1v1h-1zM364 139h1v1h-1zM365 139h1v1h-1zM369 139h2v1h-2zM378 139h2v1h-2zM383 139h1v1h-1zM388 139h3v1h-3zM393 139h1v1h-1zM394 139h3v1h-3zM349 140h1v1h-1zM371 140h2v1h-2zM378 140h2v1h-2zM380 140h2v1h-2zM397 140h2v1h-2zM347 141h2v1h-2zM356 141h2v1h-2zM371 141h1v1h-1zM394 141h2v1h-2zM357 142h1v1h-1zM371 142h1v1h-1zM381 142h1v1h-1zM389 142h3v1h-3zM392 142h3v1h-3zM352 143h1v1h-1zM377 143h2v1h-2zM347 144h3v1h-3zM350 144h3v1h-3zM372 144h1v1h-1zM373 144h1v1h-1zM377 144h1v1h-1zM381 144h1v1h-1zM385 144h1v1h-1zM389 144h3v1h-3zM393 144h2v1h-2zM347 145h2v1h-2zM355 145h1v1h-1zM356 145h1v1h-1zM362 145h2v1h-2zM385 145h1v1h-1zM389 145h1v1h-1zM392 145h2v1h-2zM394 145h1v1h-1zM349 146h1v1h-1zM354 146h1v1h-1zM357 146h3v1h-3zM366 146h1v1h-1zM374 146h1v1h-1zM395 146h1v1h-1zM397 146h1v1h-1zM351 147h2v1h-2zM353 147h2v1h-2zM386 147h1v1h-1zM389 147h1v1h-1zM350 148h2v1h-2zM353 148h3v1h-3zM357 148h1v1h-1zM393 148h1v1h-1zM398 148h1v1h-1zM350 149h1v1h-1zM356 149h1v1h-1zM362 149h2v1h-2zM366 149h2v1h-2zM375 149h2v1h-2zM377 149h1v1h-1zM383 149h1v1h-1zM384 149h1v1h-1zM385 149h1v1h-1zM392 149h1v1h-1zM393 149h1v1h-1zM394 149h3v1h-3zM359 150h3v1h-3zM363 150h1v1h-1zM365 150h1v1h-1zM367 150h1v1h-1zM369 150h2v1h-2zM372 150h2v1h-2zM377 150h1v1h-1zM378 150h1v1h-1zM379 150h3v1h-3zM384 150h2v1h-2zM353 151h1v1h-1zM371 151h2v1h-2zM378 151h1v1h-1zM381 151h2v1h-2zM392 151h3v1h-3zM398 151h1v1h-1zM346 152h1v1h-1zM355 152h3v1h-3zM372 152h1v1h-1zM375 152h1v1h-1zM376 152h1v1h-1zM394 152h2v1h-2zM348 153h3v1h-3zM354 153h1v1h-1zM375 153h2v1h-2zM378 153h1v1h-1zM382 153h1v1h-1zM392 153h1v1h-1zM397 153h2v1h-2zM374 154h1v1h-1zM375 154h1v1h-1zM384 154h1v1h-1zM354 155h1v1h-1zM365 155h1v1h-1zM390 155h1v1h-1z"/>
<path fill="#1a1a1a" fill-opacity="0.36" d="M360 120h1v1h-1zM386 120h1v1h-1zM388 120h2v1h-2zM348 121h1v1h-1zM365 121h1v1h-1zM375 121h1v1h-1zM376 121h2v1h-2zM378 121h1v1h-1zM380 121h1v1h-1zM392 121h3v1h-3zM395 121h1v1h-1zM349 122h1v1h-1zM354 122h1v1h-1zM358 122h2v1h-2zM362 122h1v1h-1zM366 122h3v1h-3zM371 122h1v1h-1zM393 122h1v1h-1zM394 122h1v1h-1zM347 123h1v1h-1zM358 123h3v1h-3zM374 123h2v1h-2zM379 123h1v1h-1zM383 123h1v1h-1zM389 123h3v1h-3zM396 123h2v1h-2zM346 124h3v1h-3zM357 124h2v1h-2zM366 124h3v1h-3zM370 124h1v1h-1zM373 124h3v1h-3zM382 124h2v1h-2zM390 124h1v1h-1zM397 124h2v1h-2zM346 125h1v1h-1zM359 125h1v1h-1zM365 125h1v1h-1zM373 125h1v1h-1zM384 125h2v1h-2zM386 125h1v1h-1zM389 125h2v1h-2zM397 125h1v1h-1zM398 125h1v1h-1zM361 126h1v1h-1zM372 126h1v1h-1zM380 126h2v1h-2zM386 126h1v1h-1zM387 126h1v1h-1zM395 126h3v1h-3zM353 127h3v1h-3zM358 127h1v1h-1zM381 127h2v1h-2zM392 127h1v1h-1zM396 127h3v1h-3zM352 128h1v1h-1zM359 128h1v1h-1zM361 128h1v1h-1zM364 128h3v1h-3zM374 128h1v1h-1zM387 128h1v1h-1zM389 128h1v1h-1zM349 130h2v1h-2zM352 130h3v1h-3zM361 130h1v1h-1zM363 130h1v1h-1zM366 130h1v1h-1zM378 130h2v1h-2zM386 130h2v1h-2zM347 131h2v1h-2zM365 131h1v1h-1zM380 131h1v1h-1zM390 131h2v1h-2zM393 131h2v1h-2zM397 131h1v1h-1zM350 132h3v1h-3zM385 132h2v1h-2zM391 132h1v1h-1zM360 133h1v1h-1zM365 133h1v1h-1zM373 133h1v1h-1zM386 133h2v1h-2zM390 133h1v1h-1zM391 133h2v1h-2zM397 133h2v1h-2zM349 134h1v1h-1zM350 134h3v1h-3zM374 134h1v1h-1zM377 134h1v1h-1zM351 135h1v1h-1zM374 135h1v1h-1zM378 135h1v1h-1zM386 135h1v1h-1zM392 135h1v1h-1zM352 136h1v1h-1zM355 136h1v1h-1zM359 136h2v1h-2zM371 136h1v1h-1zM374 136h1v1h-1zM390 136h1v1h-1zM391 136h3v1h-3zM356 137h2v1h-2zM362 137h2v1h-2zM377 137h1v1h-1zM384 137h3v1h-3zM387 137h1v1h-1zM394 137h2v1h-2zM360 138h2v1h-2zM365 138h1v1h-1zM376 138h1v1h-1zM380 138h1v1h-1zM397 138h1v1h-1zM398 138h1v1h-1zM351 139h3v1h-3zM354 139h1v1h-1zM360 139h3v1h-3zM384 139h2v1h-2zM391 139h2v1h-2zM346 140h2v1h-2zM353 140h2v1h-2zM369 140h2v1h-2zM385 140h1v1h-1zM392 140h2v1h-2zM350 141h3v1h-3zM362 141h2v1h-2zM365 141h1v1h-1zM366 141h2v1h-2zM369 141h1v1h-1zM372 141h1v1h-1zM383 141h1v1h-1zM391 141h3v1h-3zM396 141h2v1h-2zM363 142h3v1h-3zM367 142h1v1h-1zM372 142h1v1h-1zM380 142h1v1h-1zM385 142h2v1h-2zM395 142h1v1h-1zM359 143h1v1h-1zM363 143h1v1h-1zM382 143h1v1h-1zM384 143h3v1h-3zM391 143h3v1h-3zM358 144h1v1h-1zM368 144h3v1h-3zM384 144h1v1h-1zM387 144h2v1h-2zM354 145h1v1h-1zM364 145h2v1h-2zM366 145h2v1h-2zM378 145h1v1h-1zM381 145h2v1h-2zM383 145h2v1h-2zM397 145h2v1h-2zM352 146h1v1h-1zM360 146h2v1h-2zM369 146h1v1h-1zM373 146h1v1h-1zM375 146h1v1h-1zM377 146h3v1h-3zM359 147h1v1h-1zM364 147h2v1h-2zM369 147h1v1h-1zM387 147h2v1h-2zM391 147h1v1h-1zM346 148h3v1h-3zM361 148h2v1h-2zM364 148h1v1h-1zM366 148h2v1h-2zM369 148h2v1h-2zM375 148h1v1h-1zM381 148h2v1h-2zM387 148h2v1h-2zM394 148h3v1h-3zM397 148h1v1h-1zM357 149h2v1h-2zM359 149h1v1h-1zM360 149h1v1h-1zM388 149h2v1h-2zM356 150h2v1h-2zM364 150h1v1h-1zM386 150h1v1h-1zM392 150h1v1h-1zM360 151h2v1h-2zM389 151h2v1h-2zM354 152h1v1h-1zM359 152h1v1h-1zM360 152h2v1h-2zM363 152h2v1h-2zM366 152h2v1h-2zM369 152h1v1h-1zM370 152h1v1h-1zM384 152h1v1h-1zM385 152h3v1h-3zM390 152h1v1h-1zM391 152h2v1h-2zM352 153h2v1h-2zM369 153h3v1h-3zM379 153h2v1h-2zM393 153h3v1h-3zM350 154h2v1h-2zM353 154h1v1h-1zM360 154h1v1h-1zM365 154h1v1h-1zM378 154h2v1h-2zM380 154h3v1h-3zM352 155h1v1h-1zM379 155h2v1h-2zM381 155h3v1h-3zM385 155h1v1h-1z"/>
<path fill="#1a1a1a" fill-opacity="0.54" d="M349 120h2v1h-2zM354 120h3v1h-3zM362 120h1v1h-1zM379 120h3v1h-3zM385 120h1v1h-1zM392 120h2v1h-2zM346 121h1v1h-1zM352 121h1v1h-1zM357 121h2v1h-2zM361 121h2v1h-2zM371 121h1v1h-1zM381 121h3v1h-3zM384 121h1v1h-1zM387 121h1v1h-1zM388 121h1v1h-1zM390 121h2v1h-2zM398 121h1v1h-1zM355 122h2v1h-2zM369 122h2v1h-2zM391 122h1v1h-1zM352 123h1v1h-1zM354 123h1v1h-1zM381 123h2v1h-2zM384 123h3v1h-3zM350 124h2v1h-2zM353 124h2v1h-2zM359 124h2v1h-2zM361 124h3v1h-3zM395 124h1v1h-1zM357 125h1v1h-1zM358 125h1v1h-1zM366 125h3v1h-3zM376 125h1v1h-1zM377 125h2v1h-2zM379 125h1v1h-1zM380 125h2v1h-2zM391 125h1v1h-1zM394 125h2v1h-2zM353 126h2v1h-2zM358 126h3v1h-3zM365 126h1v1h-1zM374 126h1v1h-1zM382 126h1v1h-1zM383 126h1v1h-1zM390 126h1v1h-1zM346 127h1v1h-1zM348 127h2v1h-2zM371 127h1v1h-1zM379 127h2v1h-2zM385 127h3v1h-3zM388 127h1v1h-1zM389 127h1v1h-1zM394 127h1v1h-1zM346 128h1v1h-1zM354 128h2v1h-2zM372 128h2v1h-2zM383 128h3v1h-3zM388 128h1v1h-1zM392 128h2v1h-2zM396 128h2v1h-2zM350 129h3v1h-3zM354 129h1v1h-1zM364 129h1v1h-1zM374 129h3v1h-3zM389 129h1v1h-1zM358 130h1v1h-1zM359 130h1v1h-1zM362 130h1v1h-1zM374 130h1v1h-1zM376 130h2v1h-2zM384 130h2v1h-2zM394 130h1v1h-1zM397 130h2v1h-2zM367 131h3v1h-3zM372 131h1v1h-1zM376 131h1v1h-1zM377 131h3v1h-3zM387 131h2v1h-2zM347 133h2v1h-2zM356 133h3v1h-3zM375 133h1v1h-1zM378 133h1v1h-1zM360 134h3v1h-3zM370 134h1v1h-1zM371 134h2v1h-2zM383 134h1v1h-1zM385 134h1v1h-1zM388 134h2v1h-2zM393 134h1v1h-1zM348 135h2v1h-2zM350 135h1v1h-1zM352 135h2v1h-2zM364 135h3v1h-3zM372 135h2v1h-2zM376 135h1v1h-1zM383 135h1v1h-1zM387 135h1v1h-1zM395 135h1v1h-1zM397 135h2v1h-2zM349 136h3v1h-3zM365 136h3v1h-3zM376 136h3v1h-3zM380 136h1v1h-1zM382 136h1v1h-1zM397 136h2v1h-2zM347 137h1v1h-1zM366 137h3v1h-3zM369 137h2v1h-2zM371 137h2v1h-2zM373 137h1v1h-1zM382 137h1v1h-1zM390 137h3v1h-3zM397 137h1v1h-1zM349 138h2v1h-2zM357 138h1v1h-1zM367 138h2v1h-2zM369 138h2v1h-2zM359 139h1v1h-1zM368 139h1v1h-1zM373 139h3v1h-3zM376 139h2v1h-2zM382 139h1v1h-1zM386 139h1v1h-1zM387 139h1v1h-1zM362 140h1v1h-1zM389 140h3v1h-3zM354 141h1v1h-1zM360 141h2v1h-2zM364 141h1v1h-1zM373 141h1v1h-1zM381 141h2v1h-2zM384 141h1v1h-1zM386 141h2v1h-2zM349 142h2v1h-2zM358 142h1v1h-1zM368 142h1v1h-1zM369 142h2v1h-2zM346 143h1v1h-1zM360 143h1v1h-1zM361 143h1v1h-1zM365 143h3v1h-3zM371 143h1v1h-1zM388 143h1v1h-1zM394 143h3v1h-3zM397 143h2v1h-2zM354 144h1v1h-1zM364 144h1v1h-1zM375 144h1v1h-1zM376 144h1v1h-1zM382 144h2v1h-2zM346 145h1v1h-1zM353 145h1v1h-1zM359 145h1v1h-1zM369 145h2v1h-2zM373 145h2v1h-2zM375 145h1v1h-1zM376 145h1v1h-1zM346 146h2v1h-2zM355 146h2v1h-2zM362 146h1v1h-1zM364 146h2v1h-2zM367 146h1v1h-1zM381 146h2v1h-2zM384 146h2v1h-2zM389 146h1v1h-1zM390 146h1v1h-1zM393 146h1v1h-1zM361 147h3v1h-3zM371 147h3v1h-3zM377 147h3v1h-3zM382 147h2v1h-2zM384 147h1v1h-1zM394 147h2v1h-2zM397 147h1v1h-1zM371 148h2v1h-2zM373 148h1v1h-1zM376 148h3v1h-3zM379 148h2v1h-2zM383 148h2v1h-2zM391 148h1v1h-1zM352 149h1v1h-1zM378 149h3v1h-3zM381 149h2v1h-2zM386 149h2v1h-2zM352 150h1v1h-1zM353 150h1v1h-1zM366 150h1v1h-1zM348 151h2v1h-2zM351 151h2v1h-2zM355 151h3v1h-3zM358 151h2v1h-2zM363 151h1v1h-1zM364 151h2v1h-2zM367 151h1v1h-1zM379 151h2v1h-2zM397 151h1v1h-1zM350 152h1v1h-1zM352 152h2v1h-2zM358 152h1v1h-1zM377 152h1v1h-1zM346 153h2v1h-2zM357 153h1v1h-1zM362 153h1v1h-1zM364 153h1v1h-1zM368 153h1v1h-1zM373 153h2v1h-2zM386 153h2v1h-2zM349 154h1v1h-1zM369 154h2v1h-2zM377 154h1v1h-1zM383 154h1v1h-1zM346 155h1v1h-1zM347 155h1v1h-1zM351 155h1v1h-1zM358 155h1v1h-1zM361 155h1v1h-1zM376 155h1v1h-1z"/>
<path fill="#4a8f98" fill-opacity="0.2" d="M406 13h1v1h-1zM411 13h1v1h-1zM419 13h1v1h-1zM420 13h1v1h-1zM421 13h1v1h-1zM424 13h1v1h-1zM425 13h1v1h-1zM427 13h1v1h-1zM432 13h1v1h-1zM438 13h1v1h-1zM444 13h1v1h-1zM445 13h1v1h-1zM451 13h1v1h-1zM452 13h1v1h-1zM454 13h1v1h-1zM455 13h1v1h-1zM411 14h1v1h-1zM412 14h1v1h-1zM413 14h1v1h-1zM416 14h1v1h-1zM420 14h1v1h-1zM428 14h1v1h-1zM441 14h1v1h-1zM442 14h1v1h-1zM458 14h1v1h-1zM421 15h1v1h-1zM428 15h1v1h-1zM434 15h1v1h-1zM441 15h1v1h-1zM443 15h1v1h-1zM449 15h1v1h-1zM458 15h1v1h-1zM416 16h1v1h-1zM417 16h1v1h-1zM429 16h1v1h-1zM433 16h1v1h-1zM434 16h1v1h-1zM458 16h1v1h-1zM411 17h1v1h-1zM424 17h1v1h-1zM426 17h1v1h-1zM436 17h1v1h-1zM442 17h1v1h-1zM446 17h1v1h-1zM453 17h1v1h-1zM410 18h1v1h-1zM417 18h1v1h-1zM418 18h1v1h-1zM419 18h1v1h-1zM423 18h1v1h-1zM426 18h1v1h-1zM430 18h1v1h-1zM436 18h1v1h-1zM438 18h1v1h-1zM441 18h1v1h-1zM446 18h1v1h-1zM454 18h1v1h-1zM456 18h1v1h-1zM457 18h1v1h-1zM458 18h1v1h-1zM416 19h1v1h-1zM424 19h1v1h-1zM445 19h1v1h-1zM450 19h1v1h-1zM456 19h1v1h-1zM407 20h1v1h-1zM413 20h1v1h-1zM428 20h1v1h-1zM430 20h1v1h-1zM441 20h1v1h-1zM448 20h1v1h-1zM441 21h1v1h-1zM444 21h1v1h-1zM450 21h1v1h-1zM456 21h1v1h-1zM423 22h1v1h-1zM432 22h1v1h-1zM449 22h1v1h-1zM406 23h1v1h-1zM418 23h1v1h-1zM429 23h1v1h-1zM433 23h1v1h-1zM437 23h1v1h-1zM443 23h1v1h-1zM453 23h1v1h-1zM411 24h1v1h-1zM418 24h1v1h-1zM429 24h1v1h-1zM432 24h1v1h-1zM455 24h1v1h-1zM409 25h1v1h-1zM412 25h1v1h-1zM413 25h1v1h-1zM423 25h1v1h-1zM425 25h1v1h-1zM435 25h1v1h-1zM408 26h1v1h-1zM410 26h1v1h-1zM411 26h1v1h-1zM416 26h1v1h-1zM419 26h1v1h-1zM423 26h1v1h-1zM430 26h1v1h-1zM440 26h1v1h-1zM446 26h1v1h-1zM406 27h1v1h-1zM409 27h1v1h-1zM410 27h1v1h-1zM414 27h1v1h-1zM444 27h1v1h-1zM433 28h1v1h-1zM447 28h1v1h-1zM455 28h1v1h-1zM417 29h1v1h-1zM423 29h1v1h-1zM425 29h1v1h-1zM433 29h1v1h-1zM444 29h1v1h-1zM448 29h1v1h-1zM458 29h1v1h-1zM427 30h1v1h-1zM453 30h1v1h-1zM406 31h1v1h-1zM418 31h1v1h-1zM423 31h1v1h-1zM431 31h1v1h-1zM432 31h1v1h-1zM443 31h1v1h-1zM449 31h1v1h-1zM457 31h1v1h-1zM409 32h1v1h-1zM420 32h1v1h-1zM432 32h1v1h-1zM456 32h1v1h-1zM407 33h1v1h-1zM410 33h1v1h-1zM421 33h1v1h-1zM427 33h1v1h-1zM444 33h1v1h-1zM456 33h1v1h-1zM407 35h1v1h-1zM417 35h1v1h-1zM413 36h1v1h-1zM437 36h1v1h-1zM438 36h1v1h-1zM440 36h1v1h-1zM414 37h1v1h-1zM416 37h1v1h-1zM417 37h1v1h-1zM434 37h1v1h-1zM445 37h1v1h-1zM454 37h1v1h-1zM422 38h1v1h-1zM426 38h1v1h-1zM428 38h1v1h-1zM442 38h1v1h-1zM448 38h1v1h-1zM414 39h1v1h-1zM424 39h1v1h-1zM439 39h1v1h-1zM414 40h1v1h-1zM441 40h1v1h-1zM442 40h1v1h-1zM455 40h1v1h-1zM456 40h1v1h-1zM409 41h1v1h-1zM416 41h1v1h-1zM423 41h1v1h-1zM426 41h1v1h-1zM442 41h1v1h-1zM456 41h1v1h-1zM408 42h1v1h-1zM412 42h1v1h-1zM434 42h1v1h-1zM456 42h1v1h-1zM419 43h1v1h-1zM420 43h1v1h-1zM421 43h1v1h-1zM424 43h1v1h-1zM430 43h1v1h-1zM434 43h1v1h-1zM436 43h1v1h-1zM447 43h1v1h-1zM453 43h1v1h-1zM407 44h1v1h-1zM416 44h1v1h-1zM428 44h1v1h-1zM433 44h1v1h-1zM452 44h1v1h-1zM458 44h1v1h-1zM419 45h1v1h-1zM428 45h1v1h-1zM434 45h1v1h-1zM435 45h1v1h-1zM438 45h1v1h-1zM445 45h1v1h-1zM447 45h1v1h-1zM453 45h1v1h-1zM425 46h1v1h-1zM441 46h1v1h-1zM444 46h1v1h-1zM412 47h1v1h-1zM436 47h1v1h-1zM447 47h1v1h-1zM449 47h1v1h-1zM407 48h1v1h-1zM430 48h1v1h-1zM434 48h1v1h-1zM454 48h1v1h-1z"/>
<path fill="#4a8f98" fill-opacity="0.4" d="M410 13h1v1h-1zM416 13h1v1h-1zM422 13h1v1h-1zM428 13h1v1h-1zM433 13h1v1h-1zM439 13h1v1h-1zM442 13h1v1h-1zM446 13h1v1h-1zM447 13h1v1h-1zM449 13h1v1h-1zM453 13h1v1h-1zM458 13h1v1h-1zM426 14h1v1h-1zM427 14h1v1h-1zM430 14h1v1h-1zM431 14h1v1h-1zM436 14h1v1h-1zM437 14h1v1h-1zM450 14h1v1h-1zM451 14h1v1h-1zM452 14h1v1h-1zM410 15h1v1h-1zM426 15h1v1h-1zM438 15h1v1h-1zM450 15h1v1h-1zM407 16h1v1h-1zM412 16h1v1h-1zM423 16h1v1h-1zM425 16h1v1h-1zM428 16h1v1h-1zM435 16h1v1h-1zM444 16h1v1h-1zM448 16h1v1h-1zM452 16h1v1h-1zM406 17h1v1h-1zM415 17h1v1h-1zM418 17h1v1h-1zM421 17h1v1h-1zM427 17h1v1h-1zM428 17h1v1h-1zM433 17h1v1h-1zM447 17h1v1h-1zM451 17h1v1h-1zM414 18h1v1h-1zM420 18h1v1h-1zM422 18h1v1h-1zM424 18h1v1h-1zM429 18h1v1h-1zM433 18h1v1h-1zM443 18h1v1h-1zM444 18h1v1h-1zM455 18h1v1h-1zM411 19h1v1h-1zM418 19h1v1h-1zM427 19h1v1h-1zM436 19h1v1h-1zM437 19h1v1h-1zM440 19h1v1h-1zM443 19h1v1h-1zM448 19h1v1h-1zM453 19h1v1h-1zM458 19h1v1h-1zM425 20h1v1h-1zM409 21h1v1h-1zM416 21h1v1h-1zM442 21h1v1h-1zM452 21h1v1h-1zM406 22h1v1h-1zM413 22h1v1h-1zM437 22h1v1h-1zM412 23h1v1h-1zM452 23h1v1h-1zM455 23h1v1h-1zM428 24h1v1h-1zM451 24h1v1h-1zM452 24h1v1h-1zM406 25h1v1h-1zM410 25h1v1h-1zM419 25h1v1h-1zM431 25h1v1h-1zM438 25h1v1h-1zM446 25h1v1h-1zM450 25h1v1h-1zM415 26h1v1h-1zM445 26h1v1h-1zM453 26h1v1h-1zM457 26h1v1h-1zM420 27h1v1h-1zM425 27h1v1h-1zM438 27h1v1h-1zM447 27h1v1h-1zM454 27h1v1h-1zM456 27h1v1h-1zM457 27h1v1h-1zM427 28h1v1h-1zM430 28h1v1h-1zM439 28h1v1h-1zM441 28h1v1h-1zM457 28h1v1h-1zM419 29h1v1h-1zM421 29h1v1h-1zM429 29h1v1h-1zM438 29h1v1h-1zM452 29h1v1h-1zM455 29h1v1h-1zM444 30h1v1h-1zM455 30h1v1h-1zM457 30h1v1h-1zM409 31h1v1h-1zM428 31h1v1h-1zM438 31h1v1h-1zM444 32h1v1h-1zM451 32h1v1h-1zM455 32h1v1h-1zM423 33h1v1h-1zM426 33h1v1h-1zM430 33h1v1h-1zM438 33h1v1h-1zM439 33h1v1h-1zM406 35h1v1h-1zM414 35h1v1h-1zM421 35h1v1h-1zM406 36h1v1h-1zM422 36h1v1h-1zM435 36h1v1h-1zM439 36h1v1h-1zM442 36h1v1h-1zM453 36h1v1h-1zM455 36h1v1h-1zM458 36h1v1h-1zM407 37h1v1h-1zM413 37h1v1h-1zM438 37h1v1h-1zM444 37h1v1h-1zM406 38h1v1h-1zM419 38h1v1h-1zM427 38h1v1h-1zM434 38h1v1h-1zM430 40h1v1h-1zM435 40h1v1h-1zM438 40h1v1h-1zM447 40h1v1h-1zM448 40h1v1h-1zM451 40h1v1h-1zM441 41h1v1h-1zM443 41h1v1h-1zM448 41h1v1h-1zM407 42h1v1h-1zM425 42h1v1h-1zM430 42h1v1h-1zM435 42h1v1h-1zM437 42h1v1h-1zM438 42h1v1h-1zM439 42h1v1h-1zM447 42h1v1h-1zM454 42h1v1h-1zM409 43h1v1h-1zM411 43h1v1h-1zM412 43h1v1h-1zM431 43h1v1h-1zM444 43h1v1h-1zM423 44h1v1h-1zM431 44h1v1h-1zM434 44h1v1h-1zM450 44h1v1h-1zM410 45h1v1h-1zM418 45h1v1h-1zM421 45h1v1h-1zM439 45h1v1h-1zM454 45h1v1h-1zM456 45h1v1h-1zM458 45h1v1h-1zM410 46h1v1h-1zM416 46h1v1h-1zM419 46h1v1h-1zM421 46h1v1h-1zM440 46h1v1h-1zM443 46h1v1h-1zM446 46h1v1h-1zM448 46h1v1h-1zM453 46h1v1h-1zM454 46h1v1h-1zM411 47h1v1h-1zM414 47h1v1h-1zM418 47h1v1h-1zM433 47h1v1h-1zM406 48h1v1h-1zM428 48h1v1h-1z"/>
<path fill="#4a8f98" fill-opacity="0.6" d="M407 13h1v1h-1zM409 13h1v1h-1zM413 13h1v1h-1zM417 13h1v1h-1zM430 13h1v1h-1zM434 13h1v1h-1zM443 13h1v1h-1zM448 13h1v1h-1zM456 13h1v1h-1zM457 13h1v1h-1zM415 14h1v1h-1zM423 14h1v1h-1zM439 14h1v1h-1zM443 14h1v1h-1zM457 14h1v1h-1zM408 15h1v1h-1zM425 15h1v1h-1zM454 15h1v1h-1zM414 16h1v1h-1zM419 16h1v1h-1zM422 16h1v1h-1zM426 16h1v1h-1zM430 16h1v1h-1zM431 16h1v1h-1zM432 16h1v1h-1zM437 16h1v1h-1zM439 16h1v1h-1zM442 16h1v1h-1zM446 16h1v1h-1zM447 16h1v1h-1zM453 16h1v1h-1zM454 16h1v1h-1zM455 16h1v1h-1zM407 17h1v1h-1zM408 17h1v1h-1zM416 17h1v1h-1zM429 17h1v1h-1zM430 17h1v1h-1zM445 17h1v1h-1zM454 17h1v1h-1zM456 17h1v1h-1zM408 18h1v1h-1zM411 18h1v1h-1zM415 18h1v1h-1zM425 18h1v1h-1zM431 18h1v1h-1zM435 18h1v1h-1zM449 18h1v1h-1zM407 19h1v1h-1zM413 19h1v1h-1zM415 19h1v1h-1zM421 19h1v1h-1zM430 19h1v1h-1zM435 19h1v1h-1zM452 19h1v1h-1zM426 20h1v1h-1zM436 20h1v1h-1zM452 20h1v1h-1zM410 21h1v1h-1zM428 21h1v1h-1zM455 21h1v1h-1zM414 22h1v1h-1zM413 23h1v1h-1zM428 23h1v1h-1zM451 23h1v1h-1zM450 24h1v1h-1zM453 24h1v1h-1zM422 25h1v1h-1zM426 25h1v1h-1zM429 25h1v1h-1zM445 25h1v1h-1zM432 26h1v1h-1zM444 26h1v1h-1zM450 26h1v1h-1zM452 26h1v1h-1zM407 27h1v1h-1zM422 27h1v1h-1zM423 27h1v1h-1zM429 27h1v1h-1zM431 28h1v1h-1zM450 28h1v1h-1zM453 28h1v1h-1zM458 28h1v1h-1zM407 29h1v1h-1zM418 29h1v1h-1zM422 29h1v1h-1zM443 29h1v1h-1zM408 30h1v1h-1zM410 30h1v1h-1zM411 30h1v1h-1zM435 30h1v1h-1zM443 30h1v1h-1zM410 31h1v1h-1zM411 31h1v1h-1zM413 31h1v1h-1zM429 31h1v1h-1zM439 31h1v1h-1zM418 32h1v1h-1zM457 32h1v1h-1zM432 33h1v1h-1zM441 33h1v1h-1zM450 33h1v1h-1zM443 34h1v1h-1zM447 34h1v1h-1zM456 34h1v1h-1zM411 35h1v1h-1zM423 35h1v1h-1zM447 35h1v1h-1zM452 35h1v1h-1zM456 35h1v1h-1zM457 35h1v1h-1zM423 36h1v1h-1zM425 36h1v1h-1zM427 36h1v1h-1zM431 36h1v1h-1zM432 36h1v1h-1zM456 36h1v1h-1zM426 37h1v1h-1zM451 37h1v1h-1zM453 37h1v1h-1zM412 38h1v1h-1zM430 38h1v1h-1zM435 38h1v1h-1zM443 38h1v1h-1zM446 38h1v1h-1zM447 38h1v1h-1zM449 38h1v1h-1zM450 38h1v1h-1zM454 38h1v1h-1zM456 38h1v1h-1zM457 38h1v1h-1zM458 38h1v1h-1zM417 39h1v1h-1zM427 39h1v1h-1zM433 39h1v1h-1zM436 39h1v1h-1zM440 39h1v1h-1zM444 39h1v1h-1zM452 39h1v1h-1zM456 39h1v1h-1zM417 40h1v1h-1zM429 40h1v1h-1zM433 40h1v1h-1zM458 40h1v1h-1zM411 41h1v1h-1zM415 41h1v1h-1zM421 41h1v1h-1zM424 41h1v1h-1zM431 41h1v1h-1zM417 42h1v1h-1zM418 42h1v1h-1zM419 42h1v1h-1zM421 42h1v1h-1zM422 42h1v1h-1zM424 42h1v1h-1zM426 42h1v1h-1zM441 42h1v1h-1zM445 42h1v1h-1zM446 42h1v1h-1zM407 43h1v1h-1zM414 43h1v1h-1zM418 43h1v1h-1zM429 43h1v1h-1zM448 43h1v1h-1zM450 43h1v1h-1zM454 43h1v1h-1zM426 44h1v1h-1zM435 44h1v1h-1zM439 44h1v1h-1zM445 44h1v1h-1zM453 44h1v1h-1zM406 45h1v1h-1zM407 45h1v1h-1zM422 45h1v1h-1zM440 45h1v1h-1zM455 45h1v1h-1zM422 46h1v1h-1zM433 46h1v1h-1zM438 46h1v1h-1zM456 46h1v1h-1zM429 47h1v1h-1zM438 47h1v1h-1zM423 48h1v1h-1zM433 48h1v1h-1zM450 48h1v1h-1z"/>
<path fill="#c4843c" fill-opacity="0.28" d="M408 49h1v1h-1zM426 49h1v1h-1zM427 49h1v1h-1zM438 49h1v1h-1zM442 49h1v1h-1zM446 49h1v1h-1zM452 49h1v1h-1zM456 49h1v1h-1zM409 50h1v1h-1zM430 50h1v1h-1zM431 50h1v1h-1zM432 50h1v1h-1zM434 50h1v1h-1zM440 50h1v1h-1zM442 50h1v1h-1zM443 50h1v1h-1zM444 50h1v1h-1zM446 50h1v1h-1zM449 50h1v1h-1zM454 50h1v1h-1zM457 50h1v1h-1zM458 50h1v1h-1zM406 51h1v1h-1zM408 51h1v1h-1zM415 51h1v1h-1zM417 51h1v1h-1zM420 51h1v1h-1zM422 51h1v1h-1zM429 51h1v1h-1zM433 51h1v1h-1zM434 51h1v1h-1zM438 51h1v1h-1zM439 51h1v1h-1zM442 51h1v1h-1zM443 51h1v1h-1zM446 51h1v1h-1zM447 51h1v1h-1zM454 51h1v1h-1zM457 51h1v1h-1zM411 52h1v1h-1zM415 52h1v1h-1zM420 52h1v1h-1zM421 52h1v1h-1zM428 52h1v1h-1zM432 52h1v1h-1zM440 52h1v1h-1zM443 52h1v1h-1zM448 52h1v1h-1zM449 52h1v1h-1zM458 52h1v1h-1zM411 53h1v1h-1zM417 53h1v1h-1zM418 53h1v1h-1zM424 53h1v1h-1zM428 53h1v1h-1zM430 53h1v1h-1zM432 53h1v1h-1zM435 53h1v1h-1zM436 53h1v1h-1zM439 53h1v1h-1zM441 53h1v1h-1zM442 53h1v1h-1zM443 53h1v1h-1zM445 53h1v1h-1zM452 53h1v1h-1zM453 53h1v1h-1zM454 53h1v1h-1zM406 54h1v1h-1zM408 54h1v1h-1zM413 54h1v1h-1zM416 54h1v1h-1zM418 54h1v1h-1zM419 54h1v1h-1zM422 54h1v1h-1zM426 54h1v1h-1zM427 54h1v1h-1zM428 54h1v1h-1zM435 54h1v1h-1zM443 54h1v1h-1zM447 54h1v1h-1zM449 54h1v1h-1zM406 55h1v1h-1zM413 55h1v1h-1zM422 55h1v1h-1zM426 55h1v1h-1zM431 55h1v1h-1zM432 55h1v1h-1zM433 55h1v1h-1zM443 55h1v1h-1zM448 55h1v1h-1zM457 55h1v1h-1zM412 56h1v1h-1zM414 56h1v1h-1zM421 56h1v1h-1zM422 56h1v1h-1zM426 56h1v1h-1zM427 56h1v1h-1zM432 56h1v1h-1zM434 56h1v1h-1zM440 56h1v1h-1zM448 56h1v1h-1zM450 56h1v1h-1zM458 56h1v1h-1zM407 57h1v1h-1zM416 57h1v1h-1zM423 57h1v1h-1zM426 57h1v1h-1zM427 57h1v1h-1zM429 57h1v1h-1zM432 57h1v1h-1zM436 57h1v1h-1zM438 57h1v1h-1zM440 57h1v1h-1zM451 57h1v1h-1zM454 57h1v1h-1zM456 57h1v1h-1zM406 58h1v1h-1zM411 58h1v1h-1zM415 58h1v1h-1zM420 58h1v1h-1zM422 58h1v1h-1zM423 58h1v1h-1zM427 58h1v1h-1zM430 58h1v1h-1zM431 58h1v1h-1zM441 58h1v1h-1zM445 58h1v1h-1zM446 58h1v1h-1zM452 58h1v1h-1zM454 58h1v1h-1zM458 58h1v1h-1zM409 59h1v1h-1zM416 59h1v1h-1zM418 59h1v1h-1zM420 59h1v1h-1zM421 59h1v1h-1zM424 59h1v1h-1zM428 59h1v1h-1zM432 59h1v1h-1zM434 59h1v1h-1zM437 59h1v1h-1zM441 59h1v1h-1zM447 59h1v1h-1zM448 59h1v1h-1zM451 59h1v1h-1zM458 59h1v1h-1zM408 60h1v1h-1zM412 60h1v1h-1zM414 60h1v1h-1zM415 60h1v1h-1zM418 60h1v1h-1zM423 60h1v1h-1zM429 60h1v1h-1zM433 60h1v1h-1zM439 60h1v1h-1zM442 60h1v1h-1zM447 60h1v1h-1zM449 60h1v1h-1zM457 60h1v1h-1zM406 61h1v1h-1zM411 61h1v1h-1zM415 61h1v1h-1zM419 61h1v1h-1zM441 61h1v1h-1zM450 61h1v1h-1zM455 61h1v1h-1zM457 61h1v1h-1zM406 62h1v1h-1zM407 62h1v1h-1zM416 62h1v1h-1zM418 62h1v1h-1zM420 62h1v1h-1zM424 62h1v1h-1zM431 62h1v1h-1zM432 62h1v1h-1zM434 62h1v1h-1zM439 62h1v1h-1zM442 62h1v1h-1zM443 62h1v1h-1zM444 62h1v1h-1zM445 62h1v1h-1zM450 62h1v1h-1zM451 62h1v1h-1zM453 62h1v1h-1zM456 62h1v1h-1zM407 63h1v1h-1zM409 63h1v1h-1zM411 63h1v1h-1zM412 63h1v1h-1zM421 63h1v1h-1zM426 63h1v1h-1zM427 63h1v1h-1zM428 63h1v1h-1zM446 63h1v1h-1zM453 63h1v1h-1zM406 64h1v1h-1zM407 64h1v1h-1zM409 64h1v1h-1zM412 64h1v1h-1zM413 64h1v1h-1zM415 64h1v1h-1zM420 64h1v1h-1zM422 64h1v1h-1zM423 64h1v1h-1zM424 64h1v1h-1zM432 64h1v1h-1zM442 64h1v1h-1zM443 64h1v1h-1zM446 64h1v1h-1zM449 64h1v1h-1zM455 64h1v1h-1zM457 64h1v1h-1zM406 65h1v1h-1zM408 65h1v1h-1zM419 65h1v1h-1zM420 65h1v1h-1zM427 65h1v1h-1zM429 65h1v1h-1zM430 65h1v1h-1zM436 65h1v1h-1zM442 65h1v1h-1zM443 65h1v1h-1zM444 65h1v1h-1zM447 65h1v1h-1zM455 65h1v1h-1zM458 65h1v1h-1zM406 66h1v1h-1zM410 66h1v1h-1zM411 66h1v1h-1zM420 66h1v1h-1zM427 66h1v1h-1zM433 66h1v1h-1zM436 66h1v1h-1zM438 66h1v1h-1zM440 66h1v1h-1zM445 66h1v1h-1zM453 66h1v1h-1zM458 66h1v1h-1zM409 67h1v1h-1zM414 67h1v1h-1zM417 67h1v1h-1zM420 67h1v1h-1zM434 67h1v1h-1zM443 67h1v1h-1zM444 67h1v1h-1zM447 67h1v1h-1zM408 68h1v1h-1zM411 68h1v1h-1zM412 68h1v1h-1zM413 68h1v1h-1zM418 68h1v1h-1zM419 68h1v1h-1zM420 68h1v1h-1zM432 68h1v1h-1zM447 68h1v1h-1zM448 68h1v1h-1zM449 68h1v1h-1zM450 68h1v1h-1zM406 69h1v1h-1zM407 69h1v1h-1zM411 69h1v1h-1zM417 69h1v1h-1zM420 69h1v1h-1zM421 69h1v1h-1zM427 69h1v1h-1zM432 69h1v1h-1zM438 69h1v1h-1zM440 69h1v1h-1zM444 69h1v1h-1zM450 69h1v1h-1zM451 69h1v1h-1zM452 69h1v1h-1zM454 69h1v1h-1zM407 70h1v1h-1zM409 70h1v1h-1zM412 70h1v1h-1zM413 70h1v1h-1zM414 70h1v1h-1zM422 70h1v1h-1zM425 70h1v1h-1zM426 70h1v1h-1zM430 70h1v1h-1zM433 70h1v1h-1zM444 70h1v1h-1zM445 70h1v1h-1zM407 71h1v1h-1zM409 71h1v1h-1zM412 71h1v1h-1zM413 71h1v1h-1zM425 71h1v1h-1zM427 71h1v1h-1zM431 71h1v1h-1zM433 71h1v1h-1zM435 71h1v1h-1zM448 71h1v1h-1zM450 71h1v1h-1zM423 72h1v1h-1zM426 72h1v1h-1zM431 72h1v1h-1zM436 72h1v1h-1zM438 72h1v1h-1zM439 72h1v1h-1zM441 72h1v1h-1zM445 72h1v1h-1zM448 72h1v1h-1zM453 72h1v1h-1zM410 73h1v1h-1zM411 73h1v1h-1zM412 73h1v1h-1zM417 73h1v1h-1zM421 73h1v1h-1zM425 73h1v1h-1zM427 73h1v1h-1zM436 73h1v1h-1zM437 73h1v1h-1zM441 73h1v1h-1zM444 73h1v1h-1zM445 73h1v1h-1zM449 73h1v1h-1zM452 73h1v1h-1zM456 73h1v1h-1zM407 74h1v1h-1zM409 74h1v1h-1zM419 74h1v1h-1zM421 74h1v1h-1zM423 74h1v1h-1zM424 74h1v1h-1zM425 74h1v1h-1zM443 74h1v1h-1zM444 74h1v1h-1zM454 74h1v1h-1zM455 74h1v1h-1zM410 75h1v1h-1zM413 75h1v1h-1zM414 75h1v1h-1zM415 75h1v1h-1zM426 75h1v1h-1zM428 75h1v1h-1zM429 75h1v1h-1zM430 75h1v1h-1zM435 75h1v1h-1zM440 75h1v1h-1zM445 75h1v1h-1zM448 75h1v1h-1zM450 75h1v1h-1zM456 75h1v1h-1zM457 75h1v1h-1zM410 76h1v1h-1zM414 76h1v1h-1zM415 76h1v1h-1zM420 76h1v1h-1zM421 76h1v1h-1zM422 76h1v1h-1zM424 76h1v1h-1zM426 76h1v1h-1zM436 76h1v1h-1zM437 76h1v1h-1zM441 76h1v1h-1zM444 76h1v1h-1zM450 76h1v1h-1zM453 76h1v1h-1zM458 76h1v1h-1zM414 77h1v1h-1zM419 77h1v1h-1zM424 77h1v1h-1zM425 77h1v1h-1zM426 77h1v1h-1zM427 77h1v1h-1zM430 77h1v1h-1zM433 77h1v1h-1zM443 77h1v1h-1zM444 77h1v1h-1zM445 77h1v1h-1zM453 77h1v1h-1zM414 78h1v1h-1zM416 78h1v1h-1zM419 78h1v1h-1zM420 78h1v1h-1zM421 78h1v1h-1zM422 78h1v1h-1zM435 78h1v1h-1zM438 78h1v1h-1zM439 78h1v1h-1zM441 78h1v1h-1zM451 78h1v1h-1zM452 78h1v1h-1zM453 78h1v1h-1zM456 78h1v1h-1zM406 79h1v1h-1zM411 79h1v1h-1zM413 79h1v1h-1zM414 79h1v1h-1zM417 79h1v1h-1zM419 79h1v1h-1zM420 79h1v1h-1zM422 79h1v1h-1zM425 79h1v1h-1zM426 79h1v1h-1zM427 79h1v1h-1zM439 79h1v1h-1zM441 79h1v1h-1zM443 79h1v1h-1zM450 79h1v1h-1zM455 79h1v1h-1zM409 80h1v1h-1zM412 80h1v1h-1zM414 80h1v1h-1zM422 80h1v1h-1zM435 80h1v1h-1zM438 80h1v1h-1zM439 80h1v1h-1zM441 80h1v1h-1zM442 80h1v1h-1zM444 80h1v1h-1zM450 80h1v1h-1zM451 80h1v1h-1zM455 80h1v1h-1zM458 80h1v1h-1zM409 81h1v1h-1zM413 81h1v1h-1zM415 81h1v1h-1zM419 81h1v1h-1zM420 81h1v1h-1zM423 81h1v1h-1zM427 81h1v1h-1zM436 81h1v1h-1zM442 81h1v1h-1zM452 81h1v1h-1zM453 81h1v1h-1zM455 81h1v1h-1zM458 81h1v1h-1zM414 82h1v1h-1zM417 82h1v1h-1zM418 82h1v1h-1zM422 82h1v1h-1zM427 82h1v1h-1zM435 82h1v1h-1zM437 82h1v1h-1zM441 82h1v1h-1zM442 82h1v1h-1zM447 82h1v1h-1zM450 82h1v1h-1zM456 82h1v1h-1zM407 83h1v1h-1zM408 83h1v1h-1zM410 83h1v1h-1zM413 83h1v1h-1zM417 83h1v1h-1zM418 83h1v1h-1zM421 83h1v1h-1zM426 83h1v1h-1zM429 83h1v1h-1zM430 83h1v1h-1zM432 83h1v1h-1zM434 83h1v1h-1zM443 83h1v1h-1zM451 83h1v1h-1zM456 83h1v1h-1zM457 83h1v1h-1zM406 84h1v1h-1zM410 84h1v1h-1zM411 84h1v1h-1zM419 84h1v1h-1zM424 84h1v1h-1zM426 84h1v1h-1zM430 84h1v1h-1zM433 84h1v1h-1zM439 84h1v1h-1zM440 84h1v1h-1zM446 84h1v1h-1zM447 84h1v1h-1zM456 84h1v1h-1z"/>
<path fill="#c4843c" fill-opacity="0.56" d="M407 49h1v1h-1zM412 49h1v1h-1zM415 49h1v1h-1zM418 49h1v1h-1zM422 49h1v1h-1zM423 49h1v1h-1zM425 49h1v1h-1zM428 49h1v1h-1zM432 49h1v1h-1zM437 49h1v1h-1zM457 49h1v1h-1zM458 49h1v1h-1zM410 50h1v1h-1zM415 50h1v1h-1zM418 50h1v1h-1zM428 50h1v1h-1zM436 50h1v1h-1zM438 50h1v1h-1zM445 50h1v1h-1zM451 50h1v1h-1zM456 50h1v1h-1zM409 51h1v1h-1zM418 51h1v1h-1zM419 51h1v1h-1zM423 51h1v1h-1zM428 51h1v1h-1zM430 51h1v1h-1zM435 51h1v1h-1zM436 51h1v1h-1zM441 51h1v1h-1zM456 51h1v1h-1zM458 51h1v1h-1zM410 52h1v1h-1zM413 52h1v1h-1zM414 52h1v1h-1zM419 52h1v1h-1zM424 52h1v1h-1zM436 52h1v1h-1zM439 52h1v1h-1zM441 52h1v1h-1zM442 52h1v1h-1zM452 52h1v1h-1zM454 52h1v1h-1zM455 52h1v1h-1zM407 53h1v1h-1zM408 53h1v1h-1zM409 53h1v1h-1zM412 53h1v1h-1zM413 53h1v1h-1zM415 53h1v1h-1zM416 53h1v1h-1zM420 53h1v1h-1zM422 53h1v1h-1zM423 53h1v1h-1zM429 53h1v1h-1zM431 53h1v1h-1zM434 53h1v1h-1zM438 53h1v1h-1zM440 53h1v1h-1zM446 53h1v1h-1zM451 53h1v1h-1zM455 53h1v1h-1zM458 53h1v1h-1zM412 54h1v1h-1zM423 54h1v1h-1zM425 54h1v1h-1zM430 54h1v1h-1zM434 54h1v1h-1zM437 54h1v1h-1zM438 54h1v1h-1zM442 54h1v1h-1zM453 54h1v1h-1zM455 54h1v1h-1zM457 54h1v1h-1zM408 55h1v1h-1zM410 55h1v1h-1zM411 55h1v1h-1zM414 55h1v1h-1zM417 55h1v1h-1zM420 55h1v1h-1zM421 55h1v1h-1zM423 55h1v1h-1zM428 55h1v1h-1zM429 55h1v1h-1zM434 55h1v1h-1zM436 55h1v1h-1zM445 55h1v1h-1zM447 55h1v1h-1zM451 55h1v1h-1zM409 56h1v1h-1zM410 56h1v1h-1zM418 56h1v1h-1zM428 56h1v1h-1zM436 56h1v1h-1zM438 56h1v1h-1zM441 56h1v1h-1zM445 56h1v1h-1zM452 56h1v1h-1zM406 57h1v1h-1zM409 57h1v1h-1zM410 57h1v1h-1zM413 57h1v1h-1zM421 57h1v1h-1zM422 57h1v1h-1zM424 57h1v1h-1zM428 57h1v1h-1zM433 57h1v1h-1zM434 57h1v1h-1zM442 57h1v1h-1zM444 57h1v1h-1zM447 57h1v1h-1zM448 57h1v1h-1zM450 57h1v1h-1zM452 57h1v1h-1zM453 57h1v1h-1zM455 57h1v1h-1zM458 57h1v1h-1zM413 58h1v1h-1zM416 58h1v1h-1zM417 58h1v1h-1zM428 58h1v1h-1zM433 58h1v1h-1zM434 58h1v1h-1zM436 58h1v1h-1zM439 58h1v1h-1zM444 58h1v1h-1zM448 58h1v1h-1zM449 58h1v1h-1zM450 58h1v1h-1zM408 59h1v1h-1zM412 59h1v1h-1zM422 59h1v1h-1zM423 59h1v1h-1zM431 59h1v1h-1zM438 59h1v1h-1zM442 59h1v1h-1zM443 59h1v1h-1zM446 59h1v1h-1zM406 60h1v1h-1zM407 60h1v1h-1zM416 60h1v1h-1zM419 60h1v1h-1zM428 60h1v1h-1zM430 60h1v1h-1zM437 60h1v1h-1zM445 60h1v1h-1zM450 60h1v1h-1zM452 60h1v1h-1zM454 60h1v1h-1zM456 60h1v1h-1zM458 60h1v1h-1zM409 61h1v1h-1zM412 61h1v1h-1zM420 61h1v1h-1zM421 61h1v1h-1zM427 61h1v1h-1zM429 61h1v1h-1zM434 61h1v1h-1zM436 61h1v1h-1zM442 61h1v1h-1zM443 61h1v1h-1zM445 61h1v1h-1zM449 61h1v1h-1zM454 61h1v1h-1zM456 61h1v1h-1zM409 62h1v1h-1zM410 62h1v1h-1zM414 62h1v1h-1zM419 62h1v1h-1zM425 62h1v1h-1zM426 62h1v1h-1zM428 62h1v1h-1zM438 62h1v1h-1zM440 62h1v1h-1zM441 62h1v1h-1zM452 62h1v1h-1zM454 62h1v1h-1zM455 62h1v1h-1zM457 62h1v1h-1zM458 62h1v1h-1zM406 63h1v1h-1zM410 63h1v1h-1zM414 63h1v1h-1zM441 63h1v1h-1zM442 63h1v1h-1zM444 63h1v1h-1zM447 63h1v1h-1zM448 63h1v1h-1zM449 63h1v1h-1zM451 63h1v1h-1zM416 64h1v1h-1zM417 64h1v1h-1zM427 64h1v1h-1zM437 64h1v1h-1zM447 64h1v1h-1zM448 64h1v1h-1zM450 64h1v1h-1zM454 64h1v1h-1zM456 64h1v1h-1zM458 64h1v1h-1zM409 65h1v1h-1zM410 65h1v1h-1zM416 65h1v1h-1zM421 65h1v1h-1zM425 65h1v1h-1zM428 65h1v1h-1zM445 65h1v1h-1zM449 65h1v1h-1zM451 65h1v1h-1zM456 65h1v1h-1zM407 66h1v1h-1zM409 66h1v1h-1zM414 66h1v1h-1zM415 66h1v1h-1zM416 66h1v1h-1zM417 66h1v1h-1zM418 66h1v1h-1zM419 66h1v1h-1zM422 66h1v1h-1zM428 66h1v1h-1zM430 66h1v1h-1zM432 66h1v1h-1zM434 66h1v1h-1zM435 66h1v1h-1zM444 66h1v1h-1zM450 66h1v1h-1zM452 66h1v1h-1zM454 66h1v1h-1zM457 66h1v1h-1zM407 67h1v1h-1zM412 67h1v1h-1zM415 67h1v1h-1zM418 67h1v1h-1zM423 67h1v1h-1zM426 67h1v1h-1zM428 67h1v1h-1zM431 67h1v1h-1zM437 67h1v1h-1zM440 67h1v1h-1zM441 67h1v1h-1zM442 67h1v1h-1zM445 67h1v1h-1zM448 67h1v1h-1zM449 67h1v1h-1zM457 67h1v1h-1zM409 68h1v1h-1zM424 68h1v1h-1zM425 68h1v1h-1zM427 68h1v1h-1zM435 68h1v1h-1zM436 68h1v1h-1zM437 68h1v1h-1zM438 68h1v1h-1zM439 68h1v1h-1zM444 68h1v1h-1zM445 68h1v1h-1zM454 68h1v1h-1zM408 69h1v1h-1zM410 69h1v1h-1zM412 69h1v1h-1zM418 69h1v1h-1zM422 69h1v1h-1zM424 69h1v1h-1zM425 69h1v1h-1zM439 69h1v1h-1zM448 69h1v1h-1zM455 69h1v1h-1zM410 70h1v1h-1zM417 70h1v1h-1zM421 70h1v1h-1zM429 70h1v1h-1zM432 70h1v1h-1zM435 70h1v1h-1zM438 70h1v1h-1zM439 70h1v1h-1zM440 70h1v1h-1zM441 70h1v1h-1zM443 70h1v1h-1zM447 70h1v1h-1zM448 70h1v1h-1zM449 70h1v1h-1zM450 70h1v1h-1zM451 70h1v1h-1zM454 70h1v1h-1zM458 70h1v1h-1zM410 71h1v1h-1zM419 71h1v1h-1zM421 71h1v1h-1zM429 71h1v1h-1zM434 71h1v1h-1zM437 71h1v1h-1zM455 71h1v1h-1zM406 72h1v1h-1zM408 72h1v1h-1zM409 72h1v1h-1zM410 72h1v1h-1zM414 72h1v1h-1zM415 72h1v1h-1zM418 72h1v1h-1zM428 72h1v1h-1zM430 72h1v1h-1zM434 72h1v1h-1zM440 72h1v1h-1zM444 72h1v1h-1zM449 72h1v1h-1zM450 72h1v1h-1zM454 72h1v1h-1zM457 72h1v1h-1zM408 73h1v1h-1zM409 73h1v1h-1zM414 73h1v1h-1zM415 73h1v1h-1zM420 73h1v1h-1zM423 73h1v1h-1zM426 73h1v1h-1zM430 73h1v1h-1zM435 73h1v1h-1zM439 73h1v1h-1zM440 73h1v1h-1zM442 73h1v1h-1zM443 73h1v1h-1zM451 73h1v1h-1zM453 73h1v1h-1zM455 73h1v1h-1zM458 73h1v1h-1zM411 74h1v1h-1zM415 74h1v1h-1zM417 74h1v1h-1zM418 74h1v1h-1zM426 74h1v1h-1zM429 74h1v1h-1zM431 74h1v1h-1zM432 74h1v1h-1zM433 74h1v1h-1zM436 74h1v1h-1zM439 74h1v1h-1zM441 74h1v1h-1zM445 74h1v1h-1zM446 74h1v1h-1zM447 74h1v1h-1zM451 74h1v1h-1zM452 74h1v1h-1zM458 74h1v1h-1zM406 75h1v1h-1zM407 75h1v1h-1zM409 75h1v1h-1zM421 75h1v1h-1zM424 75h1v1h-1zM425 75h1v1h-1zM432 75h1v1h-1zM439 75h1v1h-1zM441 75h1v1h-1zM446 75h1v1h-1zM408 76h1v1h-1zM419 76h1v1h-1zM423 76h1v1h-1zM430 76h1v1h-1zM432 76h1v1h-1zM440 76h1v1h-1zM443 76h1v1h-1zM449 76h1v1h-1zM451 76h1v1h-1zM408 77h1v1h-1zM417 77h1v1h-1zM418 77h1v1h-1zM420 77h1v1h-1zM428 77h1v1h-1zM436 77h1v1h-1zM440 77h1v1h-1zM442 77h1v1h-1zM447 77h1v1h-1zM450 77h1v1h-1zM451 77h1v1h-1zM454 77h1v1h-1zM455 77h1v1h-1zM457 77h1v1h-1zM458 77h1v1h-1zM406 78h1v1h-1zM409 78h1v1h-1zM410 78h1v1h-1zM411 78h1v1h-1zM413 78h1v1h-1zM418 78h1v1h-1zM428 78h1v1h-1zM437 78h1v1h-1zM444 78h1v1h-1zM445 78h1v1h-1zM446 78h1v1h-1zM447 78h1v1h-1zM449 78h1v1h-1zM454 78h1v1h-1zM455 78h1v1h-1zM458 78h1v1h-1zM409 79h1v1h-1zM418 79h1v1h-1zM421 79h1v1h-1zM424 79h1v1h-1zM430 79h1v1h-1zM435 79h1v1h-1zM436 79h1v1h-1zM437 79h1v1h-1zM445 79h1v1h-1zM452 79h1v1h-1zM458 79h1v1h-1zM406 80h1v1h-1zM407 80h1v1h-1zM408 80h1v1h-1zM411 80h1v1h-1zM415 80h1v1h-1zM417 80h1v1h-1zM421 80h1v1h-1zM423 80h1v1h-1zM424 80h1v1h-1zM426 80h1v1h-1zM429 80h1v1h-1zM431 80h1v1h-1zM433 80h1v1h-1zM434 80h1v1h-1zM437 80h1v1h-1zM445 80h1v1h-1zM449 80h1v1h-1zM452 80h1v1h-1zM454 80h1v1h-1zM456 80h1v1h-1zM406 81h1v1h-1zM416 81h1v1h-1zM418 81h1v1h-1zM421 81h1v1h-1zM428 81h1v1h-1zM429 81h1v1h-1zM431 81h1v1h-1zM438 81h1v1h-1zM439 81h1v1h-1zM445 81h1v1h-1zM446 81h1v1h-1zM449 81h1v1h-1zM450 81h1v1h-1zM451 81h1v1h-1zM454 81h1v1h-1zM456 81h1v1h-1zM408 82h1v1h-1zM409 82h1v1h-1zM413 82h1v1h-1zM425 82h1v1h-1zM426 82h1v1h-1zM430 82h1v1h-1zM436 82h1v1h-1zM438 82h1v1h-1zM440 82h1v1h-1zM443 82h1v1h-1zM445 82h1v1h-1zM446 82h1v1h-1zM452 82h1v1h-1zM457 82h1v1h-1zM406 83h1v1h-1zM412 83h1v1h-1zM415 83h1v1h-1zM420 83h1v1h-1zM423 83h1v1h-1zM424 83h1v1h-1zM428 83h1v1h-1zM433 83h1v1h-1zM436 83h1v1h-1zM438 83h1v1h-1zM439 83h1v1h-1zM442 83h1v1h-1zM446 83h1v1h-1zM447 83h1v1h-1zM448 83h1v1h-1zM453 83h1v1h-1zM455 83h1v1h-1zM458 83h1v1h-1zM415 84h1v1h-1zM418 84h1v1h-1zM420 84h1v1h-1zM421 84h1v1h-1zM436 84h1v1h-1zM437 84h1v1h-1zM443 84h1v1h-1zM444 84h1v1h-1zM448 84h1v1h-1zM455 84h1v1h-1zM458 84h1v1h-1z"/>
<path fill="#c4843c" fill-opacity="0.84" d="M406 49h1v1h-1zM410 49h1v1h-1zM413 49h1v1h-1zM414 49h1v1h-1zM424 49h1v1h-1zM429 49h1v1h-1zM435 49h1v1h-1zM436 49h1v1h-1zM440 49h1v1h-1zM443 49h1v1h-1zM444 49h1v1h-1zM447 49h1v1h-1zM449 49h1v1h-1zM451 49h1v1h-1zM407 50h1v1h-1zM411 50h1v1h-1zM412 50h1v1h-1zM414 50h1v1h-1zM416 50h1v1h-1zM420 50h1v1h-1zM423 50h1v1h-1zM424 50h1v1h-1zM425 50h1v1h-1zM429 50h1v1h-1zM435 50h1v1h-1zM439 50h1v1h-1zM450 50h1v1h-1zM410 51h1v1h-1zM412 51h1v1h-1zM414 51h1v1h-1zM416 51h1v1h-1zM421 51h1v1h-1zM424 51h1v1h-1zM425 51h1v1h-1zM426 51h1v1h-1zM427 51h1v1h-1zM431 51h1v1h-1zM440 51h1v1h-1zM445 51h1v1h-1zM449 51h1v1h-1zM450 51h1v1h-1zM453 51h1v1h-1zM406 52h1v1h-1zM407 52h1v1h-1zM409 52h1v1h-1zM418 52h1v1h-1zM423 52h1v1h-1zM425 52h1v1h-1zM426 52h1v1h-1zM427 52h1v1h-1zM429 52h1v1h-1zM430 52h1v1h-1zM433 52h1v1h-1zM434 52h1v1h-1zM435 52h1v1h-1zM437 52h1v1h-1zM444 52h1v1h-1zM445 52h1v1h-1zM446 52h1v1h-1zM447 52h1v1h-1zM451 52h1v1h-1zM457 52h1v1h-1zM406 53h1v1h-1zM421 53h1v1h-1zM425 53h1v1h-1zM427 53h1v1h-1zM447 53h1v1h-1zM448 53h1v1h-1zM456 53h1v1h-1zM457 53h1v1h-1zM407 54h1v1h-1zM410 54h1v1h-1zM411 54h1v1h-1zM415 54h1v1h-1zM420 54h1v1h-1zM424 54h1v1h-1zM429 54h1v1h-1zM431 54h1v1h-1zM433 54h1v1h-1zM440 54h1v1h-1zM445 54h1v1h-1zM448 54h1v1h-1zM454 54h1v1h-1zM407 55h1v1h-1zM415 55h1v1h-1zM416 55h1v1h-1zM425 55h1v1h-1zM435 55h1v1h-1zM437 55h1v1h-1zM441 55h1v1h-1zM442 55h1v1h-1zM446 55h1v1h-1zM450 55h1v1h-1zM458 55h1v1h-1zM411 56h1v1h-1zM415 56h1v1h-1zM416 56h1v1h-1zM417 56h1v1h-1zM419 56h1v1h-1zM424 56h1v1h-1zM425 56h1v1h-1zM429 56h1v1h-1zM430 56h1v1h-1zM431 56h1v1h-1zM443 56h1v1h-1zM447 56h1v1h-1zM449 56h1v1h-1zM451 56h1v1h-1zM456 56h1v1h-1zM457 56h1v1h-1zM411 57h1v1h-1zM412 57h1v1h-1zM415 57h1v1h-1zM417 57h1v1h-1zM418 57h1v1h-1zM419 57h1v1h-1zM420 57h1v1h-1zM430 57h1v1h-1zM431 57h1v1h-1zM435 57h1v1h-1zM437 57h1v1h-1zM439 57h1v1h-1zM443 57h1v1h-1zM446 57h1v1h-1zM449 57h1v1h-1zM407 58h1v1h-1zM409 58h1v1h-1zM410 58h1v1h-1zM418 58h1v1h-1zM426 58h1v1h-1zM432 58h1v1h-1zM435 58h1v1h-1zM438 58h1v1h-1zM451 58h1v1h-1zM456 58h1v1h-1zM411 59h1v1h-1zM415 59h1v1h-1zM419 59h1v1h-1zM426 59h1v1h-1zM427 59h1v1h-1zM429 59h1v1h-1zM433 59h1v1h-1zM435 59h1v1h-1zM439 59h1v1h-1zM452 59h1v1h-1zM454 59h1v1h-1zM456 59h1v1h-1zM457 59h1v1h-1zM420 60h1v1h-1zM421 60h1v1h-1zM424 60h1v1h-1zM425 60h1v1h-1zM426 60h1v1h-1zM441 60h1v1h-1zM443 60h1v1h-1zM444 60h1v1h-1zM407 61h1v1h-1zM410 61h1v1h-1zM424 61h1v1h-1zM425 61h1v1h-1zM428 61h1v1h-1zM430 61h1v1h-1zM435 61h1v1h-1zM438 61h1v1h-1zM446 61h1v1h-1zM447 61h1v1h-1zM448 61h1v1h-1zM452 61h1v1h-1zM453 61h1v1h-1zM411 62h1v1h-1zM415 62h1v1h-1zM417 62h1v1h-1zM421 62h1v1h-1zM423 62h1v1h-1zM427 62h1v1h-1zM429 62h1v1h-1zM430 62h1v1h-1zM433 62h1v1h-1zM437 62h1v1h-1zM446 62h1v1h-1zM447 62h1v1h-1zM449 62h1v1h-1zM416 63h1v1h-1zM417 63h1v1h-1zM439 63h1v1h-1zM445 63h1v1h-1zM450 63h1v1h-1zM452 63h1v1h-1zM456 63h1v1h-1zM458 63h1v1h-1zM411 64h1v1h-1zM419 64h1v1h-1zM425 64h1v1h-1zM429 64h1v1h-1zM431 64h1v1h-1zM433 64h1v1h-1zM434 64h1v1h-1zM439 64h1v1h-1zM440 64h1v1h-1zM407 65h1v1h-1zM411 65h1v1h-1zM412 65h1v1h-1zM417 65h1v1h-1zM424 65h1v1h-1zM426 65h1v1h-1zM433 65h1v1h-1zM434 65h1v1h-1zM435 65h1v1h-1zM439 65h1v1h-1zM440 65h1v1h-1zM446 65h1v1h-1zM448 65h1v1h-1zM450 65h1v1h-1zM408 66h1v1h-1zM412 66h1v1h-1zM413 66h1v1h-1zM423 66h1v1h-1zM424 66h1v1h-1zM442 66h1v1h-1zM443 66h1v1h-1zM446 66h1v1h-1zM447 66h1v1h-1zM448 66h1v1h-1zM449 66h1v1h-1zM451 66h1v1h-1zM455 66h1v1h-1zM456 66h1v1h-1zM406 67h1v1h-1zM413 67h1v1h-1zM416 67h1v1h-1zM419 67h1v1h-1zM421 67h1v1h-1zM422 67h1v1h-1zM433 67h1v1h-1zM435 67h1v1h-1zM439 67h1v1h-1zM446 67h1v1h-1zM451 67h1v1h-1zM455 67h1v1h-1zM456 67h1v1h-1zM458 67h1v1h-1zM406 68h1v1h-1zM407 68h1v1h-1zM410 68h1v1h-1zM414 68h1v1h-1zM417 68h1v1h-1zM421 68h1v1h-1zM422 68h1v1h-1zM423 68h1v1h-1zM428 68h1v1h-1zM430 68h1v1h-1zM431 68h1v1h-1zM434 68h1v1h-1zM440 68h1v1h-1zM441 68h1v1h-1zM451 68h1v1h-1zM452 68h1v1h-1zM453 68h1v1h-1zM456 68h1v1h-1zM409 69h1v1h-1zM414 69h1v1h-1zM419 69h1v1h-1zM423 69h1v1h-1zM426 69h1v1h-1zM428 69h1v1h-1zM431 69h1v1h-1zM434 69h1v1h-1zM441 69h1v1h-1zM442 69h1v1h-1zM443 69h1v1h-1zM449 69h1v1h-1zM453 69h1v1h-1zM456 69h1v1h-1zM458 69h1v1h-1zM416 70h1v1h-1zM427 70h1v1h-1zM431 70h1v1h-1zM436 70h1v1h-1zM437 70h1v1h-1zM446 70h1v1h-1zM452 70h1v1h-1zM453 70h1v1h-1zM456 70h1v1h-1zM457 70h1v1h-1zM426 71h1v1h-1zM430 71h1v1h-1zM436 71h1v1h-1zM438 71h1v1h-1zM442 71h1v1h-1zM443 71h1v1h-1zM444 71h1v1h-1zM445 71h1v1h-1zM446 71h1v1h-1zM449 71h1v1h-1zM451 71h1v1h-1zM453 71h1v1h-1zM454 71h1v1h-1zM456 71h1v1h-1zM407 72h1v1h-1zM411 72h1v1h-1zM417 72h1v1h-1zM419 72h1v1h-1zM420 72h1v1h-1zM429 72h1v1h-1zM432 72h1v1h-1zM433 72h1v1h-1zM437 72h1v1h-1zM446 72h1v1h-1zM447 72h1v1h-1zM451 72h1v1h-1zM452 72h1v1h-1zM413 73h1v1h-1zM429 73h1v1h-1zM431 73h1v1h-1zM432 73h1v1h-1zM438 73h1v1h-1zM447 73h1v1h-1zM448 73h1v1h-1zM450 73h1v1h-1zM454 73h1v1h-1zM457 73h1v1h-1zM406 74h1v1h-1zM410 74h1v1h-1zM412 74h1v1h-1zM413 74h1v1h-1zM430 74h1v1h-1zM434 74h1v1h-1zM435 74h1v1h-1zM440 74h1v1h-1zM442 74h1v1h-1zM449 74h1v1h-1zM450 74h1v1h-1zM453 74h1v1h-1zM456 74h1v1h-1zM457 74h1v1h-1zM411 75h1v1h-1zM412 75h1v1h-1zM416 75h1v1h-1zM417 75h1v1h-1zM418 75h1v1h-1zM419 75h1v1h-1zM422 75h1v1h-1zM423 75h1v1h-1zM431 75h1v1h-1zM433 75h1v1h-1zM434 75h1v1h-1zM436 75h1v1h-1zM437 75h1v1h-1zM442 75h1v1h-1zM443 75h1v1h-1zM447 75h1v1h-1zM449 75h1v1h-1zM451 75h1v1h-1zM454 75h1v1h-1zM455 75h1v1h-1zM407 76h1v1h-1zM409 76h1v1h-1zM413 76h1v1h-1zM416 76h1v1h-1zM417 76h1v1h-1zM418 76h1v1h-1zM431 76h1v1h-1zM433 76h1v1h-1zM434 76h1v1h-1zM435 76h1v1h-1zM439 76h1v1h-1zM446 76h1v1h-1zM447 76h1v1h-1zM448 76h1v1h-1zM454 76h1v1h-1zM456 76h1v1h-1zM406 77h1v1h-1zM409 77h1v1h-1zM410 77h1v1h-1zM411 77h1v1h-1zM412 77h1v1h-1zM416 77h1v1h-1zM431 77h1v1h-1zM434 77h1v1h-1zM435 77h1v1h-1zM437 77h1v1h-1zM446 77h1v1h-1zM452 77h1v1h-1zM407 78h1v1h-1zM424 78h1v1h-1zM427 78h1v1h-1zM430 78h1v1h-1zM443 78h1v1h-1zM448 78h1v1h-1zM450 78h1v1h-1zM407 79h1v1h-1zM408 79h1v1h-1zM410 79h1v1h-1zM412 79h1v1h-1zM416 79h1v1h-1zM432 79h1v1h-1zM440 79h1v1h-1zM444 79h1v1h-1zM447 79h1v1h-1zM454 79h1v1h-1zM457 79h1v1h-1zM410 80h1v1h-1zM413 80h1v1h-1zM416 80h1v1h-1zM428 80h1v1h-1zM432 80h1v1h-1zM446 80h1v1h-1zM447 80h1v1h-1zM448 80h1v1h-1zM410 81h1v1h-1zM417 81h1v1h-1zM424 81h1v1h-1zM425 81h1v1h-1zM432 81h1v1h-1zM434 81h1v1h-1zM435 81h1v1h-1zM440 81h1v1h-1zM443 81h1v1h-1zM444 81h1v1h-1zM447 81h1v1h-1zM457 81h1v1h-1zM406 82h1v1h-1zM410 82h1v1h-1zM415 82h1v1h-1zM416 82h1v1h-1zM419 82h1v1h-1zM423 82h1v1h-1zM424 82h1v1h-1zM429 82h1v1h-1zM432 82h1v1h-1zM433 82h1v1h-1zM434 82h1v1h-1zM439 82h1v1h-1zM444 82h1v1h-1zM448 82h1v1h-1zM451 82h1v1h-1zM453 82h1v1h-1zM454 82h1v1h-1zM409 83h1v1h-1zM411 83h1v1h-1zM414 83h1v1h-1zM416 83h1v1h-1zM422 83h1v1h-1zM427 83h1v1h-1zM431 83h1v1h-1zM435 83h1v1h-1zM440 83h1v1h-1zM441 83h1v1h-1zM445 83h1v1h-1zM449 83h1v1h-1zM452 83h1v1h-1zM412 84h1v1h-1zM417 84h1v1h-1zM422 84h1v1h-1zM423 84h1v1h-1zM428 84h1v1h-1zM442 84h1v1h-1zM450 84h1v1h-1zM451 84h1v1h-1zM453 84h1v1h-1zM454 84h1v1h-1zM457 84h1v1h-1z"/>
<path fill="#b04476" fill-opacity="0.36" d="M407 85h1v1h-1zM409 85h1v1h-1zM412 85h1v1h-1zM414 85h1v1h-1zM416 85h1v1h-1zM418 85h1v1h-1zM419 85h1v1h-1zM420 85h1v1h-1zM425 85h1v1h-1zM427 85h1v1h-1zM432 85h1v1h-1zM435 85h1v1h-1zM439 85h1v1h-1zM441 85h1v1h-1zM444 85h1v1h-1zM447 85h1v1h-1zM448 85h1v1h-1zM455 85h1v1h-1zM458 85h1v1h-1zM408 86h1v1h-1zM410 86h1v1h-1zM411 86h1v1h-1zM414 86h1v1h-1zM415 86h1v1h-1zM416 86h1v1h-1zM418 86h1v1h-1zM423 86h1v1h-1zM429 86h1v1h-1zM432 86h1v1h-1zM434 86h1v1h-1zM438 86h1v1h-1zM440 86h1v1h-1zM447 86h1v1h-1zM452 86h1v1h-1zM458 86h1v1h-1zM408 87h1v1h-1zM409 87h1v1h-1zM410 87h1v1h-1zM412 87h1v1h-1zM413 87h1v1h-1zM416 87h1v1h-1zM421 87h1v1h-1zM423 87h1v1h-1zM428 87h1v1h-1zM430 87h1v1h-1zM433 87h1v1h-1zM436 87h1v1h-1zM439 87h1v1h-1zM440 87h1v1h-1zM441 87h1v1h-1zM442 87h1v1h-1zM446 87h1v1h-1zM448 87h1v1h-1zM449 87h1v1h-1zM451 87h1v1h-1zM413 88h1v1h-1zM430 88h1v1h-1zM435 88h1v1h-1zM453 88h1v1h-1zM414 89h1v1h-1zM429 89h1v1h-1zM451 89h1v1h-1zM455 89h1v1h-1zM406 90h1v1h-1zM407 90h1v1h-1zM410 90h1v1h-1zM416 90h1v1h-1zM422 90h1v1h-1zM429 90h1v1h-1zM431 90h1v1h-1zM432 90h1v1h-1zM433 90h1v1h-1zM435 90h1v1h-1zM436 90h1v1h-1zM445 90h1v1h-1zM447 90h1v1h-1zM448 90h1v1h-1zM449 90h1v1h-1zM451 90h1v1h-1zM453 90h1v1h-1zM458 90h1v1h-1zM406 91h1v1h-1zM408 91h1v1h-1zM409 91h1v1h-1zM412 91h1v1h-1zM413 91h1v1h-1zM414 91h1v1h-1zM417 91h1v1h-1zM424 91h1v1h-1zM426 91h1v1h-1zM428 91h1v1h-1zM429 91h1v1h-1zM430 91h1v1h-1zM432 91h1v1h-1zM435 91h1v1h-1zM439 91h1v1h-1zM441 91h1v1h-1zM443 91h1v1h-1zM447 91h1v1h-1zM449 91h1v1h-1zM452 91h1v1h-1zM454 91h1v1h-1zM406 92h1v1h-1zM417 92h1v1h-1zM418 92h1v1h-1zM420 92h1v1h-1zM422 92h1v1h-1zM427 92h1v1h-1zM432 92h1v1h-1zM436 92h1v1h-1zM437 92h1v1h-1zM439 92h1v1h-1zM446 92h1v1h-1zM451 92h1v1h-1zM452 92h1v1h-1zM453 92h1v1h-1zM410 93h1v1h-1zM417 93h1v1h-1zM436 93h1v1h-1zM438 93h1v1h-1zM449 93h1v1h-1zM406 94h1v1h-1zM414 94h1v1h-1zM415 94h1v1h-1zM427 94h1v1h-1zM428 94h1v1h-1zM440 94h1v1h-1zM441 94h1v1h-1zM443 94h1v1h-1zM451 94h1v1h-1zM455 94h1v1h-1zM456 94h1v1h-1zM458 94h1v1h-1zM406 95h1v1h-1zM407 95h1v1h-1zM408 95h1v1h-1zM409 95h1v1h-1zM410 95h1v1h-1zM411 95h1v1h-1zM412 95h1v1h-1zM415 95h1v1h-1zM416 95h1v1h-1zM417 95h1v1h-1zM420 95h1v1h-1zM425 95h1v1h-1zM426 95h1v1h-1zM430 95h1v1h-1zM442 95h1v1h-1zM443 95h1v1h-1zM448 95h1v1h-1zM450 95h1v1h-1zM407 96h1v1h-1zM411 96h1v1h-1zM412 96h1v1h-1zM417 96h1v1h-1zM423 96h1v1h-1zM427 96h1v1h-1zM428 96h1v1h-1zM429 96h1v1h-1zM430 96h1v1h-1zM433 96h1v1h-1zM437 96h1v1h-1zM440 96h1v1h-1zM441 96h1v1h-1zM443 96h1v1h-1zM447 96h1v1h-1zM452 96h1v1h-1zM409 97h1v1h-1zM411 97h1v1h-1zM412 97h1v1h-1zM416 97h1v1h-1zM420 97h1v1h-1zM424 97h1v1h-1zM427 97h1v1h-1zM428 97h1v1h-1zM430 97h1v1h-1zM440 97h1v1h-1zM445 97h1v1h-1zM447 97h1v1h-1zM454 97h1v1h-1zM455 97h1v1h-1zM406 98h1v1h-1zM408 98h1v1h-1zM413 98h1v1h-1zM415 98h1v1h-1zM416 98h1v1h-1zM420 98h1v1h-1zM426 98h1v1h-1zM427 98h1v1h-1zM434 98h1v1h-1zM439 98h1v1h-1zM440 98h1v1h-1zM444 98h1v1h-1zM446 98h1v1h-1zM449 98h1v1h-1zM451 98h1v1h-1zM452 98h1v1h-1zM406 99h1v1h-1zM413 99h1v1h-1zM416 99h1v1h-1zM422 99h1v1h-1zM423 99h1v1h-1zM424 99h1v1h-1zM427 99h1v1h-1zM429 99h1v1h-1zM432 99h1v1h-1zM434 99h1v1h-1zM435 99h1v1h-1zM436 99h1v1h-1zM437 99h1v1h-1zM438 99h1v1h-1zM441 99h1v1h-1zM442 99h1v1h-1zM446 99h1v1h-1zM450 99h1v1h-1zM452 99h1v1h-1zM457 99h1v1h-1zM458 99h1v1h-1zM408 100h1v1h-1zM412 100h1v1h-1zM415 100h1v1h-1zM428 100h1v1h-1zM430 100h1v1h-1zM432 100h1v1h-1zM433 100h1v1h-1zM437 100h1v1h-1zM441 100h1v1h-1zM445 100h1v1h-1zM448 100h1v1h-1zM455 100h1v1h-1zM406 101h1v1h-1zM409 101h1v1h-1zM410 101h1v1h-1zM411 101h1v1h-1zM412 101h1v1h-1zM414 101h1v1h-1zM415 101h1v1h-1zM417 101h1v1h-1zM420 101h1v1h-1zM422 101h1v1h-1zM425 101h1v1h-1zM426 101h1v1h-1zM428 101h1v1h-1zM434 101h1v1h-1zM437 101h1v1h-1zM438 101h1v1h-1zM439 101h1v1h-1zM447 101h1v1h-1zM449 101h1v1h-1zM454 101h1v1h-1zM410 102h1v1h-1zM411 102h1v1h-1zM415 102h1v1h-1zM420 102h1v1h-1zM422 102h1v1h-1zM424 102h1v1h-1zM428 102h1v1h-1zM430 102h1v1h-1zM431 102h1v1h-1zM435 102h1v1h-1zM438 102h1v1h-1zM439 102h1v1h-1zM441 102h1v1h-1zM445 102h1v1h-1zM451 102h1v1h-1zM452 102h1v1h-1zM454 102h1v1h-1zM458 102h1v1h-1zM406 103h1v1h-1zM407 103h1v1h-1zM411 103h1v1h-1zM412 103h1v1h-1zM417 103h1v1h-1zM418 103h1v1h-1zM419 103h1v1h-1zM421 103h1v1h-1zM422 103h1v1h-1zM426 103h1v1h-1zM428 103h1v1h-1zM429 103h1v1h-1zM431 103h1v1h-1zM437 103h1v1h-1zM442 103h1v1h-1zM443 103h1v1h-1zM444 103h1v1h-1zM451 103h1v1h-1zM452 103h1v1h-1zM454 103h1v1h-1zM456 103h1v1h-1zM406 104h1v1h-1zM407 104h1v1h-1zM408 104h1v1h-1zM409 104h1v1h-1zM417 104h1v1h-1zM420 104h1v1h-1zM423 104h1v1h-1zM424 104h1v1h-1zM435 104h1v1h-1zM439 104h1v1h-1zM440 104h1v1h-1zM444 104h1v1h-1zM450 104h1v1h-1zM453 104h1v1h-1zM455 104h1v1h-1zM458 104h1v1h-1zM419 105h1v1h-1zM445 105h1v1h-1zM447 105h1v1h-1zM457 105h1v1h-1zM430 106h1v1h-1zM442 106h1v1h-1zM453 106h1v1h-1zM409 107h1v1h-1zM413 107h1v1h-1zM415 107h1v1h-1zM419 107h1v1h-1zM424 107h1v1h-1zM427 107h1v1h-1zM430 107h1v1h-1zM432 107h1v1h-1zM434 107h1v1h-1zM436 107h1v1h-1zM438 107h1v1h-1zM442 107h1v1h-1zM443 107h1v1h-1zM444 107h1v1h-1zM445 107h1v1h-1zM446 107h1v1h-1zM448 107h1v1h-1zM453 107h1v1h-1zM414 108h1v1h-1zM416 108h1v1h-1zM417 108h1v1h-1zM418 108h1v1h-1zM419 108h1v1h-1zM424 108h1v1h-1zM425 108h1v1h-1zM430 108h1v1h-1zM435 108h1v1h-1zM441 108h1v1h-1zM444 108h1v1h-1zM445 108h1v1h-1zM450 108h1v1h-1zM454 108h1v1h-1zM456 108h1v1h-1zM412 109h1v1h-1zM415 109h1v1h-1zM419 109h1v1h-1zM421 109h1v1h-1zM449 109h1v1h-1zM452 109h1v1h-1zM456 109h1v1h-1zM406 110h1v1h-1zM420 110h1v1h-1zM421 110h1v1h-1zM423 110h1v1h-1zM427 110h1v1h-1zM435 110h1v1h-1zM442 110h1v1h-1zM451 110h1v1h-1zM457 110h1v1h-1zM406 111h1v1h-1zM412 111h1v1h-1zM415 111h1v1h-1zM421 111h1v1h-1zM426 111h1v1h-1zM449 111h1v1h-1zM451 111h1v1h-1zM457 111h1v1h-1zM406 112h1v1h-1zM408 112h1v1h-1zM412 112h1v1h-1zM416 112h1v1h-1zM417 112h1v1h-1zM419 112h1v1h-1zM421 112h1v1h-1zM424 112h1v1h-1zM425 112h1v1h-1zM426 112h1v1h-1zM437 112h1v1h-1zM439 112h1v1h-1zM441 112h1v1h-1zM445 112h1v1h-1zM447 112h1v1h-1zM448 112h1v1h-1zM452 112h1v1h-1zM453 112h1v1h-1zM456 112h1v1h-1zM406 113h1v1h-1zM414 113h1v1h-1zM416 113h1v1h-1zM417 113h1v1h-1zM426 113h1v1h-1zM430 113h1v1h-1zM443 113h1v1h-1zM447 113h1v1h-1zM451 113h1v1h-1zM453 113h1v1h-1zM457 113h1v1h-1zM410 114h1v1h-1zM411 114h1v1h-1zM421 114h1v1h-1zM425 114h1v1h-1zM429 114h1v1h-1zM435 114h1v1h-1zM441 114h1v1h-1zM443 114h1v1h-1zM444 114h1v1h-1zM446 114h1v1h-1zM448 114h1v1h-1zM449 114h1v1h-1zM456 114h1v1h-1zM458 114h1v1h-1zM418 115h1v1h-1zM439 115h1v1h-1zM411 116h1v1h-1zM412 116h1v1h-1zM414 116h1v1h-1zM418 116h1v1h-1zM422 116h1v1h-1zM425 116h1v1h-1zM435 116h1v1h-1zM438 116h1v1h-1zM406 117h1v1h-1zM408 117h1v1h-1zM409 117h1v1h-1zM410 117h1v1h-1zM418 117h1v1h-1zM419 117h1v1h-1zM422 117h1v1h-1zM426 117h1v1h-1zM427 117h1v1h-1zM432 117h1v1h-1zM439 117h1v1h-1zM441 117h1v1h-1zM444 117h1v1h-1zM446 117h1v1h-1zM447 117h1v1h-1zM457 117h1v1h-1zM407 118h1v1h-1zM411 118h1v1h-1zM413 118h1v1h-1zM414 118h1v1h-1zM419 118h1v1h-1zM423 118h1v1h-1zM427 118h1v1h-1zM431 118h1v1h-1zM433 118h1v1h-1zM434 118h1v1h-1zM436 118h1v1h-1zM439 118h1v1h-1zM440 118h1v1h-1zM445 118h1v1h-1zM447 118h1v1h-1zM448 118h1v1h-1zM449 118h1v1h-1zM450 118h1v1h-1zM452 118h1v1h-1zM453 118h1v1h-1zM454 118h1v1h-1zM455 118h1v1h-1zM456 118h1v1h-1zM407 119h1v1h-1zM411 119h1v1h-1zM422 119h1v1h-1zM425 119h1v1h-1zM434 119h1v1h-1zM435 119h1v1h-1zM437 119h1v1h-1zM441 119h1v1h-1zM449 119h1v1h-1zM450 119h1v1h-1zM453 119h1v1h-1zM458 119h1v1h-1z"/>
<path fill="#b04476" fill-opacity="0.72" d="M406 85h1v1h-1zM408 85h1v1h-1zM410 85h1v1h-1zM423 85h1v1h-1zM424 85h1v1h-1zM429 85h1v1h-1zM440 85h1v1h-1zM443 85h1v1h-1zM445 85h1v1h-1zM451 85h1v1h-1zM452 85h1v1h-1zM457 85h1v1h-1zM409 86h1v1h-1zM419 86h1v1h-1zM422 86h1v1h-1zM425 86h1v1h-1zM445 86h1v1h-1zM446 86h1v1h-1zM448 86h1v1h-1zM453 86h1v1h-1zM407 87h1v1h-1zM414 87h1v1h-1zM419 87h1v1h-1zM420 87h1v1h-1zM426 87h1v1h-1zM427 87h1v1h-1zM431 87h1v1h-1zM432 87h1v1h-1zM435 87h1v1h-1zM438 87h1v1h-1zM450 87h1v1h-1zM452 87h1v1h-1zM453 87h1v1h-1zM454 87h1v1h-1zM457 87h1v1h-1zM458 87h1v1h-1zM417 88h1v1h-1zM449 88h1v1h-1zM457 88h1v1h-1zM416 89h1v1h-1zM457 89h1v1h-1zM415 90h1v1h-1zM417 90h1v1h-1zM418 90h1v1h-1zM419 90h1v1h-1zM423 90h1v1h-1zM424 90h1v1h-1zM426 90h1v1h-1zM427 90h1v1h-1zM428 90h1v1h-1zM430 90h1v1h-1zM437 90h1v1h-1zM441 90h1v1h-1zM442 90h1v1h-1zM450 90h1v1h-1zM452 90h1v1h-1zM454 90h1v1h-1zM455 90h1v1h-1zM456 90h1v1h-1zM411 91h1v1h-1zM415 91h1v1h-1zM419 91h1v1h-1zM422 91h1v1h-1zM425 91h1v1h-1zM431 91h1v1h-1zM440 91h1v1h-1zM442 91h1v1h-1zM445 91h1v1h-1zM446 91h1v1h-1zM448 91h1v1h-1zM453 91h1v1h-1zM407 92h1v1h-1zM410 92h1v1h-1zM411 92h1v1h-1zM416 92h1v1h-1zM419 92h1v1h-1zM425 92h1v1h-1zM440 92h1v1h-1zM443 92h1v1h-1zM447 92h1v1h-1zM450 92h1v1h-1zM454 92h1v1h-1zM455 92h1v1h-1zM457 92h1v1h-1zM425 93h1v1h-1zM427 93h1v1h-1zM431 93h1v1h-1zM434 93h1v1h-1zM435 93h1v1h-1zM442 93h1v1h-1zM456 93h1v1h-1zM407 94h1v1h-1zM408 94h1v1h-1zM409 94h1v1h-1zM411 94h1v1h-1zM416 94h1v1h-1zM417 94h1v1h-1zM419 94h1v1h-1zM421 94h1v1h-1zM422 94h1v1h-1zM423 94h1v1h-1zM425 94h1v1h-1zM426 94h1v1h-1zM430 94h1v1h-1zM431 94h1v1h-1zM433 94h1v1h-1zM434 94h1v1h-1zM442 94h1v1h-1zM444 94h1v1h-1zM445 94h1v1h-1zM449 94h1v1h-1zM452 94h1v1h-1zM457 94h1v1h-1zM413 95h1v1h-1zM418 95h1v1h-1zM422 95h1v1h-1zM423 95h1v1h-1zM427 95h1v1h-1zM429 95h1v1h-1zM437 95h1v1h-1zM438 95h1v1h-1zM440 95h1v1h-1zM444 95h1v1h-1zM445 95h1v1h-1zM446 95h1v1h-1zM447 95h1v1h-1zM451 95h1v1h-1zM453 95h1v1h-1zM457 95h1v1h-1zM458 95h1v1h-1zM408 96h1v1h-1zM413 96h1v1h-1zM415 96h1v1h-1zM419 96h1v1h-1zM422 96h1v1h-1zM425 96h1v1h-1zM426 96h1v1h-1zM432 96h1v1h-1zM434 96h1v1h-1zM435 96h1v1h-1zM438 96h1v1h-1zM439 96h1v1h-1zM444 96h1v1h-1zM445 96h1v1h-1zM448 96h1v1h-1zM451 96h1v1h-1zM453 96h1v1h-1zM455 96h1v1h-1zM457 96h1v1h-1zM458 96h1v1h-1zM407 97h1v1h-1zM413 97h1v1h-1zM414 97h1v1h-1zM417 97h1v1h-1zM418 97h1v1h-1zM422 97h1v1h-1zM423 97h1v1h-1zM426 97h1v1h-1zM432 97h1v1h-1zM433 97h1v1h-1zM434 97h1v1h-1zM435 97h1v1h-1zM437 97h1v1h-1zM441 97h1v1h-1zM443 97h1v1h-1zM446 97h1v1h-1zM448 97h1v1h-1zM451 97h1v1h-1zM452 97h1v1h-1zM456 97h1v1h-1zM407 98h1v1h-1zM411 98h1v1h-1zM412 98h1v1h-1zM418 98h1v1h-1zM419 98h1v1h-1zM424 98h1v1h-1zM425 98h1v1h-1zM428 98h1v1h-1zM429 98h1v1h-1zM430 98h1v1h-1zM431 98h1v1h-1zM438 98h1v1h-1zM443 98h1v1h-1zM445 98h1v1h-1zM448 98h1v1h-1zM450 98h1v1h-1zM453 98h1v1h-1zM458 98h1v1h-1zM408 99h1v1h-1zM409 99h1v1h-1zM410 99h1v1h-1zM418 99h1v1h-1zM419 99h1v1h-1zM420 99h1v1h-1zM421 99h1v1h-1zM425 99h1v1h-1zM430 99h1v1h-1zM433 99h1v1h-1zM439 99h1v1h-1zM440 99h1v1h-1zM443 99h1v1h-1zM444 99h1v1h-1zM445 99h1v1h-1zM447 99h1v1h-1zM448 99h1v1h-1zM449 99h1v1h-1zM453 99h1v1h-1zM454 99h1v1h-1zM455 99h1v1h-1zM411 100h1v1h-1zM414 100h1v1h-1zM422 100h1v1h-1zM427 100h1v1h-1zM429 100h1v1h-1zM434 100h1v1h-1zM442 100h1v1h-1zM443 100h1v1h-1zM447 100h1v1h-1zM449 100h1v1h-1zM450 100h1v1h-1zM454 100h1v1h-1zM423 101h1v1h-1zM424 101h1v1h-1zM429 101h1v1h-1zM435 101h1v1h-1zM441 101h1v1h-1zM444 101h1v1h-1zM448 101h1v1h-1zM450 101h1v1h-1zM452 101h1v1h-1zM453 101h1v1h-1zM456 101h1v1h-1zM457 101h1v1h-1zM458 101h1v1h-1zM406 102h1v1h-1zM407 102h1v1h-1zM408 102h1v1h-1zM409 102h1v1h-1zM414 102h1v1h-1zM416 102h1v1h-1zM419 102h1v1h-1zM421 102h1v1h-1zM423 102h1v1h-1zM426 102h1v1h-1zM427 102h1v1h-1zM429 102h1v1h-1zM433 102h1v1h-1zM434 102h1v1h-1zM436 102h1v1h-1zM437 102h1v1h-1zM443 102h1v1h-1zM444 102h1v1h-1zM446 102h1v1h-1zM447 102h1v1h-1zM449 102h1v1h-1zM450 102h1v1h-1zM453 102h1v1h-1zM456 102h1v1h-1zM409 103h1v1h-1zM410 103h1v1h-1zM413 103h1v1h-1zM415 103h1v1h-1zM416 103h1v1h-1zM423 103h1v1h-1zM425 103h1v1h-1zM427 103h1v1h-1zM434 103h1v1h-1zM435 103h1v1h-1zM436 103h1v1h-1zM441 103h1v1h-1zM445 103h1v1h-1zM446 103h1v1h-1zM447 103h1v1h-1zM449 103h1v1h-1zM450 103h1v1h-1zM455 103h1v1h-1zM457 103h1v1h-1zM458 103h1v1h-1zM413 104h1v1h-1zM414 104h1v1h-1zM416 104h1v1h-1zM418 104h1v1h-1zM421 104h1v1h-1zM422 104h1v1h-1zM426 104h1v1h-1zM430 104h1v1h-1zM432 104h1v1h-1zM434 104h1v1h-1zM442 104h1v1h-1zM443 104h1v1h-1zM445 104h1v1h-1zM446 104h1v1h-1zM447 104h1v1h-1zM448 104h1v1h-1zM449 104h1v1h-1zM451 104h1v1h-1zM452 104h1v1h-1zM454 104h1v1h-1zM456 104h1v1h-1zM442 105h1v1h-1zM444 105h1v1h-1zM448 105h1v1h-1zM452 105h1v1h-1zM406 106h1v1h-1zM407 106h1v1h-1zM433 106h1v1h-1zM438 106h1v1h-1zM443 106h1v1h-1zM451 106h1v1h-1zM407 107h1v1h-1zM420 107h1v1h-1zM433 107h1v1h-1zM437 107h1v1h-1zM451 107h1v1h-1zM455 107h1v1h-1zM456 107h1v1h-1zM406 108h1v1h-1zM407 108h1v1h-1zM409 108h1v1h-1zM410 108h1v1h-1zM413 108h1v1h-1zM415 108h1v1h-1zM421 108h1v1h-1zM422 108h1v1h-1zM423 108h1v1h-1zM427 108h1v1h-1zM428 108h1v1h-1zM433 108h1v1h-1zM434 108h1v1h-1zM438 108h1v1h-1zM440 108h1v1h-1zM442 108h1v1h-1zM446 108h1v1h-1zM451 108h1v1h-1zM452 108h1v1h-1zM455 108h1v1h-1zM457 108h1v1h-1zM458 108h1v1h-1zM406 109h1v1h-1zM417 109h1v1h-1zM430 109h1v1h-1zM434 109h1v1h-1zM454 109h1v1h-1zM408 110h1v1h-1zM413 110h1v1h-1zM415 110h1v1h-1zM416 110h1v1h-1zM419 110h1v1h-1zM428 110h1v1h-1zM439 110h1v1h-1zM444 110h1v1h-1zM447 110h1v1h-1zM449 110h1v1h-1zM452 110h1v1h-1zM434 111h1v1h-1zM452 111h1v1h-1zM407 112h1v1h-1zM409 112h1v1h-1zM411 112h1v1h-1zM415 112h1v1h-1zM420 112h1v1h-1zM422 112h1v1h-1zM423 112h1v1h-1zM430 112h1v1h-1zM431 112h1v1h-1zM434 112h1v1h-1zM436 112h1v1h-1zM443 112h1v1h-1zM444 112h1v1h-1zM446 112h1v1h-1zM449 112h1v1h-1zM450 112h1v1h-1zM451 112h1v1h-1zM454 112h1v1h-1zM455 112h1v1h-1zM457 112h1v1h-1zM458 112h1v1h-1zM410 113h1v1h-1zM421 113h1v1h-1zM424 113h1v1h-1zM432 113h1v1h-1zM435 113h1v1h-1zM440 113h1v1h-1zM445 113h1v1h-1zM446 113h1v1h-1zM449 113h1v1h-1zM455 113h1v1h-1zM456 113h1v1h-1zM414 114h1v1h-1zM418 114h1v1h-1zM422 114h1v1h-1zM424 114h1v1h-1zM426 114h1v1h-1zM428 114h1v1h-1zM430 114h1v1h-1zM433 114h1v1h-1zM437 114h1v1h-1zM439 114h1v1h-1zM445 114h1v1h-1zM450 114h1v1h-1zM453 114h1v1h-1zM410 115h1v1h-1zM414 115h1v1h-1zM421 115h1v1h-1zM424 115h1v1h-1zM432 115h1v1h-1zM417 116h1v1h-1zM419 116h1v1h-1zM424 116h1v1h-1zM431 116h1v1h-1zM443 116h1v1h-1zM444 116h1v1h-1zM445 116h1v1h-1zM454 116h1v1h-1zM455 116h1v1h-1zM458 116h1v1h-1zM407 117h1v1h-1zM412 117h1v1h-1zM413 117h1v1h-1zM414 117h1v1h-1zM415 117h1v1h-1zM417 117h1v1h-1zM420 117h1v1h-1zM421 117h1v1h-1zM425 117h1v1h-1zM428 117h1v1h-1zM429 117h1v1h-1zM430 117h1v1h-1zM435 117h1v1h-1zM436 117h1v1h-1zM438 117h1v1h-1zM440 117h1v1h-1zM442 117h1v1h-1zM443 117h1v1h-1zM445 117h1v1h-1zM448 117h1v1h-1zM450 117h1v1h-1zM451 117h1v1h-1zM454 117h1v1h-1zM458 117h1v1h-1zM406 118h1v1h-1zM409 118h1v1h-1zM410 118h1v1h-1zM412 118h1v1h-1zM415 118h1v1h-1zM421 118h1v1h-1zM422 118h1v1h-1zM424 118h1v1h-1zM425 118h1v1h-1zM426 118h1v1h-1zM428 118h1v1h-1zM429 118h1v1h-1zM432 118h1v1h-1zM441 118h1v1h-1zM443 118h1v1h-1zM444 118h1v1h-1zM446 118h1v1h-1zM457 118h1v1h-1zM408 119h1v1h-1zM409 119h1v1h-1zM412 119h1v1h-1zM413 119h1v1h-1zM415 119h1v1h-1zM416 119h1v1h-1zM417 119h1v1h-1zM426 119h1v1h-1zM430 119h1v1h-1zM431 119h1v1h-1zM436 119h1v1h-1zM446 119h1v1h-1zM451 119h1v1h-1z"/>
<path fill="#b04476" fill-opacity="1" d="M411 85h1v1h-1zM413 85h1v1h-1zM415 85h1v1h-1zM417 85h1v1h-1zM421 85h1v1h-1zM422 85h1v1h-1zM426 85h1v1h-1zM428 85h1v1h-1zM430 85h1v1h-1zM431 85h1v1h-1zM433 85h1v1h-1zM434 85h1v1h-1zM436 85h1v1h-1zM437 85h1v1h-1zM438 85h1v1h-1zM442 85h1v1h-1zM446 85h1v1h-1zM449 85h1v1h-1zM450 85h1v1h-1zM453 85h1v1h-1zM454 85h1v1h-1zM456 85h1v1h-1zM420 86h1v1h-1zM426 86h1v1h-1zM431 86h1v1h-1zM437 86h1v1h-1zM441 86h1v1h-1zM442 86h1v1h-1zM449 86h1v1h-1zM451 86h1v1h-1zM456 86h1v1h-1zM457 86h1v1h-1zM406 87h1v1h-1zM411 87h1v1h-1zM415 87h1v1h-1zM417 87h1v1h-1zM418 87h1v1h-1zM422 87h1v1h-1zM424 87h1v1h-1zM425 87h1v1h-1zM429 87h1v1h-1zM437 87h1v1h-1zM444 87h1v1h-1zM445 87h1v1h-1zM447 87h1v1h-1zM455 87h1v1h-1zM411 88h1v1h-1zM416 88h1v1h-1zM423 88h1v1h-1zM441 88h1v1h-1zM442 88h1v1h-1zM448 88h1v1h-1zM406 89h1v1h-1zM410 89h1v1h-1zM412 89h1v1h-1zM426 89h1v1h-1zM438 89h1v1h-1zM456 89h1v1h-1zM408 90h1v1h-1zM409 90h1v1h-1zM411 90h1v1h-1zM412 90h1v1h-1zM413 90h1v1h-1zM414 90h1v1h-1zM420 90h1v1h-1zM421 90h1v1h-1zM425 90h1v1h-1zM434 90h1v1h-1zM438 90h1v1h-1zM439 90h1v1h-1zM440 90h1v1h-1zM443 90h1v1h-1zM444 90h1v1h-1zM446 90h1v1h-1zM457 90h1v1h-1zM410 91h1v1h-1zM416 91h1v1h-1zM418 91h1v1h-1zM420 91h1v1h-1zM421 91h1v1h-1zM423 91h1v1h-1zM427 91h1v1h-1zM433 91h1v1h-1zM434 91h1v1h-1zM436 91h1v1h-1zM437 91h1v1h-1zM438 91h1v1h-1zM444 91h1v1h-1zM450 91h1v1h-1zM451 91h1v1h-1zM455 91h1v1h-1zM456 91h1v1h-1zM457 91h1v1h-1zM458 91h1v1h-1zM415 92h1v1h-1zM423 92h1v1h-1zM429 92h1v1h-1zM434 92h1v1h-1zM441 92h1v1h-1zM444 92h1v1h-1zM448 92h1v1h-1zM418 93h1v1h-1zM444 93h1v1h-1zM410 94h1v1h-1zM412 94h1v1h-1zM413 94h1v1h-1zM418 94h1v1h-1zM420 94h1v1h-1zM424 94h1v1h-1zM429 94h1v1h-1zM432 94h1v1h-1zM435 94h1v1h-1zM436 94h1v1h-1zM437 94h1v1h-1zM438 94h1v1h-1zM439 94h1v1h-1zM446 94h1v1h-1zM447 94h1v1h-1zM448 94h1v1h-1zM450 94h1v1h-1zM453 94h1v1h-1zM454 94h1v1h-1zM414 95h1v1h-1zM419 95h1v1h-1zM421 95h1v1h-1zM424 95h1v1h-1zM428 95h1v1h-1zM431 95h1v1h-1zM432 95h1v1h-1zM433 95h1v1h-1zM434 95h1v1h-1zM435 95h1v1h-1zM436 95h1v1h-1zM439 95h1v1h-1zM441 95h1v1h-1zM449 95h1v1h-1zM452 95h1v1h-1zM454 95h1v1h-1zM455 95h1v1h-1zM456 95h1v1h-1zM406 96h1v1h-1zM409 96h1v1h-1zM410 96h1v1h-1zM414 96h1v1h-1zM420 96h1v1h-1zM421 96h1v1h-1zM431 96h1v1h-1zM436 96h1v1h-1zM442 96h1v1h-1zM446 96h1v1h-1zM449 96h1v1h-1zM450 96h1v1h-1zM454 96h1v1h-1zM456 96h1v1h-1zM406 97h1v1h-1zM408 97h1v1h-1zM410 97h1v1h-1zM415 97h1v1h-1zM419 97h1v1h-1zM421 97h1v1h-1zM425 97h1v1h-1zM429 97h1v1h-1zM431 97h1v1h-1zM436 97h1v1h-1zM438 97h1v1h-1zM439 97h1v1h-1zM442 97h1v1h-1zM444 97h1v1h-1zM449 97h1v1h-1zM450 97h1v1h-1zM453 97h1v1h-1zM457 97h1v1h-1zM458 97h1v1h-1zM409 98h1v1h-1zM410 98h1v1h-1zM414 98h1v1h-1zM417 98h1v1h-1zM421 98h1v1h-1zM422 98h1v1h-1zM423 98h1v1h-1zM432 98h1v1h-1zM433 98h1v1h-1zM435 98h1v1h-1zM436 98h1v1h-1zM437 98h1v1h-1zM441 98h1v1h-1zM442 98h1v1h-1zM447 98h1v1h-1zM454 98h1v1h-1zM455 98h1v1h-1zM456 98h1v1h-1zM457 98h1v1h-1zM407 99h1v1h-1zM411 99h1v1h-1zM412 99h1v1h-1zM414 99h1v1h-1zM415 99h1v1h-1zM417 99h1v1h-1zM426 99h1v1h-1zM428 99h1v1h-1zM431 99h1v1h-1zM451 99h1v1h-1zM456 99h1v1h-1zM416 100h1v1h-1zM417 100h1v1h-1zM418 100h1v1h-1zM419 100h1v1h-1zM423 100h1v1h-1zM424 100h1v1h-1zM435 100h1v1h-1zM436 100h1v1h-1zM438 100h1v1h-1zM439 100h1v1h-1zM440 100h1v1h-1zM451 100h1v1h-1zM407 101h1v1h-1zM408 101h1v1h-1zM413 101h1v1h-1zM418 101h1v1h-1zM419 101h1v1h-1zM421 101h1v1h-1zM427 101h1v1h-1zM433 101h1v1h-1zM436 101h1v1h-1zM440 101h1v1h-1zM442 101h1v1h-1zM443 101h1v1h-1zM445 101h1v1h-1zM446 101h1v1h-1zM451 101h1v1h-1zM455 101h1v1h-1zM412 102h1v1h-1zM413 102h1v1h-1zM417 102h1v1h-1zM418 102h1v1h-1zM425 102h1v1h-1zM432 102h1v1h-1zM440 102h1v1h-1zM442 102h1v1h-1zM448 102h1v1h-1zM455 102h1v1h-1zM457 102h1v1h-1zM408 103h1v1h-1zM414 103h1v1h-1zM420 103h1v1h-1zM424 103h1v1h-1zM430 103h1v1h-1zM432 103h1v1h-1zM433 103h1v1h-1zM438 103h1v1h-1zM439 103h1v1h-1zM440 103h1v1h-1zM448 103h1v1h-1zM453 103h1v1h-1zM410 104h1v1h-1zM411 104h1v1h-1zM412 104h1v1h-1zM415 104h1v1h-1zM419 104h1v1h-1zM425 104h1v1h-1zM427 104h1v1h-1zM428 104h1v1h-1zM429 104h1v1h-1zM431 104h1v1h-1zM433 104h1v1h-1zM436 104h1v1h-1zM437 104h1v1h-1zM438 104h1v1h-1zM441 104h1v1h-1zM457 104h1v1h-1zM417 105h1v1h-1zM431 105h1v1h-1zM433 105h1v1h-1zM435 105h1v1h-1zM443 105h1v1h-1zM408 106h1v1h-1zM411 106h1v1h-1zM429 106h1v1h-1zM439 106h1v1h-1zM406 107h1v1h-1zM411 107h1v1h-1zM414 107h1v1h-1zM422 107h1v1h-1zM423 107h1v1h-1zM426 107h1v1h-1zM429 107h1v1h-1zM431 107h1v1h-1zM435 107h1v1h-1zM439 107h1v1h-1zM441 107h1v1h-1zM450 107h1v1h-1zM452 107h1v1h-1zM454 107h1v1h-1zM458 107h1v1h-1zM408 108h1v1h-1zM412 108h1v1h-1zM420 108h1v1h-1zM426 108h1v1h-1zM429 108h1v1h-1zM432 108h1v1h-1zM436 108h1v1h-1zM437 108h1v1h-1zM443 108h1v1h-1zM448 108h1v1h-1zM449 108h1v1h-1zM453 108h1v1h-1zM416 109h1v1h-1zM427 109h1v1h-1zM436 109h1v1h-1zM438 109h1v1h-1zM455 109h1v1h-1zM458 109h1v1h-1zM409 110h1v1h-1zM417 110h1v1h-1zM422 110h1v1h-1zM424 110h1v1h-1zM433 110h1v1h-1zM441 110h1v1h-1zM443 110h1v1h-1zM445 110h1v1h-1zM448 110h1v1h-1zM407 111h1v1h-1zM411 111h1v1h-1zM432 111h1v1h-1zM437 111h1v1h-1zM440 111h1v1h-1zM442 111h1v1h-1zM410 112h1v1h-1zM413 112h1v1h-1zM414 112h1v1h-1zM418 112h1v1h-1zM427 112h1v1h-1zM428 112h1v1h-1zM429 112h1v1h-1zM432 112h1v1h-1zM433 112h1v1h-1zM435 112h1v1h-1zM438 112h1v1h-1zM440 112h1v1h-1zM442 112h1v1h-1zM409 113h1v1h-1zM412 113h1v1h-1zM413 113h1v1h-1zM433 113h1v1h-1zM436 113h1v1h-1zM438 113h1v1h-1zM444 113h1v1h-1zM458 113h1v1h-1zM406 114h1v1h-1zM408 114h1v1h-1zM409 114h1v1h-1zM415 114h1v1h-1zM416 114h1v1h-1zM417 114h1v1h-1zM419 114h1v1h-1zM420 114h1v1h-1zM423 114h1v1h-1zM427 114h1v1h-1zM431 114h1v1h-1zM432 114h1v1h-1zM434 114h1v1h-1zM438 114h1v1h-1zM440 114h1v1h-1zM442 114h1v1h-1zM447 114h1v1h-1zM452 114h1v1h-1zM455 114h1v1h-1zM457 114h1v1h-1zM430 115h1v1h-1zM437 115h1v1h-1zM453 115h1v1h-1zM409 116h1v1h-1zM426 116h1v1h-1zM439 116h1v1h-1zM447 116h1v1h-1zM457 116h1v1h-1zM411 117h1v1h-1zM416 117h1v1h-1zM423 117h1v1h-1zM424 117h1v1h-1zM431 117h1v1h-1zM433 117h1v1h-1zM434 117h1v1h-1zM437 117h1v1h-1zM449 117h1v1h-1zM452 117h1v1h-1zM453 117h1v1h-1zM455 117h1v1h-1zM456 117h1v1h-1zM408 118h1v1h-1zM416 118h1v1h-1zM417 118h1v1h-1zM418 118h1v1h-1zM420 118h1v1h-1zM430 118h1v1h-1zM435 118h1v1h-1zM437 118h1v1h-1zM438 118h1v1h-1zM442 118h1v1h-1zM451 118h1v1h-1zM458 118h1v1h-1zM424 119h1v1h-1zM428 119h1v1h-1zM433 119h1v1h-1zM444 119h1v1h-1zM445 119h1v1h-1zM447 119h1v1h-1zM448 119h1v1h-1zM452 119h1v1h-1zM456 119h1v1h-1z"/>
<path fill="#1a1a1a" fill-opacity="0.19" d="M409 120h2v1h-2zM413 120h2v1h-2zM417 120h1v1h-1zM425 120h2v1h-2zM437 120h2v1h-2zM439 120h3v1h-3zM454 120h3v1h-3zM406 121h2v1h-2zM415 121h1v1h-1zM424 121h1v1h-1zM409 122h2v1h-2zM427 122h1v1h-1zM431 122h2v1h-2zM437 122h2v1h-2zM453 122h1v1h-1zM455 122h2v1h-2zM414 123h1v1h-1zM417 123h1v1h-1zM420 123h2v1h-2zM423 123h2v1h-2zM452 123h1v1h-1zM410 124h2v1h-2zM416 124h1v1h-1zM425 124h1v1h-1zM431 124h1v1h-1zM432 124h2v1h-2zM434 124h2v1h-2zM440 124h2v1h-2zM443 124h3v1h-3zM451 124h3v1h-3zM454 124h1v1h-1zM406 125h1v1h-1zM414 125h2v1h-2zM431 125h1v1h-1zM433 125h1v1h-1zM443 125h2v1h-2zM445 125h1v1h-1zM457 125h1v1h-1zM431 126h1v1h-1zM442 126h2v1h-2zM450 126h2v1h-2zM455 126h1v1h-1zM456 126h2v1h-2zM408 127h3v1h-3zM416 127h1v1h-1zM427 127h2v1h-2zM429 127h1v1h-1zM430 127h2v1h-2zM434 127h1v1h-1zM438 127h1v1h-1zM406 128h1v1h-1zM407 128h1v1h-1zM410 128h2v1h-2zM412 128h1v1h-1zM415 128h1v1h-1zM416 128h1v1h-1zM418 128h3v1h-3zM440 128h1v1h-1zM451 128h1v1h-1zM454 128h3v1h-3zM457 128h1v1h-1zM406 129h1v1h-1zM408 129h1v1h-1zM429 129h2v1h-2zM440 129h1v1h-1zM451 129h1v1h-1zM458 129h1v1h-1zM409 130h2v1h-2zM412 131h2v1h-2zM419 131h2v1h-2zM421 131h2v1h-2zM437 131h1v1h-1zM443 131h1v1h-1zM448 131h2v1h-2zM458 131h1v1h-1zM407 132h2v1h-2zM409 132h1v1h-1zM412 132h1v1h-1zM413 132h1v1h-1zM415 132h1v1h-1zM425 132h1v1h-1zM427 132h2v1h-2zM431 132h1v1h-1zM436 132h2v1h-2zM441 132h1v1h-1zM442 132h2v1h-2zM444 132h1v1h-1zM453 132h3v1h-3zM456 132h1v1h-1zM457 132h1v1h-1zM408 133h1v1h-1zM414 133h2v1h-2zM425 133h3v1h-3zM437 133h1v1h-1zM442 133h1v1h-1zM447 133h2v1h-2zM449 133h1v1h-1zM454 133h2v1h-2zM414 134h2v1h-2zM420 134h2v1h-2zM424 134h2v1h-2zM435 134h1v1h-1zM437 134h1v1h-1zM446 134h1v1h-1zM409 135h2v1h-2zM420 135h1v1h-1zM427 135h1v1h-1zM443 135h1v1h-1zM458 135h1v1h-1zM407 136h2v1h-2zM426 136h1v1h-1zM430 136h2v1h-2zM435 136h1v1h-1zM436 136h1v1h-1zM442 136h1v1h-1zM448 136h1v1h-1zM449 136h2v1h-2zM408 137h2v1h-2zM421 137h1v1h-1zM424 137h2v1h-2zM434 137h1v1h-1zM435 137h3v1h-3zM439 137h3v1h-3zM446 137h1v1h-1zM447 137h1v1h-1zM451 137h1v1h-1zM454 137h1v1h-1zM411 138h1v1h-1zM419 138h1v1h-1zM430 138h3v1h-3zM433 138h1v1h-1zM446 138h2v1h-2zM412 139h1v1h-1zM420 139h1v1h-1zM421 139h1v1h-1zM432 139h3v1h-3zM438 139h3v1h-3zM442 139h2v1h-2zM450 139h2v1h-2zM458 139h1v1h-1zM421 140h1v1h-1zM428 140h2v1h-2zM435 140h3v1h-3zM445 140h1v1h-1zM447 140h2v1h-2zM406 141h1v1h-1zM408 141h1v1h-1zM409 141h1v1h-1zM410 141h2v1h-2zM414 141h3v1h-3zM420 141h2v1h-2zM424 141h1v1h-1zM425 141h2v1h-2zM438 141h1v1h-1zM440 141h2v1h-2zM453 141h1v1h-1zM454 141h2v1h-2zM412 142h3v1h-3zM426 142h2v1h-2zM428 142h1v1h-1zM430 142h2v1h-2zM436 142h1v1h-1zM440 142h1v1h-1zM441 142h2v1h-2zM444 142h1v1h-1zM447 142h1v1h-1zM456 142h1v1h-1zM409 143h1v1h-1zM411 143h1v1h-1zM412 143h3v1h-3zM415 143h1v1h-1zM432 143h3v1h-3zM440 143h2v1h-2zM450 143h1v1h-1zM454 143h3v1h-3zM413 144h3v1h-3zM430 144h1v1h-1zM458 144h1v1h-1zM419 145h2v1h-2zM422 145h3v1h-3zM432 145h1v1h-1zM445 145h2v1h-2zM447 145h2v1h-2zM407 146h2v1h-2zM421 146h1v1h-1zM423 146h1v1h-1zM433 146h1v1h-1zM453 146h1v1h-1zM409 147h3v1h-3zM412 147h1v1h-1zM413 147h1v1h-1zM416 147h1v1h-1zM429 147h3v1h-3zM434 147h1v1h-1zM441 147h1v1h-1zM443 147h1v1h-1zM446 147h1v1h-1zM447 147h2v1h-2zM455 147h1v1h-1zM415 148h1v1h-1zM419 148h1v1h-1zM424 148h1v1h-1zM426 148h2v1h-2zM429 148h2v1h-2zM433 148h1v1h-1zM434 148h1v1h-1zM441 148h1v1h-1zM424 149h1v1h-1zM432 149h3v1h-3zM443 149h1v1h-1zM452 149h2v1h-2zM407 150h1v1h-1zM415 150h1v1h-1zM421 150h3v1h-3zM428 150h2v1h-2zM439 150h1v1h-1zM444 150h2v1h-2zM449 150h1v1h-1zM408 151h2v1h-2zM418 151h2v1h-2zM446 151h1v1h-1zM448 151h1v1h-1zM449 151h3v1h-3zM411 152h1v1h-1zM420 152h1v1h-1zM437 152h1v1h-1zM446 152h2v1h-2zM453 152h1v1h-1zM406 153h3v1h-3zM410 153h1v1h-1zM413 153h2v1h-2zM424 153h1v1h-1zM429 153h3v1h-3zM432 153h2v1h-2zM439 153h1v1h-1zM443 153h1v1h-1zM447 153h3v1h-3zM454 153h1v1h-1zM407 154h1v1h-1zM413 154h1v1h-1zM414 154h1v1h-1zM422 154h1v1h-1zM430 154h1v1h-1zM432 154h1v1h-1zM434 154h3v1h-3zM444 154h1v1h-1zM451 154h1v1h-1zM453 154h1v1h-1zM409 155h3v1h-3zM422 155h2v1h-2zM430 155h2v1h-2zM434 155h1v1h-1zM441 155h1v1h-1zM454 155h3v1h-3z"/>
<path fill="#1a1a1a" fill-opacity="0.38" d="M428 120h1v1h-1zM432 120h3v1h-3zM409 121h2v1h-2zM411 121h1v1h-1zM423 121h1v1h-1zM428 121h1v1h-1zM438 121h2v1h-2zM442 121h2v1h-2zM444 121h1v1h-1zM406 122h3v1h-3zM418 122h1v1h-1zM420 122h2v1h-2zM428 122h1v1h-1zM435 122h2v1h-2zM440 122h1v1h-1zM448 122h1v1h-1zM449 122h2v1h-2zM458 122h1v1h-1zM426 123h3v1h-3zM433 123h1v1h-1zM436 123h1v1h-1zM455 123h1v1h-1zM456 123h2v1h-2zM409 124h1v1h-1zM446 124h1v1h-1zM448 124h3v1h-3zM455 124h1v1h-1zM456 124h2v1h-2zM410 125h1v1h-1zM411 125h2v1h-2zM430 125h1v1h-1zM432 125h1v1h-1zM438 125h3v1h-3zM406 126h2v1h-2zM408 126h1v1h-1zM409 126h1v1h-1zM411 126h3v1h-3zM414 126h2v1h-2zM416 126h1v1h-1zM419 126h1v1h-1zM425 126h2v1h-2zM427 126h2v1h-2zM430 126h1v1h-1zM434 126h1v1h-1zM449 126h1v1h-1zM454 126h1v1h-1zM458 126h1v1h-1zM442 127h1v1h-1zM447 127h2v1h-2zM455 127h1v1h-1zM413 128h1v1h-1zM414 128h1v1h-1zM423 128h2v1h-2zM433 128h2v1h-2zM437 128h2v1h-2zM409 129h1v1h-1zM410 129h2v1h-2zM418 129h1v1h-1zM421 129h1v1h-1zM422 129h1v1h-1zM436 129h3v1h-3zM417 130h1v1h-1zM422 130h2v1h-2zM427 130h2v1h-2zM443 130h2v1h-2zM458 130h1v1h-1zM407 131h1v1h-1zM411 131h1v1h-1zM415 131h1v1h-1zM417 131h1v1h-1zM424 131h1v1h-1zM435 131h2v1h-2zM440 131h1v1h-1zM442 131h1v1h-1zM444 131h2v1h-2zM411 132h1v1h-1zM419 132h3v1h-3zM423 132h1v1h-1zM429 132h1v1h-1zM445 132h3v1h-3zM448 132h2v1h-2zM450 132h1v1h-1zM412 133h1v1h-1zM423 133h2v1h-2zM409 134h1v1h-1zM422 134h1v1h-1zM438 134h1v1h-1zM439 134h2v1h-2zM452 134h2v1h-2zM456 134h1v1h-1zM457 134h2v1h-2zM406 135h1v1h-1zM417 135h1v1h-1zM421 135h2v1h-2zM434 135h1v1h-1zM439 135h2v1h-2zM452 135h2v1h-2zM411 136h2v1h-2zM414 136h1v1h-1zM419 136h1v1h-1zM420 136h3v1h-3zM427 136h1v1h-1zM456 136h1v1h-1zM407 137h1v1h-1zM410 137h1v1h-1zM411 137h3v1h-3zM422 137h1v1h-1zM426 137h3v1h-3zM442 137h2v1h-2zM445 137h1v1h-1zM455 137h1v1h-1zM414 138h1v1h-1zM452 138h1v1h-1zM456 138h1v1h-1zM408 139h1v1h-1zM413 139h1v1h-1zM415 139h3v1h-3zM427 139h1v1h-1zM430 139h1v1h-1zM453 139h3v1h-3zM413 140h1v1h-1zM414 140h1v1h-1zM417 140h3v1h-3zM423 140h1v1h-1zM430 140h1v1h-1zM441 140h1v1h-1zM442 140h2v1h-2zM451 140h1v1h-1zM456 140h2v1h-2zM412 141h1v1h-1zM422 141h2v1h-2zM427 141h1v1h-1zM432 141h3v1h-3zM437 141h1v1h-1zM439 141h1v1h-1zM442 141h3v1h-3zM445 141h2v1h-2zM449 141h1v1h-1zM450 141h1v1h-1zM451 141h1v1h-1zM415 142h1v1h-1zM416 142h2v1h-2zM418 142h1v1h-1zM420 142h3v1h-3zM437 142h1v1h-1zM445 142h2v1h-2zM448 142h2v1h-2zM453 142h3v1h-3zM407 143h2v1h-2zM416 143h3v1h-3zM421 143h1v1h-1zM423 143h1v1h-1zM425 143h2v1h-2zM427 143h1v1h-1zM435 143h3v1h-3zM442 143h2v1h-2zM419 144h2v1h-2zM439 144h3v1h-3zM442 144h1v1h-1zM449 144h1v1h-1zM453 144h1v1h-1zM410 145h1v1h-1zM415 145h1v1h-1zM417 145h2v1h-2zM426 145h1v1h-1zM427 145h1v1h-1zM428 145h1v1h-1zM430 145h1v1h-1zM433 145h1v1h-1zM457 145h1v1h-1zM414 146h1v1h-1zM426 146h3v1h-3zM441 146h1v1h-1zM448 146h3v1h-3zM408 147h1v1h-1zM438 147h2v1h-2zM450 147h1v1h-1zM411 148h3v1h-3zM416 148h1v1h-1zM436 148h2v1h-2zM439 148h2v1h-2zM442 148h1v1h-1zM446 148h2v1h-2zM450 148h1v1h-1zM453 148h1v1h-1zM456 148h2v1h-2zM407 149h1v1h-1zM414 149h1v1h-1zM430 149h2v1h-2zM438 149h1v1h-1zM441 149h1v1h-1zM444 149h3v1h-3zM450 149h2v1h-2zM408 150h2v1h-2zM418 150h1v1h-1zM424 150h2v1h-2zM457 150h2v1h-2zM412 151h1v1h-1zM414 151h1v1h-1zM420 151h1v1h-1zM422 151h1v1h-1zM425 151h3v1h-3zM454 151h1v1h-1zM406 152h3v1h-3zM416 152h1v1h-1zM417 152h2v1h-2zM424 152h1v1h-1zM430 152h1v1h-1zM432 152h1v1h-1zM434 152h3v1h-3zM454 152h2v1h-2zM409 153h1v1h-1zM419 153h1v1h-1zM422 153h2v1h-2zM428 153h1v1h-1zM435 153h1v1h-1zM437 153h2v1h-2zM441 153h2v1h-2zM457 153h2v1h-2zM411 154h1v1h-1zM426 154h1v1h-1zM433 154h1v1h-1zM439 154h1v1h-1zM416 155h2v1h-2zM428 155h1v1h-1zM433 155h1v1h-1zM446 155h3v1h-3zM451 155h2v1h-2z"/>
<path fill="#1a1a1a" fill-opacity="0.57" d="M407 120h1v1h-1zM411 120h1v1h-1zM418 120h2v1h-2zM420 120h1v1h-1zM422 120h3v1h-3zM429 120h3v1h-3zM435 120h2v1h-2zM443 120h1v1h-1zM444 120h2v1h-2zM449 120h3v1h-3zM453 120h1v1h-1zM417 121h1v1h-1zM420 121h2v1h-2zM427 121h1v1h-1zM432 121h2v1h-2zM450 121h3v1h-3zM453 121h3v1h-3zM413 122h1v1h-1zM445 122h1v1h-1zM457 122h1v1h-1zM409 123h1v1h-1zM434 123h2v1h-2zM438 123h2v1h-2zM441 123h2v1h-2zM446 123h3v1h-3zM406 124h3v1h-3zM414 124h2v1h-2zM420 124h3v1h-3zM423 124h2v1h-2zM426 124h2v1h-2zM429 124h1v1h-1zM437 124h2v1h-2zM407 125h3v1h-3zM418 125h1v1h-1zM422 125h3v1h-3zM435 125h1v1h-1zM432 126h2v1h-2zM446 126h1v1h-1zM414 127h1v1h-1zM415 127h1v1h-1zM418 127h1v1h-1zM422 127h2v1h-2zM436 127h2v1h-2zM444 127h2v1h-2zM449 127h1v1h-1zM452 127h2v1h-2zM454 127h1v1h-1zM417 128h1v1h-1zM427 128h1v1h-1zM428 128h3v1h-3zM431 128h1v1h-1zM435 128h2v1h-2zM439 128h1v1h-1zM442 128h3v1h-3zM446 128h1v1h-1zM449 128h2v1h-2zM452 128h2v1h-2zM458 128h1v1h-1zM407 129h1v1h-1zM412 129h1v1h-1zM413 129h2v1h-2zM415 129h1v1h-1zM424 129h3v1h-3zM427 129h2v1h-2zM433 129h1v1h-1zM434 129h1v1h-1zM442 129h1v1h-1zM443 129h2v1h-2zM447 129h1v1h-1zM448 129h1v1h-1zM449 129h2v1h-2zM452 129h3v1h-3zM418 130h2v1h-2zM429 130h3v1h-3zM447 130h1v1h-1zM451 130h1v1h-1zM456 130h2v1h-2zM408 131h2v1h-2zM425 131h2v1h-2zM427 131h1v1h-1zM433 131h2v1h-2zM446 131h2v1h-2zM457 131h1v1h-1zM410 132h1v1h-1zM416 132h3v1h-3zM432 132h3v1h-3zM451 132h1v1h-1zM458 132h1v1h-1zM409 133h1v1h-1zM416 133h2v1h-2zM418 133h2v1h-2zM422 133h1v1h-1zM431 133h1v1h-1zM433 133h1v1h-1zM450 133h1v1h-1zM457 133h2v1h-2zM410 134h3v1h-3zM416 134h2v1h-2zM418 134h2v1h-2zM423 134h1v1h-1zM427 134h1v1h-1zM428 134h1v1h-1zM429 134h2v1h-2zM441 134h1v1h-1zM442 134h2v1h-2zM411 135h3v1h-3zM414 135h1v1h-1zM424 135h1v1h-1zM425 135h2v1h-2zM428 135h2v1h-2zM431 135h1v1h-1zM436 135h1v1h-1zM444 135h1v1h-1zM454 135h1v1h-1zM455 135h2v1h-2zM406 136h1v1h-1zM415 136h2v1h-2zM438 136h1v1h-1zM452 136h1v1h-1zM453 136h2v1h-2zM457 136h1v1h-1zM414 137h2v1h-2zM416 137h1v1h-1zM417 137h1v1h-1zM418 137h1v1h-1zM429 137h1v1h-1zM430 137h1v1h-1zM431 137h3v1h-3zM448 137h2v1h-2zM450 137h1v1h-1zM452 137h1v1h-1zM456 137h1v1h-1zM458 137h1v1h-1zM408 138h3v1h-3zM412 138h1v1h-1zM415 138h2v1h-2zM443 138h3v1h-3zM450 138h1v1h-1zM451 138h1v1h-1zM455 138h1v1h-1zM410 139h1v1h-1zM418 139h2v1h-2zM422 139h2v1h-2zM424 139h2v1h-2zM435 139h1v1h-1zM448 139h2v1h-2zM406 140h3v1h-3zM411 140h1v1h-1zM420 140h1v1h-1zM422 140h1v1h-1zM431 140h2v1h-2zM439 140h1v1h-1zM452 140h1v1h-1zM407 141h1v1h-1zM418 141h2v1h-2zM430 141h2v1h-2zM435 141h1v1h-1zM447 141h1v1h-1zM452 141h1v1h-1zM456 141h2v1h-2zM458 141h1v1h-1zM406 142h1v1h-1zM407 142h2v1h-2zM409 142h2v1h-2zM423 142h3v1h-3zM432 142h2v1h-2zM434 142h2v1h-2zM410 143h1v1h-1zM429 143h1v1h-1zM431 143h1v1h-1zM444 143h1v1h-1zM447 143h1v1h-1zM451 143h1v1h-1zM458 143h1v1h-1zM408 144h1v1h-1zM417 144h1v1h-1zM418 144h1v1h-1zM426 144h1v1h-1zM435 144h1v1h-1zM436 144h2v1h-2zM446 144h1v1h-1zM406 145h1v1h-1zM407 145h3v1h-3zM412 145h3v1h-3zM421 145h1v1h-1zM434 145h1v1h-1zM435 145h3v1h-3zM438 145h3v1h-3zM441 145h1v1h-1zM442 145h2v1h-2zM444 145h1v1h-1zM450 145h2v1h-2zM452 145h2v1h-2zM454 145h3v1h-3zM458 145h1v1h-1zM406 146h1v1h-1zM409 146h1v1h-1zM411 146h3v1h-3zM416 146h3v1h-3zM420 146h1v1h-1zM422 146h1v1h-1zM438 146h2v1h-2zM455 146h2v1h-2zM414 147h1v1h-1zM423 147h3v1h-3zM435 147h2v1h-2zM442 147h1v1h-1zM444 147h1v1h-1zM452 147h1v1h-1zM456 147h1v1h-1zM457 147h1v1h-1zM458 147h1v1h-1zM420 148h1v1h-1zM421 148h1v1h-1zM423 148h1v1h-1zM443 148h3v1h-3zM448 148h2v1h-2zM451 148h1v1h-1zM458 148h1v1h-1zM416 149h3v1h-3zM422 149h2v1h-2zM426 149h1v1h-1zM427 149h3v1h-3zM439 149h2v1h-2zM448 149h2v1h-2zM454 149h1v1h-1zM416 150h2v1h-2zM426 150h2v1h-2zM446 150h1v1h-1zM450 150h1v1h-1zM406 151h1v1h-1zM410 151h1v1h-1zM415 151h1v1h-1zM424 151h1v1h-1zM433 151h3v1h-3zM437 151h1v1h-1zM441 151h1v1h-1zM447 151h1v1h-1zM456 151h3v1h-3zM409 152h2v1h-2zM421 152h3v1h-3zM425 152h1v1h-1zM426 152h2v1h-2zM433 152h1v1h-1zM438 152h3v1h-3zM445 152h1v1h-1zM449 152h1v1h-1zM450 152h1v1h-1zM451 152h2v1h-2zM456 152h3v1h-3zM411 153h1v1h-1zM415 153h2v1h-2zM417 153h2v1h-2zM421 153h1v1h-1zM425 153h3v1h-3zM450 153h1v1h-1zM452 153h2v1h-2zM408 154h3v1h-3zM417 154h1v1h-1zM424 154h2v1h-2zM438 154h1v1h-1zM441 154h1v1h-1zM455 154h1v1h-1zM456 154h3v1h-3zM443 155h1v1h-1zM449 155h1v1h-1z"/>
<text x="228" y="61.8" font-size="8.3" fill="#333" textLength="10.3" lengthAdjust="spacingAndGlyphs">PN</text>
<text x="242.2" y="61.8" font-size="8.3" fill="#c8873a" textLength="17.8" lengthAdjust="spacingAndGlyphs">SOM</text>
<text x="228" y="71.1" font-size="8.3" fill="#b0507c" textLength="10" lengthAdjust="spacingAndGlyphs">PV</text>
<text x="241.6" y="71.1" font-size="8.3" fill="#6aa5ad" textLength="11.5" lengthAdjust="spacingAndGlyphs">VIP</text>
<rect x="227.5" y="157.8" width="5" height="1" fill="#333"/>
<rect x="285.5" y="157.8" width="5" height="1" fill="#333"/>
<rect x="346" y="157.8" width="5" height="1" fill="#333"/>
<rect x="406" y="157.8" width="5" height="1" fill="#333"/>
<text x="226.8" y="165.2" font-size="6.4" fill="#333" textLength="19.2" lengthAdjust="spacingAndGlyphs">100 ms</text>
<text x="480.9" y="13.5" font-size="15.6" fill="#111">c</text>
<path d="M515 15.8V143.0H676.9" stroke="#3a3a3a" stroke-width="1.3" fill="none"/>
<path d="M512.8 142.9H515" stroke="#3a3a3a" stroke-width="1.1"/>
<text x="510.6" y="145.7" font-size="7.8" fill="#333" text-anchor="end">0</text>
<path d="M512.8 117.45H515" stroke="#3a3a3a" stroke-width="1.1"/>
<text x="510.6" y="120.25" font-size="7.8" fill="#333" text-anchor="end">5</text>
<path d="M512.8 92H515" stroke="#3a3a3a" stroke-width="1.1"/>
<text x="510.6" y="94.8" font-size="7.8" fill="#333" text-anchor="end">10</text>
<path d="M512.8 66.55H515" stroke="#3a3a3a" stroke-width="1.1"/>
<text x="510.6" y="69.35" font-size="7.8" fill="#333" text-anchor="end">15</text>
<path d="M512.8 41.1H515" stroke="#3a3a3a" stroke-width="1.1"/>
<text x="510.6" y="43.9" font-size="7.8" fill="#333" text-anchor="end">20</text>
<path d="M512.8 15.65H515" stroke="#3a3a3a" stroke-width="1.1"/>
<text x="510.6" y="18.45" font-size="7.8" fill="#333" text-anchor="end">25</text>
<path d="M569 143V145.2" stroke="#3a3a3a" stroke-width="1.1"/>
<path d="M622.7 143V145.2" stroke="#3a3a3a" stroke-width="1.1"/>
<path d="M676.4 143V145.2" stroke="#3a3a3a" stroke-width="1.1"/>
<text x="507.4" y="154.5" font-size="8.7" fill="#333" textLength="19.8" lengthAdjust="spacingAndGlyphs">None</text>
<text x="561.5" y="155" font-size="8.7" fill="#333" textLength="15.2" lengthAdjust="spacingAndGlyphs">Low</text>
<text x="613.7" y="154.3" font-size="8.7" fill="#333" textLength="16.4" lengthAdjust="spacingAndGlyphs">Med</text>
<text x="667" y="153.8" font-size="8.7" fill="#333" textLength="18.5" lengthAdjust="spacingAndGlyphs">High</text>
<text x="560.2" y="165.9" font-size="10.2" fill="#333" textLength="75.4" lengthAdjust="spacingAndGlyphs">Stimulus Strength</text>
<text x="500.4" y="74.1" font-size="9.2" fill="#333" text-anchor="middle" textLength="63.4" lengthAdjust="spacingAndGlyphs" transform="rotate(-90 500.4 74.1)">Firing Rate (Hz)</text>
<text x="522.7" y="23.8" font-size="9.9" fill="#333" textLength="11.4" lengthAdjust="spacingAndGlyphs">PN</text>
<text x="522.7" y="35.8" font-size="9.9" fill="#b0447a" textLength="10.6" lengthAdjust="spacingAndGlyphs">PV</text>
<text x="522.7" y="47.9" font-size="9.9" fill="#c88a40" textLength="20.1" lengthAdjust="spacingAndGlyphs">SOM</text>
<text x="522.7" y="59.8" font-size="9.9" fill="#7fb3b8" textLength="13.4" lengthAdjust="spacingAndGlyphs">VIP</text>
<polyline points="515,123.56 569,107.47 622.7,100.14 676.4,86.91" fill="none" stroke="#333333" stroke-width="1.3"/>
<circle cx="515" cy="123.56" r="1.3" fill="#333333"/>
<path d="M512.4 121.52L517.6 121.52M513.16 119.68L516.84 123.36M515 118.92L515 124.12M516.84 119.68L513.16 123.36" stroke="#333333" stroke-width="0.7" fill="none"/>
<circle cx="569" cy="107.47" r="1.3" fill="#333333"/>
<path d="M566.4 106.25L571.6 106.25M567.16 104.41L570.84 108.09M569 103.65L569 108.85M570.84 104.41L567.16 108.09" stroke="#333333" stroke-width="0.7" fill="none"/>
<circle cx="622.7" cy="100.14" r="1.3" fill="#333333"/>
<path d="M620.1 98.62L625.3 98.62M620.86 96.78L624.54 100.46M622.7 96.02L622.7 101.22M624.54 96.78L620.86 100.46" stroke="#333333" stroke-width="0.7" fill="none"/>
<circle cx="676.4" cy="86.91" r="1.3" fill="#333333"/>
<path d="M673.8 85.89L679 85.89M674.56 84.05L678.24 87.73M676.4 83.29L676.4 88.49M678.24 84.05L674.56 87.73" stroke="#333333" stroke-width="0.7" fill="none"/>
<polyline points="515,116.43 569,77.24 622.7,56.37 676.4,19.72" fill="none" stroke="#b04878" stroke-width="1.3"/>
<circle cx="515" cy="116.43" r="1.3" fill="#b04878"/>
<path d="M512.4 113.38L517.6 113.38M513.16 111.54L516.84 115.22M515 110.78L515 115.98M516.84 111.54L513.16 115.22" stroke="#b04878" stroke-width="0.7" fill="none"/>
<circle cx="569" cy="77.24" r="1.3" fill="#b04878"/>
<path d="M566.4 75.71L571.6 75.71M567.16 73.87L570.84 77.55M569 73.11L569 78.31M570.84 73.87L567.16 77.55" stroke="#b04878" stroke-width="0.7" fill="none"/>
<circle cx="622.7" cy="56.37" r="1.3" fill="#b04878"/>
<path d="M620.1 55.35L625.3 55.35M620.86 53.51L624.54 57.19M622.7 52.75L622.7 57.95M624.54 53.51L620.86 57.19" stroke="#b04878" stroke-width="0.7" fill="none"/>
<circle cx="676.4" cy="19.72" r="1.3" fill="#b04878"/>
<path d="M673.8 18.7L679 18.7M674.56 16.87L678.24 20.54M676.4 16.1L676.4 21.3M678.24 16.87L674.56 20.54" stroke="#b04878" stroke-width="0.7" fill="none"/>
<polyline points="515,142.9 569,126.61 622.7,101.16 676.4,53.32" fill="none" stroke="#c8842e" stroke-width="1.3"/>
<circle cx="515" cy="142.9" r="1.3" fill="#c8842e"/>
<path d="M512.4 142.9L517.6 142.9M513.16 141.06L516.84 144.74M515 140.3L515 145.5M516.84 141.06L513.16 144.74" stroke="#c8842e" stroke-width="0.7" fill="none"/>
<circle cx="569" cy="126.61" r="1.3" fill="#c8842e"/>
<path d="M566.4 125.59L571.6 125.59M567.16 123.76L570.84 127.43M569 122.99L569 128.19M570.84 123.76L567.16 127.43" stroke="#c8842e" stroke-width="0.7" fill="none"/>
<circle cx="622.7" cy="101.16" r="1.3" fill="#c8842e"/>
<path d="M620.1 99.64L625.3 99.64M620.86 97.8L624.54 101.47M622.7 97.04L622.7 102.23M624.54 97.8L620.86 101.47" stroke="#c8842e" stroke-width="0.7" fill="none"/>
<circle cx="676.4" cy="53.32" r="1.3" fill="#c8842e"/>
<path d="M673.8 52.3L679 52.3M674.56 50.46L678.24 54.14M676.4 49.7L676.4 54.9M678.24 50.46L674.56 54.14" stroke="#c8842e" stroke-width="0.7" fill="none"/>
<polyline points="515,135.27 569,131.19 622.7,126.1 676.4,113.38" fill="none" stroke="#5fa0a8" stroke-width="1.3"/>
<circle cx="515" cy="135.27" r="1.3" fill="#5fa0a8"/>
<path d="M512.4 131.7L517.6 131.7M513.16 129.86L516.84 133.54M515 129.1L515 134.3M516.84 129.86L513.16 133.54" stroke="#5fa0a8" stroke-width="0.7" fill="none"/>
<circle cx="569" cy="131.19" r="1.3" fill="#5fa0a8"/>
<path d="M566.4 128.14L571.6 128.14M567.16 126.3L570.84 129.98M569 125.54L569 130.74M570.84 126.3L567.16 129.98" stroke="#5fa0a8" stroke-width="0.7" fill="none"/>
<circle cx="622.7" cy="126.1" r="1.3" fill="#5fa0a8"/>
<path d="M620.1 122.54L625.3 122.54M620.86 120.7L624.54 124.38M622.7 119.94L622.7 125.14M624.54 120.7L620.86 124.38" stroke="#5fa0a8" stroke-width="0.7" fill="none"/>
<circle cx="676.4" cy="113.38" r="1.3" fill="#5fa0a8"/>
<path d="M673.8 111.34L679 111.34M674.56 109.5L678.24 113.18M676.4 108.74L676.4 113.94M678.24 109.5L674.56 113.18" stroke="#5fa0a8" stroke-width="0.7" fill="none"/>
<text x="3.1" y="201.8" font-size="15.4" fill="#111">d</text>
<g fill="none" stroke="#6fa9b0" stroke-width="0.7" stroke-dasharray="0.7 1.7" stroke-opacity="0.3"><polyline points="24,330.53 73.6,331.59 122.7,331.04 171.4,329.92"/><polyline points="24,331.72 73.6,314.41 122.7,308.12 171.4,294.14"/><polyline points="24,331.84 73.6,309.08 122.7,299.3 171.4,285.12"/><polyline points="24,326.37 73.6,309.51 122.7,303.42 171.4,291.9"/><polyline points="24,331.72 73.6,302.02 122.7,293.67 171.4,282.56"/><polyline points="24,328.62 73.6,316.81 122.7,314.03 171.4,304.49"/><polyline points="24,332.26 73.6,306.75 122.7,298.09 171.4,276.37"/><polyline points="24,332.65 73.6,300.52 122.7,292.36 171.4,271.18"/><polyline points="24,328.06 73.6,318.95 122.7,315.7 171.4,303.55"/><polyline points="24,330.08 73.6,308.53 122.7,304.08 171.4,285.88"/><polyline points="24,328.09 73.6,289.13 122.7,280.66 171.4,262.6"/><polyline points="24,329.92 73.6,314.45 122.7,309.76 171.4,295.22"/><polyline points="24,325.88 73.6,300.51 122.7,292.11 171.4,264.88"/><polyline points="24,330.67 73.6,317.32 122.7,313.88 171.4,304.1"/><polyline points="24,330.83 73.6,329.72 122.7,328.91 171.4,326.01"/><polyline points="24,331.53 73.6,320.11 122.7,318.01 171.4,309.56"/><polyline points="24,331.74 73.6,301.37 122.7,292.93 171.4,268.3"/><polyline points="24,329.55 73.6,323.93 122.7,320.25 171.4,309.64"/><polyline points="24,326.45 73.6,293.75 122.7,289.09 171.4,257.67"/><polyline points="24,329.84 73.6,327.59 122.7,326.3 171.4,322.65"/><polyline points="24,332.47 73.6,330.32 122.7,330.07 171.4,327.51"/><polyline points="24,331.65 73.6,295.31 122.7,291.05 171.4,272.28"/><polyline points="24,332.45 73.6,326.07 122.7,324.93 171.4,322.1"/><polyline points="24,330.83 73.6,321.33 122.7,316.45 171.4,308.98"/><polyline points="24,328.71 73.6,287.7 122.7,272.87 171.4,241.64"/><polyline points="24,330.38 73.6,329.24 122.7,328.27 171.4,326.55"/><polyline points="24,329.22 73.6,313.22 122.7,310.05 171.4,296.77"/><polyline points="24,328.1 73.6,291.52 122.7,282.75 171.4,248.6"/><polyline points="24,330.51 73.6,329.69 122.7,328.62 171.4,325.03"/><polyline points="24,329.58 73.6,293.95 122.7,289.31 171.4,271.24"/><polyline points="24,326.16 73.6,301.23 122.7,286.98 171.4,266.38"/><polyline points="24,327.38 73.6,309.17 122.7,304.1 171.4,288.52"/><polyline points="24,331.33 73.6,299.83 122.7,293.76 171.4,277.44"/><polyline points="24,327.09 73.6,300.74 122.7,293.96 171.4,276.01"/><polyline points="24,327.61 73.6,306.82 122.7,306.46 171.4,294.29"/><polyline points="24,330.23 73.6,316.93 122.7,311.45 171.4,299.51"/><polyline points="24,331.98 73.6,315.78 122.7,310.87 171.4,301.7"/><polyline points="24,330.96 73.6,304.5 122.7,296.56 171.4,282.53"/><polyline points="24,332.09 73.6,332.55 122.7,332.5 171.4,332.44"/><polyline points="24,327.15 73.6,304.85 122.7,300.26 171.4,281.02"/><polyline points="24,325.27 73.6,286 122.7,268.68 171.4,226.38"/><polyline points="24,330.63 73.6,332.4 122.7,332.26 171.4,331.96"/><polyline points="24,331.84 73.6,332.51 122.7,332.43 171.4,332.15"/><polyline points="24,329.57 73.6,286.81 122.7,277.83 171.4,245.54"/><polyline points="24,330.52 73.6,311.52 122.7,307.06 171.4,291.58"/><polyline points="24,328.98 73.6,323.95 122.7,321.7 171.4,318.13"/><polyline points="24,332.03 73.6,322.81 122.7,322.64 171.4,317.33"/><polyline points="24,325.04 73.6,281.41 122.7,268.64 171.4,228.55"/><polyline points="24,328.45 73.6,304.2 122.7,299.27 171.4,279.26"/><polyline points="24,325.31 73.6,298.68 122.7,286.07 171.4,255.27"/><polyline points="24,326.15 73.6,307.41 122.7,302.42 171.4,284.21"/><polyline points="24,332.22 73.6,289.23 122.7,276.99 171.4,255.97"/><polyline points="24,328.24 73.6,309.36 122.7,300.59 171.4,285.36"/><polyline points="24,331.95 73.6,318.17 122.7,316.2 171.4,308.47"/><polyline points="24,330.11 73.6,321.72 122.7,316.73 171.4,308.63"/><polyline points="24,331.92 73.6,329.64 122.7,329.13 171.4,326.7"/><polyline points="24,326.22 73.6,296.2 122.7,289.78 171.4,268.31"/><polyline points="24,330.06 73.6,319.83 122.7,318.11 171.4,307.92"/><polyline points="24,332.7 73.6,313.07 122.7,310.33 171.4,295.7"/><polyline points="24,324.72 73.6,294.82 122.7,281.23 171.4,255.25"/><polyline points="24,327.43 73.6,294.78 122.7,288.83 171.4,263.68"/><polyline points="24,329.58 73.6,310.59 122.7,299.98 171.4,279.33"/><polyline points="24,327.43 73.6,290.86 122.7,278.79 171.4,242.14"/><polyline points="24,331.84 73.6,327.73 122.7,326.24 171.4,321.71"/><polyline points="24,328.39 73.6,308.92 122.7,300.8 171.4,276.16"/><polyline points="24,325.88 73.6,289.17 122.7,284.94 171.4,260.91"/><polyline points="24,330.97 73.6,282.14 122.7,273.67 171.4,242.6"/><polyline points="24,330.84 73.6,311.07 122.7,307.89 171.4,293.56"/><polyline points="24,326.21 73.6,309.4 122.7,303.99 171.4,292.79"/><polyline points="24,326.94 73.6,311.56 122.7,304.6 171.4,294.31"/><polyline points="24,331.09 73.6,301.7 122.7,292.25 171.4,275.3"/><polyline points="24,327.07 73.6,309.69 122.7,304.17 171.4,293.43"/><polyline points="24,330.44 73.6,298.03 122.7,292.99 171.4,263.04"/><polyline points="24,330.13 73.6,329.61 122.7,328.33 171.4,326.67"/><polyline points="24,330.07 73.6,320.08 122.7,315.4 171.4,304.13"/><polyline points="24,331.37 73.6,310.84 122.7,308.22 171.4,294.61"/><polyline points="24,332.51 73.6,303.84 122.7,296.31 171.4,276.31"/><polyline points="24,329.5 73.6,324.78 122.7,322.01 171.4,314.72"/><polyline points="24,328.52 73.6,320.82 122.7,317.11 171.4,308.57"/><polyline points="24,330.71 73.6,303.36 122.7,294.11 171.4,265.97"/><polyline points="24,329.2 73.6,309.95 122.7,301.79 171.4,281.97"/><polyline points="24,328.41 73.6,283.56 122.7,271.24 171.4,249.83"/><polyline points="24,332.35 73.6,323.29 122.7,321.45 171.4,314.68"/><polyline points="24,329.73 73.6,328.28 122.7,327.3 171.4,324.32"/><polyline points="24,332.24 73.6,306.62 122.7,295.7 171.4,278.39"/><polyline points="24,328.39 73.6,310.2 122.7,301.31 171.4,288.27"/><polyline points="24,331.75 73.6,332.03 122.7,331.68 171.4,330.68"/><polyline points="24,331.92 73.6,329.85 122.7,329.08 171.4,327.31"/><polyline points="24,328.5 73.6,317.28 122.7,312.01 171.4,299.81"/><polyline points="24,330.41 73.6,303.48 122.7,294.92 171.4,272.5"/><polyline points="24,327.04 73.6,309.61 122.7,301.97 171.4,291.88"/><polyline points="24,332.6 73.6,298.71 122.7,288.87 171.4,262.06"/><polyline points="24,328.95 73.6,286.73 122.7,270.97 171.4,254.95"/><polyline points="24,330.7 73.6,306.85 122.7,299.07 171.4,277.54"/><polyline points="24,328.69 73.6,313.41 122.7,305.34 171.4,291.73"/><polyline points="24,328.12 73.6,314.06 122.7,311.08 171.4,298.89"/><polyline points="24,331.24 73.6,316.27 122.7,313.57 171.4,305"/><polyline points="24,330.91 73.6,329.67 122.7,328.06 171.4,324.62"/><polyline points="24,329.9 73.6,316 122.7,312.21 171.4,304.02"/><polyline points="24,329.7 73.6,328.91 122.7,327.98 171.4,325.14"/><polyline points="24,332.18 73.6,313.52 122.7,312.17 171.4,296.81"/><polyline points="24,331.65 73.6,324.58 122.7,321.54 171.4,313.32"/><polyline points="24,328.16 73.6,311.22 122.7,304.37 171.4,292.29"/><polyline points="24,328.15 73.6,312.02 122.7,306.97 171.4,296.07"/><polyline points="24,329.57 73.6,328.84 122.7,327.67 171.4,324.66"/><polyline points="24,331.12 73.6,292.22 122.7,286.68 171.4,249.22"/><polyline points="24,331.66 73.6,330.36 122.7,329.38 171.4,326.97"/><polyline points="24,324.7 73.6,295.77 122.7,282.23 171.4,267.82"/><polyline points="24,328.52 73.6,311.49 122.7,306.26 171.4,290.82"/><polyline points="24,330.45 73.6,313.08 122.7,305.04 171.4,296.45"/><polyline points="24,330.67 73.6,327.54 122.7,325.32 171.4,321.06"/><polyline points="24,329.16 73.6,291.45 122.7,281.63 171.4,252.86"/><polyline points="24,331.17 73.6,315.6 122.7,312.16 171.4,302.14"/><polyline points="24,331.2 73.6,301.67 122.7,295.05 171.4,263.63"/><polyline points="24,328.29 73.6,291.23 122.7,285.13 171.4,270.61"/><polyline points="24,326.62 73.6,281.63 122.7,262.78 171.4,223.68"/><polyline points="24,332.43 73.6,325.91 122.7,325.72 171.4,322.22"/><polyline points="24,331.18 73.6,329.78 122.7,329.12 171.4,327.64"/><polyline points="24,328.86 73.6,315.8 122.7,314.49 171.4,305.06"/><polyline points="24,331.9 73.6,329.34 122.7,328.09 171.4,324.3"/><polyline points="24,330.37 73.6,314.17 122.7,313.07 171.4,301.2"/><polyline points="24,326.26 73.6,295.7 122.7,290.18 171.4,274.18"/><polyline points="24,330.47 73.6,311.93 122.7,310.22 171.4,299.75"/><polyline points="24,326.75 73.6,304.27 122.7,295.89 171.4,269.74"/><polyline points="24,331.74 73.6,332.1 122.7,331.96 171.4,331.5"/><polyline points="24,330.06 73.6,325.23 122.7,323.41 171.4,316.16"/><polyline points="24,328.28 73.6,315.9 122.7,312.44 171.4,300.79"/><polyline points="24,332.47 73.6,318.77 122.7,315.57 171.4,303.97"/><polyline points="24,326.29 73.6,306.54 122.7,300.25 171.4,284.59"/><polyline points="24,331.52 73.6,319.93 122.7,314.84 171.4,301.24"/><polyline points="24,330.05 73.6,323.11 122.7,321.07 171.4,317.31"/><polyline points="24,330.24 73.6,328.94 122.7,327.67 171.4,324.46"/><polyline points="24,329.34 73.6,320.83 122.7,318.25 171.4,306.47"/><polyline points="24,331.27 73.6,290.94 122.7,288.31 171.4,262.99"/><polyline points="24,328.26 73.6,305.58 122.7,302.2 171.4,290.77"/><polyline points="24,330.31 73.6,303.26 122.7,293.68 171.4,262.76"/><polyline points="24,328.66 73.6,304.73 122.7,298.71 171.4,271.92"/><polyline points="24,332.17 73.6,327.25 122.7,325.62 171.4,321.49"/><polyline points="24,325.55 73.6,294.78 122.7,293.43 171.4,271.95"/><polyline points="24,332.53 73.6,332.34 122.7,332.19 171.4,331.85"/><polyline points="24,331.53 73.6,332.13 122.7,332.03 171.4,331.44"/><polyline points="24,328.72 73.6,294.39 122.7,286.97 171.4,261.58"/><polyline points="24,331.02 73.6,291.16 122.7,276.83 171.4,243.54"/><polyline points="24,330.05 73.6,326.98 122.7,325.71 171.4,319.58"/><polyline points="24,326.85 73.6,308.46 122.7,300.07 171.4,283.16"/><polyline points="24,325.02 73.6,291.35 122.7,289.34 171.4,254.42"/><polyline points="24,332.12 73.6,298.92 122.7,285.01 171.4,257.07"/><polyline points="24,328.62 73.6,317.89 122.7,312.53 171.4,300.78"/><polyline points="24,330.67 73.6,331.72 122.7,331.24 171.4,330.23"/><polyline points="24,332.23 73.6,331.26 122.7,330.38 171.4,328.77"/><polyline points="24,332.67 73.6,324.73 122.7,323.02 171.4,319.32"/><polyline points="24,328.79 73.6,307.97 122.7,300.69 171.4,282.1"/><polyline points="24,330.41 73.6,324.28 122.7,320.53 171.4,312.46"/><polyline points="24,331.09 73.6,319.51 122.7,317.55 171.4,306.93"/><polyline points="24,331.59 73.6,323.38 122.7,319.39 171.4,310.93"/><polyline points="24,330.55 73.6,327.56 122.7,326.62 171.4,324.06"/><polyline points="24,326.95 73.6,304.12 122.7,300.39 171.4,289.78"/><polyline points="24,330.24 73.6,320.48 122.7,318.48 171.4,312.75"/><polyline points="24,324.41 73.6,280.89 122.7,274.72 171.4,241.53"/><polyline points="24,330.07 73.6,314.45 122.7,312.21 171.4,296.55"/><polyline points="24,326.41 73.6,290.08 122.7,278.96 171.4,256.9"/><polyline points="24,329.32 73.6,307 122.7,297.95 171.4,279.08"/><polyline points="24,330.19 73.6,281.24 122.7,273.85 171.4,232.99"/><polyline points="24,326.8 73.6,297.64 122.7,286.87 171.4,273.54"/><polyline points="24,330.01 73.6,308.15 122.7,304.93 171.4,283.29"/><polyline points="24,332.68 73.6,294.94 122.7,283.22 171.4,251.28"/><polyline points="24,330.71 73.6,315.62 122.7,310.53 171.4,304.89"/><polyline points="24,326.5 73.6,290.86 122.7,279.71 171.4,253.68"/><polyline points="24,332.21 73.6,326.79 122.7,325.89 171.4,322.17"/><polyline points="24,328.68 73.6,294.65 122.7,283.33 171.4,261.26"/><polyline points="24,331.95 73.6,291.13 122.7,287.22 171.4,250.25"/><polyline points="24,325.72 73.6,294.92 122.7,287.04 171.4,276.23"/><polyline points="24,328.17 73.6,296.45 122.7,283.82 171.4,269.76"/><polyline points="24,326.36 73.6,297.7 122.7,291.07 171.4,272.78"/><polyline points="24,327.89 73.6,309.27 122.7,307.15 171.4,295.79"/><polyline points="24,328.73 73.6,322.37 122.7,320.92 171.4,314.92"/><polyline points="24,331.93 73.6,316.93 122.7,311.95 171.4,299.56"/><polyline points="24,328.24 73.6,299.44 122.7,288.1 171.4,275.28"/><polyline points="24,328.34 73.6,295.01 122.7,285.54 171.4,249.54"/><polyline points="24,329.44 73.6,325.5 122.7,324.84 171.4,319.21"/><polyline points="24,331.29 73.6,330.53 122.7,330.09 171.4,328.29"/><polyline points="24,329.28 73.6,326.86 122.7,325.83 171.4,320.43"/><polyline points="24,330.57 73.6,313.93 122.7,309.46 171.4,303.41"/><polyline points="24,331.8 73.6,302.97 122.7,300.55 171.4,289.71"/><polyline points="24,332.42 73.6,295.32 122.7,282.76 171.4,261.2"/><polyline points="24,327.34 73.6,301.85 122.7,293.35 171.4,270.41"/><polyline points="24,329.87 73.6,322.93 122.7,321 171.4,317.06"/><polyline points="24,332.31 73.6,321.74 122.7,318.44 171.4,312.05"/><polyline points="24,326.73 73.6,306.01 122.7,302.03 171.4,292.42"/><polyline points="24,329.53 73.6,310.39 122.7,305.88 171.4,283.05"/><polyline points="24,330.67 73.6,319.2 122.7,318.43 171.4,308.03"/><polyline points="24,329.9 73.6,318.52 122.7,314.25 171.4,306.01"/><polyline points="24,332.41 73.6,329.78 122.7,328.71 171.4,325.84"/><polyline points="24,330.76 73.6,317.53 122.7,315.36 171.4,308.73"/><polyline points="24,330.58 73.6,331.12 122.7,330.57 171.4,328.71"/><polyline points="24,332.22 73.6,304.04 122.7,297.68 171.4,277.84"/><polyline points="24,324.44 73.6,298.82 122.7,286.48 171.4,273.97"/><polyline points="24,330.22 73.6,321.91 122.7,318.41 171.4,311.55"/><polyline points="24,329.38 73.6,308.84 122.7,301.4 171.4,280.51"/><polyline points="24,332.51 73.6,306.69 122.7,304.55 171.4,288.39"/></g>
<g fill="none" stroke="#444" stroke-width="0.6" stroke-dasharray="0.6 1.0" stroke-opacity="0.28"><polyline points="24,330.29 73.6,319.15 122.7,307.72 171.4,307.94"/><polyline points="24,331.16 73.6,324.11 122.7,322.75 171.4,311.27"/><polyline points="24,330.52 73.6,313.54 122.7,318.09 171.4,313.66"/><polyline points="24,331.3 73.6,319.36 122.7,318.26 171.4,307.59"/><polyline points="24,330.72 73.6,317.46 122.7,319.47 171.4,309.43"/><polyline points="24,331.61 73.6,325.26 122.7,320.96 171.4,322.37"/><polyline points="24,330.08 73.6,310.4 122.7,316.45 171.4,307.54"/><polyline points="24,332.16 73.6,328.5 122.7,327.56 171.4,327.52"/><polyline points="24,331.54 73.6,322.77 122.7,323.86 171.4,314"/><polyline points="24,332.05 73.6,327.3 122.7,325.49 171.4,320.71"/><polyline points="24,331.55 73.6,321.93 122.7,323.49 171.4,315.01"/><polyline points="24,331.54 73.6,323.97 122.7,324.31 171.4,318.39"/><polyline points="24,332.5 73.6,330.79 122.7,330.33 171.4,329.47"/><polyline points="24,331.14 73.6,323.4 122.7,317.56 171.4,311.72"/><polyline points="24,332.06 73.6,327.63 122.7,327.9 171.4,326.82"/><polyline points="24,332.36 73.6,330.49 122.7,328.57 171.4,328.84"/><polyline points="24,332.25 73.6,330.62 122.7,328.4 171.4,325.63"/><polyline points="24,331.09 73.6,322.87 122.7,312.82 171.4,309.81"/><polyline points="24,330.96 73.6,324.35 122.7,318.59 171.4,306.37"/><polyline points="24,332.24 73.6,328.62 122.7,329.72 171.4,328.12"/><polyline points="24,330.2 73.6,318.66 122.7,314.57 171.4,293.21"/><polyline points="24,332.47 73.6,331.36 122.7,331 171.4,329.85"/><polyline points="24,330.25 73.6,311.3 122.7,308.1 171.4,308.71"/><polyline points="24,331.7 73.6,326.47 122.7,322.25 171.4,318.31"/><polyline points="24,330.13 73.6,314.84 122.7,315.29 171.4,291.42"/><polyline points="24,330.87 73.6,317.14 122.7,309.04 171.4,300.74"/><polyline points="24,331.94 73.6,327.16 122.7,325.07 171.4,325.62"/><polyline points="24,330.52 73.6,322.83 122.7,305.72 171.4,296.05"/><polyline points="24,330.58 73.6,318.69 122.7,310.47 171.4,307.11"/><polyline points="24,329.94 73.6,307.66 122.7,315.04 171.4,287.23"/><polyline points="24,329.96 73.6,307.88 122.7,302.1 171.4,292.33"/><polyline points="24,330.13 73.6,315.93 122.7,308.02 171.4,302.14"/><polyline points="24,330.94 73.6,318.7 122.7,315.05 171.4,309.97"/><polyline points="24,330.01 73.6,308.17 122.7,307.55 171.4,284.97"/><polyline points="24,332.46 73.6,330.98 122.7,330.13 171.4,328.52"/><polyline points="24,330.94 73.6,318.21 122.7,312.2 171.4,315.78"/><polyline points="24,330.79 73.6,316.45 122.7,308.51 171.4,299.95"/><polyline points="24,331.7 73.6,323.27 122.7,319.97 171.4,315.49"/><polyline points="24,331.34 73.6,322.32 122.7,319.36 171.4,316.12"/><polyline points="24,332.26 73.6,329.51 122.7,328.52 171.4,326.9"/><polyline points="24,330.88 73.6,319.51 122.7,313.38 171.4,305.15"/><polyline points="24,331.62 73.6,324.86 122.7,324.88 171.4,323.4"/><polyline points="24,330.54 73.6,313.27 122.7,306.21 171.4,310.05"/><polyline points="24,330.53 73.6,322.65 122.7,312.77 171.4,312.12"/><polyline points="24,332.06 73.6,326.91 122.7,327.13 171.4,323.24"/><polyline points="24,330.58 73.6,318.54 122.7,314.03 171.4,295.67"/><polyline points="24,330.55 73.6,314.61 122.7,319.06 171.4,298.8"/><polyline points="24,330.66 73.6,315.11 122.7,315.56 171.4,306.37"/><polyline points="24,331.4 73.6,320.11 122.7,315.85 171.4,308.79"/><polyline points="24,332.29 73.6,330.82 122.7,328.09 171.4,328.03"/></g>
<g fill="none" stroke="#b04878" stroke-width="0.6" stroke-dasharray="0.6 1.0" stroke-opacity="0.22"><polyline points="24,330.53 73.6,310.67 122.7,302.71 171.4,273.7"/><polyline points="24,331.36 73.6,323.52 122.7,308.96 171.4,313.1"/><polyline points="24,331.29 73.6,320.44 122.7,310.83 171.4,304.14"/><polyline points="24,332.27 73.6,330.52 122.7,327.11 171.4,326.89"/><polyline points="24,330.48 73.6,310.91 122.7,302.82 171.4,298.46"/><polyline points="24,332.51 73.6,330.89 122.7,330.19 171.4,328.7"/><polyline points="24,330.37 73.6,320.65 122.7,292.21 171.4,280.02"/><polyline points="24,331.26 73.6,322.67 122.7,318.69 171.4,312.94"/><polyline points="24,331.14 73.6,319.1 122.7,309.34 171.4,310.72"/><polyline points="24,330.58 73.6,312.44 122.7,296.64 171.4,287.73"/><polyline points="24,331.99 73.6,328.79 122.7,321.13 171.4,312.4"/><polyline points="24,332.21 73.6,327.73 122.7,327.69 171.4,321.53"/><polyline points="24,331.26 73.6,322.31 122.7,308.92 171.4,296.38"/><polyline points="24,331.71 73.6,323.03 122.7,317.69 171.4,309.92"/><polyline points="24,331.27 73.6,319.03 122.7,308.1 171.4,311.66"/><polyline points="24,330.9 73.6,319.34 122.7,312.42 171.4,295.84"/><polyline points="24,330.5 73.6,320.22 122.7,305.24 171.4,273.87"/><polyline points="24,330.39 73.6,317.14 122.7,301.93 171.4,289.95"/><polyline points="24,332.5 73.6,331.33 122.7,329.85 171.4,328.75"/><polyline points="24,331.31 73.6,318.4 122.7,310.17 171.4,310.27"/><polyline points="24,330.58 73.6,322.42 122.7,309.67 171.4,298.25"/><polyline points="24,332.43 73.6,329.91 122.7,329.29 171.4,325.47"/><polyline points="24,331.15 73.6,322.38 122.7,307.94 171.4,290.46"/><polyline points="24,331.49 73.6,326.75 122.7,319.84 171.4,300.8"/><polyline points="24,332.12 73.6,327.87 122.7,322.41 171.4,320.95"/><polyline points="24,330.77 73.6,315.38 122.7,304.43 171.4,278.8"/><polyline points="24,330.64 73.6,315.71 122.7,312.94 171.4,302.04"/><polyline points="24,332.35 73.6,330.74 122.7,327.9 171.4,325.39"/><polyline points="24,331.01 73.6,315.98 122.7,305.59 171.4,308.9"/><polyline points="24,330.6 73.6,321.78 122.7,299.92 171.4,289.26"/></g>
<path d="M24.3 216.6V333.2H171.6" stroke="#3a3a3a" stroke-width="1.3" fill="none"/>
<polyline points="24,332.23 73.6,321.05 122.7,318.02 171.4,312.66" fill="none" stroke="#333333" stroke-width="1.4" stroke-linejoin="round"/>
<polyline points="24,331.77 73.6,321.98 122.7,314.53 171.4,302.88" fill="none" stroke="#b43c72" stroke-width="1.5" stroke-linejoin="round"/>
<polyline points="24,329.67 73.6,310.33 97,309.4 122.7,307.07 171.4,297.75" fill="none" stroke="#5fa0a8" stroke-width="1.6" stroke-linejoin="round"/>
<polyline points="24.5,332.47 73.6,332.47 122.7,331.88 171.4,330.02" fill="none" stroke="#c8842e" stroke-width="1.8" stroke-linejoin="round"/>
<path d="M22.2 332.7H24.3" stroke="#3a3a3a" stroke-width="1.1"/>
<text x="21.2" y="336.1" font-size="8.3" fill="#333" text-anchor="end">0</text>
<path d="M22.2 309.4H24.3" stroke="#3a3a3a" stroke-width="1.1"/>
<text x="21.2" y="312.8" font-size="8.3" fill="#333" text-anchor="end">10</text>
<path d="M22.2 286.1H24.3" stroke="#3a3a3a" stroke-width="1.1"/>
<text x="21.2" y="289.5" font-size="8.3" fill="#333" text-anchor="end">20</text>
<path d="M22.2 262.8H24.3" stroke="#3a3a3a" stroke-width="1.1"/>
<text x="21.2" y="266.2" font-size="8.3" fill="#333" text-anchor="end">30</text>
<path d="M22.2 239.5H24.3" stroke="#3a3a3a" stroke-width="1.1"/>
<text x="21.2" y="242.9" font-size="8.3" fill="#333" text-anchor="end">40</text>
<path d="M22.2 216.2H24.3" stroke="#3a3a3a" stroke-width="1.1"/>
<text x="21.2" y="219.6" font-size="8.3" fill="#333" text-anchor="end">50</text>
<path d="M73.6 332.7V334.8" stroke="#3a3a3a" stroke-width="1.1"/>
<path d="M122.7 332.7V334.8" stroke="#3a3a3a" stroke-width="1.1"/>
<path d="M171.4 332.7V334.8" stroke="#3a3a3a" stroke-width="1.1"/>
<text x="16.6" y="343.5" font-size="8.3" fill="#333" textLength="19.7" lengthAdjust="spacingAndGlyphs">None</text>
<text x="66.7" y="343.5" font-size="8.3" fill="#333" textLength="14.9" lengthAdjust="spacingAndGlyphs">Low</text>
<text x="113.8" y="343.5" font-size="8.3" fill="#333" textLength="16.2" lengthAdjust="spacingAndGlyphs">Med</text>
<text x="162.6" y="343.5" font-size="8.3" fill="#333" textLength="17.4" lengthAdjust="spacingAndGlyphs">High</text>
<text x="60.4" y="360.4" font-size="10.2" fill="#333" textLength="75.6" lengthAdjust="spacingAndGlyphs">Stimulus Strength</text>
<text x="8.4" y="268.4" font-size="9.3" fill="#333" text-anchor="middle" textLength="64.7" lengthAdjust="spacingAndGlyphs" transform="rotate(-90 8.4 268.4)">Firing Rate (Hz)</text>
<text x="30" y="223.8" font-size="9.6" fill="#333" textLength="12" lengthAdjust="spacingAndGlyphs">PN</text>
<text x="30" y="234.2" font-size="9.6" fill="#b03c70" textLength="10.8" lengthAdjust="spacingAndGlyphs">PV</text>
<text x="30" y="244.8" font-size="9.6" fill="#c4843c" textLength="20.2" lengthAdjust="spacingAndGlyphs">SOM</text>
<text x="30" y="257" font-size="9.6" fill="#62a2aa" textLength="13.6" lengthAdjust="spacingAndGlyphs">VIP</text>
<text x="183.3" y="201.8" font-size="15.6" fill="#111">e</text>
<text x="208.4" y="272.3" font-size="10.6" fill="#333" text-anchor="middle" textLength="102.7" lengthAdjust="spacingAndGlyphs" transform="rotate(-90 208.4 272.3)">Normalized Bin Count</text>
<text x="217" y="269" font-size="10.6" fill="#333" text-anchor="middle" transform="rotate(-90 217 269)">(mV)</text>
<rect x="238.3" y="327.79" width="14.1" height="5.31" fill="#878787" stroke="#6e6e6e" stroke-width="0.5"/>
<rect x="252.4" y="303.35" width="13.8" height="29.75" fill="#878787" stroke="#6e6e6e" stroke-width="0.5"/>
<rect x="266.2" y="227.93" width="13.4" height="105.17" fill="#878787" stroke="#6e6e6e" stroke-width="0.5"/>
<rect x="279.6" y="321.92" width="13.6" height="11.18" fill="#878787" stroke="#6e6e6e" stroke-width="0.5"/>
<path d="M235.3 219.4V333.1H293.5" stroke="#3a3a3a" stroke-width="1.2" fill="none"/>
<path d="M233.1 333.1H235.3" stroke="#3a3a3a" stroke-width="1"/>
<text x="232.3" y="336" font-size="8.2" fill="#333" text-anchor="end" textLength="4" lengthAdjust="spacingAndGlyphs">0</text>
<path d="M233.1 314.15H235.3" stroke="#3a3a3a" stroke-width="1"/>
<text x="232.3" y="317.05" font-size="8.2" fill="#333" text-anchor="end" textLength="10.7" lengthAdjust="spacingAndGlyphs">0.1</text>
<path d="M233.1 295.2H235.3" stroke="#3a3a3a" stroke-width="1"/>
<text x="232.3" y="298.1" font-size="8.2" fill="#333" text-anchor="end" textLength="10.7" lengthAdjust="spacingAndGlyphs">0.2</text>
<path d="M233.1 276.25H235.3" stroke="#3a3a3a" stroke-width="1"/>
<text x="232.3" y="279.15" font-size="8.2" fill="#333" text-anchor="end" textLength="10.7" lengthAdjust="spacingAndGlyphs">0.3</text>
<path d="M233.1 257.3H235.3" stroke="#3a3a3a" stroke-width="1"/>
<text x="232.3" y="260.2" font-size="8.2" fill="#333" text-anchor="end" textLength="10.7" lengthAdjust="spacingAndGlyphs">0.4</text>
<path d="M233.1 238.35H235.3" stroke="#3a3a3a" stroke-width="1"/>
<text x="232.3" y="241.25" font-size="8.2" fill="#333" text-anchor="end" textLength="10.7" lengthAdjust="spacingAndGlyphs">0.5</text>
<path d="M233.1 219.4H235.3" stroke="#3a3a3a" stroke-width="1"/>
<text x="232.3" y="222.3" font-size="8.2" fill="#333" text-anchor="end" textLength="10.7" lengthAdjust="spacingAndGlyphs">0.6</text>
<path d="M245.3 333.1V335.1" stroke="#3a3a3a" stroke-width="1"/>
<text x="245.3" y="342.4" font-size="8.1" fill="#333" text-anchor="middle">0</text>
<path d="M267.3 333.1V335.1" stroke="#3a3a3a" stroke-width="1"/>
<text x="267.3" y="342.4" font-size="8.1" fill="#333" text-anchor="middle">2</text>
<path d="M289 333.1V335.1" stroke="#3a3a3a" stroke-width="1"/>
<text x="289" y="342.4" font-size="8.1" fill="#333" text-anchor="middle">4</text>
<text x="261.5" y="356.4" font-size="10.8" fill="#333" font-style="italic">l</text>
<text x="264.6" y="349.8" font-size="5.8" fill="#333" font-style="italic" textLength="7.6" lengthAdjust="spacingAndGlyphs">PN</text>
<text x="264.8" y="360" font-size="8.8" fill="#333" font-style="italic" textLength="16.9" lengthAdjust="spacingAndGlyphs">recov</text>
<rect x="321.2" y="221.96" width="14" height="110.74" fill="#c68ca3" stroke="#b57b93" stroke-width="0.5"/>
<rect x="335.2" y="289.31" width="13.6" height="43.39" fill="#c68ca3" stroke="#b57b93" stroke-width="0.5"/>
<rect x="348.8" y="306.71" width="13.3" height="25.99" fill="#c68ca3" stroke="#b57b93" stroke-width="0.5"/>
<path d="M318.4 219.7V332.7H375" stroke="#3a3a3a" stroke-width="1.2" fill="none"/>
<path d="M316.2 332.7H318.4" stroke="#3a3a3a" stroke-width="1"/>
<text x="315.4" y="335.6" font-size="8.2" fill="#333" text-anchor="end" textLength="4" lengthAdjust="spacingAndGlyphs">0</text>
<path d="M316.2 310.1H318.4" stroke="#3a3a3a" stroke-width="1"/>
<text x="315.4" y="313" font-size="8.2" fill="#333" text-anchor="end" textLength="10.7" lengthAdjust="spacingAndGlyphs">0.1</text>
<path d="M316.2 287.5H318.4" stroke="#3a3a3a" stroke-width="1"/>
<text x="315.4" y="290.4" font-size="8.2" fill="#333" text-anchor="end" textLength="10.7" lengthAdjust="spacingAndGlyphs">0.2</text>
<path d="M316.2 264.9H318.4" stroke="#3a3a3a" stroke-width="1"/>
<text x="315.4" y="267.8" font-size="8.2" fill="#333" text-anchor="end" textLength="10.7" lengthAdjust="spacingAndGlyphs">0.3</text>
<path d="M316.2 242.3H318.4" stroke="#3a3a3a" stroke-width="1"/>
<text x="315.4" y="245.2" font-size="8.2" fill="#333" text-anchor="end" textLength="10.7" lengthAdjust="spacingAndGlyphs">0.4</text>
<path d="M316.2 219.7H318.4" stroke="#3a3a3a" stroke-width="1"/>
<text x="315.4" y="222.6" font-size="8.2" fill="#333" text-anchor="end" textLength="10.7" lengthAdjust="spacingAndGlyphs">0.5</text>
<path d="M327.8 332.7V334.7" stroke="#3a3a3a" stroke-width="1"/>
<text x="327.8" y="342" font-size="8.1" fill="#333" text-anchor="middle">0</text>
<path d="M350 332.7V334.7" stroke="#3a3a3a" stroke-width="1"/>
<text x="350" y="342" font-size="8.1" fill="#333" text-anchor="middle">2</text>
<path d="M371.3 332.7V334.7" stroke="#3a3a3a" stroke-width="1"/>
<text x="371.3" y="342" font-size="8.1" fill="#333" text-anchor="middle">4</text>
<text x="344.3" y="356.4" font-size="10.8" fill="#333" font-style="italic">l</text>
<text x="347.7" y="349.8" font-size="5.8" fill="#333" font-style="italic" textLength="7" lengthAdjust="spacingAndGlyphs">PV</text>
<text x="347.3" y="360" font-size="8.8" fill="#333" font-style="italic" textLength="16.9" lengthAdjust="spacingAndGlyphs">recov</text>
<rect x="402.7" y="299.46" width="13.8" height="33.74" fill="#a6c8cb" stroke="#95b9bd" stroke-width="0.5"/>
<rect x="416.5" y="282.13" width="13.6" height="51.07" fill="#a6c8cb" stroke="#95b9bd" stroke-width="0.5"/>
<rect x="430.1" y="264.8" width="13.5" height="68.4" fill="#a6c8cb" stroke="#95b9bd" stroke-width="0.5"/>
<rect x="443.6" y="236.98" width="13.9" height="96.22" fill="#a6c8cb" stroke="#95b9bd" stroke-width="0.5"/>
<rect x="457.5" y="220.11" width="13.5" height="113.09" fill="#a6c8cb" stroke="#95b9bd" stroke-width="0.5"/>
<path d="M399.6 219.2V333.2H475" stroke="#3a3a3a" stroke-width="1.2" fill="none"/>
<path d="M397.4 333.2H399.6" stroke="#3a3a3a" stroke-width="1"/>
<text x="396.6" y="336.1" font-size="8.2" fill="#333" text-anchor="end" textLength="4" lengthAdjust="spacingAndGlyphs">0</text>
<path d="M397.4 310.4H399.6" stroke="#3a3a3a" stroke-width="1"/>
<text x="396.6" y="313.3" font-size="8.2" fill="#333" text-anchor="end" textLength="14.7" lengthAdjust="spacingAndGlyphs">0.05</text>
<path d="M397.4 287.6H399.6" stroke="#3a3a3a" stroke-width="1"/>
<text x="396.6" y="290.5" font-size="8.2" fill="#333" text-anchor="end" textLength="10.7" lengthAdjust="spacingAndGlyphs">0.1</text>
<path d="M397.4 264.8H399.6" stroke="#3a3a3a" stroke-width="1"/>
<text x="396.6" y="267.7" font-size="8.2" fill="#333" text-anchor="end" textLength="14.7" lengthAdjust="spacingAndGlyphs">0.15</text>
<path d="M397.4 242H399.6" stroke="#3a3a3a" stroke-width="1"/>
<text x="396.6" y="244.9" font-size="8.2" fill="#333" text-anchor="end" textLength="10.7" lengthAdjust="spacingAndGlyphs">0.2</text>
<path d="M397.4 219.2H399.6" stroke="#3a3a3a" stroke-width="1"/>
<text x="396.6" y="222.1" font-size="8.2" fill="#333" text-anchor="end" textLength="14.7" lengthAdjust="spacingAndGlyphs">0.25</text>
<path d="M409.1 333.2V335.2" stroke="#3a3a3a" stroke-width="1"/>
<text x="409.1" y="342.5" font-size="8.1" fill="#333" text-anchor="middle">0</text>
<path d="M430.8 333.2V335.2" stroke="#3a3a3a" stroke-width="1"/>
<text x="430.8" y="342.5" font-size="8.1" fill="#333" text-anchor="middle">2</text>
<path d="M453.1 333.2V335.2" stroke="#3a3a3a" stroke-width="1"/>
<text x="453.1" y="342.5" font-size="8.1" fill="#333" text-anchor="middle">4</text>
<text x="430.9" y="356.4" font-size="10.8" fill="#333" font-style="italic">l</text>
<text x="435.4" y="349.8" font-size="5.8" fill="#333" font-style="italic" textLength="8.2" lengthAdjust="spacingAndGlyphs">VIP</text>
<text x="434.2" y="360" font-size="8.8" fill="#333" font-style="italic" textLength="16.9" lengthAdjust="spacingAndGlyphs">recov</text>
<text x="488.6" y="201.8" font-size="15.4" fill="#111">f</text>
<path d="M525.3 219.6V331.6H669" stroke="#3a3a3a" stroke-width="1.4" fill="none"/>
<path d="M523.3 221.4H525.3" stroke="#3a3a3a" stroke-width="1"/>
<text x="521.4" y="224.8" font-size="8.2" fill="#333" text-anchor="end">15</text>
<path d="M523.3 233.9H525.3" stroke="#3a3a3a" stroke-width="1"/>
<text x="521.4" y="237.3" font-size="8.2" fill="#333" text-anchor="end">10</text>
<path d="M523.3 246.4H525.3" stroke="#3a3a3a" stroke-width="1"/>
<text x="521.4" y="249.8" font-size="8.2" fill="#333" text-anchor="end">5</text>
<path d="M523.3 258.9H525.3" stroke="#3a3a3a" stroke-width="1"/>
<text x="521.4" y="262.3" font-size="8.2" fill="#333" text-anchor="end">0</text>
<path d="M523.3 271.4H525.3" stroke="#3a3a3a" stroke-width="1"/>
<text x="521.4" y="274.8" font-size="8.2" fill="#333" text-anchor="end">-5</text>
<path d="M523.3 283.9H525.3" stroke="#3a3a3a" stroke-width="1"/>
<text x="521.4" y="287.3" font-size="8.2" fill="#333" text-anchor="end">-10</text>
<path d="M523.3 296.4H525.3" stroke="#3a3a3a" stroke-width="1"/>
<text x="521.4" y="299.8" font-size="8.2" fill="#333" text-anchor="end">-15</text>
<path d="M523.3 308.9H525.3" stroke="#3a3a3a" stroke-width="1"/>
<text x="521.4" y="312.3" font-size="8.2" fill="#333" text-anchor="end">-20</text>
<path d="M523.3 321.4H525.3" stroke="#3a3a3a" stroke-width="1"/>
<text x="521.4" y="324.8" font-size="8.2" fill="#333" text-anchor="end">-25</text>
<path d="M543.4 331.6V333.8" stroke="#3a3a3a" stroke-width="1"/>
<path d="M579 331.6V333.8" stroke="#3a3a3a" stroke-width="1"/>
<path d="M614.8 331.6V333.8" stroke="#3a3a3a" stroke-width="1"/>
<path d="M650.4 331.6V333.8" stroke="#3a3a3a" stroke-width="1"/>
<text x="534.5" y="341.2" font-size="8.3" fill="#333" textLength="19.7" lengthAdjust="spacingAndGlyphs">None</text>
<text x="572.5" y="341.2" font-size="8.3" fill="#333" textLength="15.7" lengthAdjust="spacingAndGlyphs">Low</text>
<text x="606" y="341.2" font-size="8.3" fill="#333" textLength="16.4" lengthAdjust="spacingAndGlyphs">Med</text>
<text x="642.4" y="341.2" font-size="8.3" fill="#333" textLength="17.3" lengthAdjust="spacingAndGlyphs">High</text>
<text x="562.2" y="360.6" font-size="10.2" fill="#333" textLength="75.8" lengthAdjust="spacingAndGlyphs">Stimulus Strength</text>
<text x="500.2" y="270.7" font-size="8.1" fill="#333" text-anchor="middle" textLength="72.6" lengthAdjust="spacingAndGlyphs" transform="rotate(-90 500.2 270.7)">Ave. Synaptic Input</text>
<text x="508.3" y="272.8" font-size="8.1" fill="#333" text-anchor="middle" textLength="48.4" lengthAdjust="spacingAndGlyphs" transform="rotate(-90 508.3 272.8)">to SOM (mV)</text>
<circle cx="541.1" cy="223.1" r="0.9" fill="#222"/>
<text x="544.2" y="225.8" font-size="7.7" fill="#333" textLength="71.6" lengthAdjust="spacingAndGlyphs">Control (Undamaged)</text>
<path d="M543.4 248.9V256.9M543.4 262.5V267.3" stroke="#efd9cb" stroke-width="0.8" stroke-dasharray="2.5 1.5"/>
<path d="M539 248.9H547.8M539 267.3H547.8" stroke="#efd9cb" stroke-width="0.8"/>
<path d="M534.1 256.9H552.7V258.5L548.2 259.6L552.7 260.7V262.5H534.1V260.7L538.6 259.6L534.1 258.5Z" fill="#c8b47b" stroke="#b8a46c" stroke-width="0.6"/>
<circle cx="543.4" cy="248.4" r="1.0" fill="#222"/>
<path d="M579.25 243.4V253.9M579.25 271.8V299" stroke="#efd9cb" stroke-width="0.8" stroke-dasharray="2.5 1.5"/>
<path d="M575.05 243.4H583.45M575.05 299H583.45" stroke="#efd9cb" stroke-width="0.8"/>
<path d="M570.2 253.9H588.3V259.1L583.6 262.8L588.3 265.9V271.8H570.2V265.9L574.9 262.8L570.2 259.1Z" fill="#c8b47b" stroke="#b8a46c" stroke-width="0.6"/>
<circle cx="579.25" cy="239.3" r="1.0" fill="#222"/>
<path d="M614.95 239.7V248.9M614.95 270.8V306.5" stroke="#efd9cb" stroke-width="0.8" stroke-dasharray="2.5 1.5"/>
<path d="M610.45 239.7H619.45M610.45 306.5H619.45" stroke="#efd9cb" stroke-width="0.8"/>
<path d="M606.1 248.9H623.8V255.3L620 258L623.8 260.6V270.8H606.1V260.6L609.9 258L606.1 255.3Z" fill="#c8b47b" stroke="#b8a46c" stroke-width="0.6"/>
<circle cx="614.95" cy="236.1" r="1.0" fill="#222"/>
<path d="M650.6 234.1V244.2M650.6 274.5V327.5" stroke="#efd9cb" stroke-width="0.8" stroke-dasharray="2.5 1.5"/>
<path d="M646.1 234.1H655.1M646.1 327.5H655.1" stroke="#efd9cb" stroke-width="0.8"/>
<path d="M641.7 244.2H659.5V250.5L655 255L659.5 259.1V274.5H641.7V259.1L646.2 255L641.7 250.5Z" fill="#c8b47b" stroke="#b8a46c" stroke-width="0.6"/>
<circle cx="650.6" cy="231.8" r="1.0" fill="#222"/>
</svg>
</body></html>
